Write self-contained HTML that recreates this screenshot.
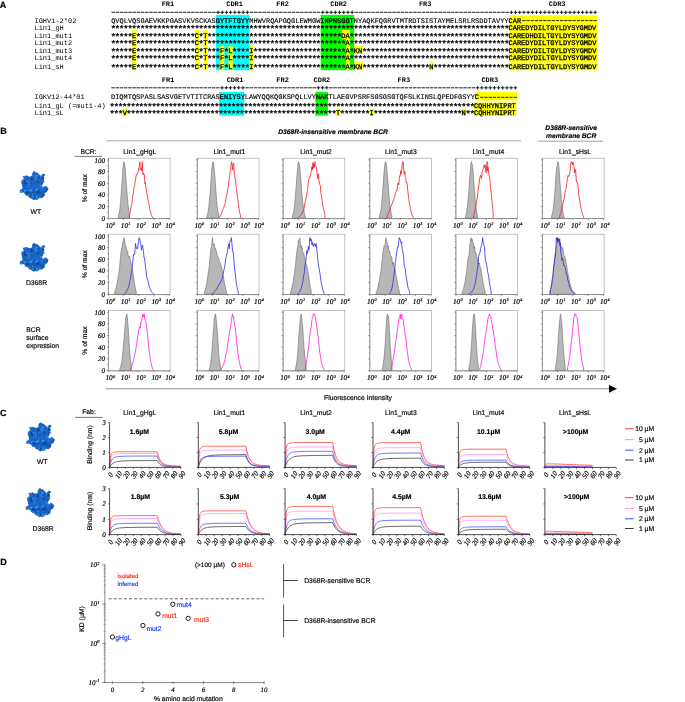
<!DOCTYPE html>
<html><head><meta charset="utf-8"><title>Figure</title>
<style>html,body{margin:0;padding:0;background:#fff;}svg{display:block;will-change:transform;}text{text-rendering:geometricPrecision;}.s{font-family:'Liberation Sans', sans-serif;}.r{font-family:'Liberation Serif', serif;}.m{font-family:'Liberation Mono', monospace;}.r{stroke:#000;stroke-width:0.18px;}.ml{stroke:#000;stroke-width:0.12px;}.s{stroke:#000;stroke-width:0.16px;}.st{stroke:#000;stroke-width:0.25px;}.sb{stroke:#000;stroke-width:0.3px;}</style>
</head><body>
<svg width="685" height="702" viewBox="0 0 685 702">
<rect width="685" height="702" fill="#fff"/>
<defs><clipPath id="bc"><path d="M2.96 5.29 L3.94 5.36 L4.89 5.12 L5.88 5 L7.14 4.85 L8.16 5.72 L9.38 5.88 L10.18 5.77 L10.92 5.48 L11.72 5.29 L12.41 4.43 L12.19 3.38 L12.3 2.38 L13.03 1.65 L13.66 0.81 L14.64 0.33 L15.32 1.37 L16.41 1.61 L17.56 1.79 L17.63 2.94 L18.96 3.15 L19.31 4.13 L20.12 4.17 L20.68 5.19 L21.65 4.71 L22.1 3.71 L22.88 3.15 L23.98 2.96 L24.44 3.27 L24.79 3.69 L25.15 4.13 L24.26 4.89 L23.7 5.78 L23.98 7.05 L24.11 8.21 L23.7 9.47 L24.56 10.55 L23.4 11.2 L22.68 12.21 L22.23 13.47 L21.72 14.57 L22.47 15.43 L22.81 16.39 L24.03 16.17 L25.02 15.29 L26.32 15.22 L26.93 16.04 L27.73 16.71 L28.36 17.56 L27.79 18.48 L27.5 19.53 L26.9 20.48 L26.02 21.14 L25.08 21.74 L24.56 22.81 L24.69 23.98 L24.3 24.94 L23.4 25.73 L22.35 26.44 L21.14 26.67 L19.89 26.9 L18.92 27.21 L18.08 27.7 L17.56 28.65 L16.37 28.38 L15.19 28.19 L14.05 28.94 L12.77 28.48 L11.86 27.4 L10.55 26.9 L9.37 26.4 L8.78 25.17 L7.63 24.56 L6.36 24.18 L5.48 23.3 L4.71 22.23 L3.47 21.29 L2.08 21.37 L0.62 21.65 L0.02 21.2 L0.37 20.45 L0.04 19.89 L0.44 18.75 L1.75 18.52 L2.38 17.56 L3.21 16.72 L2.69 15.62 L2.96 14.64 L2.16 13.81 L2.15 12.51 L1.21 11.72 L2 11.34 L1.89 10.66 L1.79 9.97 L2.09 9.16 L2.82 9 L3.54 8.8 L3.94 7.54 L3.58 6.42Z"/></clipPath>
<g id="blob"><path d="M2.96 5.29 L3.94 5.36 L4.89 5.12 L5.88 5 L7.14 4.85 L8.16 5.72 L9.38 5.88 L10.18 5.77 L10.92 5.48 L11.72 5.29 L12.41 4.43 L12.19 3.38 L12.3 2.38 L13.03 1.65 L13.66 0.81 L14.64 0.33 L15.32 1.37 L16.41 1.61 L17.56 1.79 L17.63 2.94 L18.96 3.15 L19.31 4.13 L20.12 4.17 L20.68 5.19 L21.65 4.71 L22.1 3.71 L22.88 3.15 L23.98 2.96 L24.44 3.27 L24.79 3.69 L25.15 4.13 L24.26 4.89 L23.7 5.78 L23.98 7.05 L24.11 8.21 L23.7 9.47 L24.56 10.55 L23.4 11.2 L22.68 12.21 L22.23 13.47 L21.72 14.57 L22.47 15.43 L22.81 16.39 L24.03 16.17 L25.02 15.29 L26.32 15.22 L26.93 16.04 L27.73 16.71 L28.36 17.56 L27.79 18.48 L27.5 19.53 L26.9 20.48 L26.02 21.14 L25.08 21.74 L24.56 22.81 L24.69 23.98 L24.3 24.94 L23.4 25.73 L22.35 26.44 L21.14 26.67 L19.89 26.9 L18.92 27.21 L18.08 27.7 L17.56 28.65 L16.37 28.38 L15.19 28.19 L14.05 28.94 L12.77 28.48 L11.86 27.4 L10.55 26.9 L9.37 26.4 L8.78 25.17 L7.63 24.56 L6.36 24.18 L5.48 23.3 L4.71 22.23 L3.47 21.29 L2.08 21.37 L0.62 21.65 L0.02 21.2 L0.37 20.45 L0.04 19.89 L0.44 18.75 L1.75 18.52 L2.38 17.56 L3.21 16.72 L2.69 15.62 L2.96 14.64 L2.16 13.81 L2.15 12.51 L1.21 11.72 L2 11.34 L1.89 10.66 L1.79 9.97 L2.09 9.16 L2.82 9 L3.54 8.8 L3.94 7.54 L3.58 6.42Z" fill="#1a64c4" stroke="#1a64c4" stroke-width="0.4" stroke-linejoin="round"/>
<g clip-path="url(#bc)">
<circle cx="2.88" cy="1.74" r="1.14" fill="#104690"/>
<circle cx="19.44" cy="5.46" r="0.91" fill="#104690"/>
<circle cx="11.95" cy="11.13" r="0.82" fill="#0f4088"/>
<circle cx="0.01" cy="25.07" r="1.28" fill="#1d6ccc"/>
<circle cx="8.67" cy="25.66" r="0.67" fill="#2278da"/>
<circle cx="28.38" cy="17.46" r="0.96" fill="#1452a8"/>
<circle cx="28.2" cy="6.18" r="0.71" fill="#1d6ccc"/>
<circle cx="9.38" cy="8.59" r="0.56" fill="#1557b0"/>
<circle cx="5.95" cy="18.46" r="0.51" fill="#3f9aee"/>
<circle cx="10.59" cy="13.14" r="1.27" fill="#165cba"/>
<circle cx="23.72" cy="3.94" r="0.81" fill="#104690"/>
<circle cx="8.86" cy="6.62" r="0.99" fill="#0f4088"/>
<circle cx="4.52" cy="18.24" r="0.94" fill="#2278da"/>
<circle cx="25.14" cy="17.5" r="0.84" fill="#1557b0"/>
<circle cx="3.11" cy="14.86" r="0.7" fill="#2278da"/>
<circle cx="7.32" cy="23.89" r="0.98" fill="#2f86e0"/>
<circle cx="14.82" cy="26.95" r="1.28" fill="#104690"/>
<circle cx="6.51" cy="16.22" r="1.18" fill="#1d6ccc"/>
<circle cx="2.11" cy="6.16" r="1.23" fill="#1452a8"/>
<circle cx="1.97" cy="11.93" r="0.7" fill="#1452a8"/>
<circle cx="5.02" cy="10.69" r="0.96" fill="#104690"/>
<circle cx="2.63" cy="4.01" r="0.86" fill="#3f9aee"/>
<circle cx="18.72" cy="20.05" r="0.97" fill="#104690"/>
<circle cx="16.81" cy="26.78" r="0.88" fill="#3f9aee"/>
<circle cx="19.98" cy="27.92" r="0.52" fill="#1557b0"/>
<circle cx="13.74" cy="21.18" r="0.76" fill="#1557b0"/>
<circle cx="2.14" cy="15.84" r="1.09" fill="#104690"/>
<circle cx="22.61" cy="26.54" r="0.78" fill="#165cba"/>
<circle cx="25.67" cy="25.26" r="0.83" fill="#1452a8"/>
<circle cx="24.61" cy="16.61" r="1" fill="#2278da"/>
<circle cx="10.81" cy="0.36" r="0.56" fill="#1557b0"/>
<circle cx="18.22" cy="28.81" r="1.2" fill="#3f9aee"/>
<circle cx="11.07" cy="21.32" r="0.96" fill="#165cba"/>
<circle cx="13.18" cy="15.7" r="0.91" fill="#1a66c6"/>
<circle cx="0.85" cy="17.44" r="0.88" fill="#0f4088"/>
<circle cx="27.29" cy="3.27" r="1.12" fill="#165cba"/>
<circle cx="7.29" cy="0.33" r="0.74" fill="#1d6ccc"/>
<circle cx="5.77" cy="4.92" r="1.22" fill="#165cba"/>
<circle cx="14.2" cy="7" r="0.82" fill="#2f86e0"/>
<circle cx="5.66" cy="12.5" r="1.14" fill="#0f4088"/>
<circle cx="25.09" cy="11.15" r="0.97" fill="#3f9aee"/>
<circle cx="5.98" cy="3.9" r="0.78" fill="#1452a8"/>
<circle cx="20.27" cy="27.55" r="0.72" fill="#104690"/>
<circle cx="3.22" cy="13.67" r="1.24" fill="#2278da"/>
<circle cx="10.9" cy="15.08" r="1.04" fill="#1d6ccc"/>
<circle cx="12.9" cy="2.17" r="0.53" fill="#1d6ccc"/>
<circle cx="1.18" cy="20.55" r="0.96" fill="#2f86e0"/>
<circle cx="18.5" cy="16.36" r="1.01" fill="#2278da"/>
<circle cx="12.96" cy="0.72" r="1.16" fill="#0f4088"/>
<circle cx="22.21" cy="23.11" r="1.29" fill="#1557b0"/>
<circle cx="12.72" cy="18.27" r="1.02" fill="#3f9aee"/>
<circle cx="27.32" cy="19.85" r="0.66" fill="#165cba"/>
<circle cx="7.3" cy="20.71" r="1.1" fill="#1a66c6"/>
<circle cx="20.35" cy="5.19" r="0.72" fill="#3f9aee"/>
<circle cx="15.38" cy="27.46" r="0.9" fill="#104690"/>
<circle cx="11.22" cy="22.97" r="1.22" fill="#1557b0"/>
<circle cx="11.7" cy="25.89" r="0.81" fill="#165cba"/>
<circle cx="12.93" cy="18.14" r="1.23" fill="#2278da"/>
<circle cx="15.68" cy="18.93" r="0.9" fill="#3f9aee"/>
<circle cx="13.22" cy="18.89" r="0.66" fill="#1557b0"/>
<circle cx="6.08" cy="26.1" r="1.28" fill="#2f86e0"/>
<circle cx="15.3" cy="22.93" r="0.76" fill="#1452a8"/>
<circle cx="9.93" cy="2.4" r="0.85" fill="#1a66c6"/>
<circle cx="12.01" cy="7.98" r="1.24" fill="#0f4088"/>
<circle cx="23.06" cy="1.86" r="1.14" fill="#104690"/>
<circle cx="15.19" cy="19.91" r="1.23" fill="#165cba"/>
<circle cx="4.24" cy="14.98" r="1.08" fill="#165cba"/>
<circle cx="26.95" cy="14.28" r="1.26" fill="#1557b0"/>
<circle cx="21.6" cy="12.74" r="0.95" fill="#1a66c6"/>
<circle cx="18.21" cy="15.16" r="1.17" fill="#1a66c6"/>
<circle cx="7.31" cy="19.47" r="1.26" fill="#1d6ccc"/>
<circle cx="5.93" cy="24.67" r="1.27" fill="#1a66c6"/>
<circle cx="7.78" cy="14.43" r="0.83" fill="#1557b0"/>
<circle cx="14.34" cy="17.55" r="0.52" fill="#1452a8"/>
<circle cx="14.71" cy="11.62" r="1.14" fill="#1d6ccc"/>
<circle cx="3.48" cy="2.7" r="0.63" fill="#1a66c6"/>
<circle cx="13.08" cy="26.7" r="1.14" fill="#2278da"/>
<circle cx="7.67" cy="13.72" r="0.6" fill="#2278da"/>
<circle cx="25.68" cy="27.13" r="1.24" fill="#1a66c6"/>
<circle cx="9.04" cy="5.55" r="0.99" fill="#2f86e0"/>
<circle cx="3.69" cy="22.6" r="0.52" fill="#0f4088"/>
<circle cx="4.43" cy="0.34" r="0.73" fill="#3f9aee"/>
<circle cx="6.97" cy="14.47" r="0.9" fill="#1d6ccc"/>
<circle cx="3.5" cy="14.8" r="0.7" fill="#0f4088"/>
<circle cx="19.99" cy="25.48" r="0.52" fill="#2278da"/>
<circle cx="23.52" cy="17.86" r="0.93" fill="#1a66c6"/>
<circle cx="18.2" cy="15.36" r="1.18" fill="#1d6ccc"/>
<circle cx="16.72" cy="3.96" r="1.23" fill="#3f9aee"/>
<circle cx="25.73" cy="9.16" r="0.75" fill="#0f4088"/>
<circle cx="6.22" cy="28.95" r="1.21" fill="#104690"/>
<circle cx="25.34" cy="3.84" r="0.57" fill="#2278da"/>
<circle cx="2.76" cy="24.13" r="0.84" fill="#104690"/>
<circle cx="5.72" cy="18.21" r="1.14" fill="#1557b0"/>
<circle cx="5.73" cy="19.79" r="1.23" fill="#3f9aee"/>
<circle cx="3.29" cy="14.66" r="1.11" fill="#1a66c6"/>
<circle cx="28.46" cy="24.16" r="1.14" fill="#165cba"/>
<circle cx="3.03" cy="1.09" r="0.94" fill="#1a66c6"/>
<circle cx="25.8" cy="13.96" r="0.65" fill="#1557b0"/>
<circle cx="5.81" cy="24.37" r="1.29" fill="#1557b0"/>
<circle cx="16.52" cy="3.9" r="1.04" fill="#1557b0"/>
<circle cx="21.79" cy="9.48" r="0.87" fill="#1a66c6"/>
<circle cx="10.11" cy="6.09" r="0.8" fill="#1452a8"/>
<circle cx="24.06" cy="5.26" r="0.86" fill="#3f9aee"/>
<circle cx="11.55" cy="5.66" r="0.63" fill="#1a66c6"/>
<circle cx="22.58" cy="9.39" r="0.57" fill="#2278da"/>
<circle cx="16.24" cy="5.54" r="0.97" fill="#3f9aee"/>
<circle cx="22.94" cy="7.49" r="1.23" fill="#104690"/>
<circle cx="23.22" cy="11.76" r="1.22" fill="#1a66c6"/>
<circle cx="19.8" cy="22.25" r="1.11" fill="#2278da"/>
<circle cx="5.89" cy="5.36" r="1.14" fill="#2f86e0"/>
<circle cx="13.36" cy="0.31" r="0.78" fill="#1d6ccc"/>
<circle cx="1.41" cy="7.92" r="1.27" fill="#2f86e0"/>
<circle cx="9.63" cy="19.13" r="0.96" fill="#1a66c6"/>
<circle cx="2.19" cy="14.93" r="0.9" fill="#0f4088"/>
<circle cx="19.99" cy="22.09" r="1.28" fill="#1452a8"/>
<circle cx="3.27" cy="3.13" r="0.69" fill="#165cba"/>
<circle cx="11.44" cy="1.46" r="0.66" fill="#2278da"/>
<circle cx="0.31" cy="7.5" r="0.72" fill="#3f9aee"/>
<circle cx="15.68" cy="14.73" r="1.27" fill="#1d6ccc"/>
<circle cx="24.12" cy="2.89" r="0.86" fill="#1557b0"/>
<circle cx="15.66" cy="19.38" r="1.26" fill="#2278da"/>
<circle cx="26.51" cy="4.64" r="0.88" fill="#104690"/>
<circle cx="24.39" cy="15.72" r="0.98" fill="#2278da"/>
<circle cx="26.94" cy="12.2" r="0.92" fill="#1d6ccc"/>
<circle cx="8.9" cy="15.38" r="0.89" fill="#2f86e0"/>
<circle cx="15.98" cy="8.22" r="1.07" fill="#2f86e0"/>
<circle cx="0.77" cy="22.4" r="0.97" fill="#104690"/>
<circle cx="11.65" cy="19.85" r="0.54" fill="#3f9aee"/>
<circle cx="21.33" cy="1.45" r="1.29" fill="#3f9aee"/>
<circle cx="2.09" cy="26.26" r="0.84" fill="#165cba"/>
<circle cx="7.15" cy="21.91" r="0.54" fill="#1557b0"/>
<circle cx="26.71" cy="20.96" r="0.87" fill="#0f4088"/>
<circle cx="17.2" cy="3.34" r="1" fill="#165cba"/>
<circle cx="3.36" cy="24.97" r="0.79" fill="#104690"/>
<circle cx="3.54" cy="12.84" r="1.03" fill="#165cba"/>
<circle cx="17.13" cy="18.55" r="1.05" fill="#3f9aee"/>
<circle cx="22.17" cy="15.39" r="1.3" fill="#2f86e0"/>
<circle cx="20.93" cy="6.91" r="0.59" fill="#2f86e0"/>
<circle cx="22.35" cy="18.12" r="0.79" fill="#2f86e0"/>
<circle cx="17.38" cy="21.03" r="1.06" fill="#0f4088"/>
<circle cx="18.04" cy="21.85" r="0.65" fill="#0f4088"/>
<circle cx="14.31" cy="18.94" r="0.66" fill="#1452a8"/>
<circle cx="17.91" cy="0.27" r="0.71" fill="#1452a8"/>
<circle cx="17.77" cy="2.97" r="0.93" fill="#1557b0"/>
<circle cx="21.54" cy="26.47" r="0.63" fill="#0f4088"/>
<circle cx="17.99" cy="10.82" r="0.88" fill="#0f4088"/>
<circle cx="9.64" cy="14.34" r="0.61" fill="#1557b0"/>
<circle cx="22.86" cy="12.97" r="1.16" fill="#0f4088"/>
<circle cx="12.66" cy="21.67" r="0.81" fill="#104690"/>
<circle cx="10.52" cy="18.96" r="1.29" fill="#3f9aee"/>
<circle cx="8.29" cy="22.01" r="1.16" fill="#104690"/>
<circle cx="12.19" cy="10.71" r="0.58" fill="#3f9aee"/>
<circle cx="2.24" cy="2.41" r="0.95" fill="#165cba"/>
<circle cx="23.24" cy="13.44" r="1.16" fill="#1452a8"/>
<circle cx="2.17" cy="6.18" r="1.03" fill="#1557b0"/>
<circle cx="19.81" cy="14.35" r="1.11" fill="#3f9aee"/>
<circle cx="8.06" cy="4.14" r="0.79" fill="#3f9aee"/>
<circle cx="10.44" cy="3.4" r="1.07" fill="#1d6ccc"/>
<circle cx="16.95" cy="26.17" r="1.05" fill="#2f86e0"/>
<circle cx="12.48" cy="23.29" r="0.74" fill="#3f9aee"/>
<circle cx="6.3" cy="28.07" r="1.08" fill="#1a66c6"/>
<circle cx="7.08" cy="10.49" r="0.79" fill="#3f9aee"/>
<circle cx="19.29" cy="16.96" r="1.14" fill="#1d6ccc"/>
<circle cx="10.5" cy="11.32" r="0.62" fill="#1d6ccc"/>
<circle cx="16.04" cy="5.12" r="1.11" fill="#2f86e0"/>
<circle cx="23.14" cy="6.42" r="0.55" fill="#104690"/>
<circle cx="16.17" cy="28.03" r="1.02" fill="#2278da"/>
<circle cx="1.83" cy="15.86" r="1.13" fill="#1557b0"/>
<circle cx="9.53" cy="7.94" r="0.58" fill="#3f9aee"/>
<circle cx="2.41" cy="18.39" r="0.62" fill="#2278da"/>
<circle cx="7" cy="6.39" r="1.11" fill="#1a66c6"/>
<circle cx="9.64" cy="13.31" r="0.78" fill="#3f9aee"/>
<circle cx="19.16" cy="14.32" r="0.93" fill="#1557b0"/>
<circle cx="20.18" cy="26.53" r="0.83" fill="#3f9aee"/>
<circle cx="24.32" cy="23.37" r="1.17" fill="#165cba"/>
<circle cx="27.3" cy="18.57" r="0.92" fill="#1452a8"/>
<circle cx="22.86" cy="12.23" r="0.84" fill="#104690"/>
<circle cx="7" cy="4.71" r="1.01" fill="#104690"/>
<circle cx="9.15" cy="11.29" r="0.92" fill="#2f86e0"/>
<circle cx="27.64" cy="1.72" r="0.75" fill="#1557b0"/>
<circle cx="8.65" cy="4.51" r="1.24" fill="#1452a8"/>
<circle cx="21.46" cy="0.5" r="0.88" fill="#1452a8"/>
<circle cx="8.91" cy="5.73" r="0.79" fill="#1d6ccc"/>
<circle cx="6.71" cy="20.8" r="0.98" fill="#0f4088"/>
<circle cx="12.6" cy="25.94" r="0.82" fill="#2f86e0"/>
<circle cx="17.86" cy="27.32" r="0.94" fill="#2f86e0"/>
<circle cx="13.82" cy="11.68" r="1.26" fill="#1a66c6"/>
<circle cx="21.99" cy="2.68" r="1.19" fill="#2278da"/>
<circle cx="1.42" cy="27.48" r="1.14" fill="#2278da"/>
<circle cx="27.82" cy="23.05" r="1.12" fill="#1452a8"/>
<circle cx="18.74" cy="6.89" r="0.51" fill="#165cba"/>
<circle cx="25.8" cy="13.05" r="0.7" fill="#2278da"/>
<circle cx="17.27" cy="4.56" r="0.63" fill="#3f9aee"/>
<circle cx="4.13" cy="26.34" r="1.15" fill="#104690"/>
<circle cx="18.15" cy="28.8" r="0.71" fill="#1a66c6"/>
<circle cx="1.51" cy="16.58" r="0.64" fill="#0f4088"/>
<circle cx="23.41" cy="24.54" r="1.16" fill="#1557b0"/>
<circle cx="10.02" cy="17.83" r="0.92" fill="#165cba"/>
<circle cx="19.77" cy="2.4" r="1.1" fill="#1a66c6"/>
<circle cx="24.43" cy="8.8" r="1.13" fill="#2278da"/>
</g></g></defs>
<rect x="215.95" y="14.9" width="33.52" height="55.3" fill="#00ffff"/>
<rect x="320.7" y="14.9" width="33.52" height="55.3" fill="#00ff00"/>
<rect x="508.95" y="15.3" width="88.59" height="54.9" fill="#ffff00"/>
<rect x="508.95" y="30.95" width="88.59" height="0.5" fill="#ffffa0"/>
<rect x="508.95" y="47.05" width="88.59" height="0.5" fill="#ffffa0"/>
<rect x="508.95" y="62.55" width="88.59" height="0.5" fill="#ffffa0"/>
<rect x="132.15" y="30" width="4.19" height="9" fill="#ffff00"/>
<rect x="195" y="30" width="4.19" height="9" fill="#ffff00"/>
<rect x="203.38" y="30" width="4.19" height="9" fill="#ffff00"/>
<rect x="341.65" y="30" width="4.19" height="9" fill="#ffff00"/>
<rect x="345.84" y="30" width="4.19" height="9" fill="#ffff00"/>
<rect x="132.15" y="39" width="4.19" height="7" fill="#ffff00"/>
<rect x="195" y="39" width="4.19" height="7" fill="#ffff00"/>
<rect x="203.38" y="39" width="4.19" height="7" fill="#ffff00"/>
<rect x="345.84" y="39" width="4.19" height="7" fill="#ffff00"/>
<rect x="132.15" y="46" width="4.19" height="8" fill="#ffff00"/>
<rect x="195" y="46" width="4.19" height="8" fill="#ffff00"/>
<rect x="203.38" y="46" width="4.19" height="8" fill="#ffff00"/>
<rect x="220.14" y="46" width="4.19" height="8" fill="#ffff00"/>
<rect x="228.52" y="46" width="4.19" height="8" fill="#ffff00"/>
<rect x="249.47" y="46" width="4.19" height="8" fill="#ffff00"/>
<rect x="345.84" y="46" width="4.19" height="8" fill="#ffff00"/>
<rect x="354.22" y="46" width="4.19" height="8" fill="#ffff00"/>
<rect x="358.41" y="46" width="4.19" height="8" fill="#ffff00"/>
<rect x="132.15" y="54" width="4.19" height="7.5" fill="#ffff00"/>
<rect x="195" y="54" width="4.19" height="7.5" fill="#ffff00"/>
<rect x="203.38" y="54" width="4.19" height="7.5" fill="#ffff00"/>
<rect x="220.14" y="54" width="4.19" height="7.5" fill="#ffff00"/>
<rect x="228.52" y="54" width="4.19" height="7.5" fill="#ffff00"/>
<rect x="249.47" y="54" width="4.19" height="7.5" fill="#ffff00"/>
<rect x="345.84" y="54" width="4.19" height="7.5" fill="#ffff00"/>
<rect x="132.15" y="61.5" width="4.19" height="8.7" fill="#ffff00"/>
<rect x="195" y="61.5" width="4.19" height="8.7" fill="#ffff00"/>
<rect x="203.38" y="61.5" width="4.19" height="8.7" fill="#ffff00"/>
<rect x="220.14" y="61.5" width="4.19" height="8.7" fill="#ffff00"/>
<rect x="228.52" y="61.5" width="4.19" height="8.7" fill="#ffff00"/>
<rect x="249.47" y="61.5" width="4.19" height="8.7" fill="#ffff00"/>
<rect x="345.84" y="61.5" width="4.19" height="8.7" fill="#ffff00"/>
<rect x="354.22" y="61.5" width="4.19" height="8.7" fill="#ffff00"/>
<rect x="358.41" y="61.5" width="4.19" height="8.7" fill="#ffff00"/>
<rect x="429.64" y="61.5" width="4.19" height="8.7" fill="#ffff00"/>
<text class="m" x="167.9" y="6.1" font-size="6.98" text-anchor="middle" font-weight="bold">FR1</text>
<text class="m" x="234.6" y="6.1" font-size="6.98" text-anchor="middle" font-weight="bold">CDR1</text>
<text class="m" x="282.6" y="6.1" font-size="6.98" text-anchor="middle" font-weight="bold">FR2</text>
<text class="m" x="338.7" y="6.1" font-size="6.98" text-anchor="middle" font-weight="bold">CDR2</text>
<text class="m" x="425.2" y="6.1" font-size="6.98" text-anchor="middle" font-weight="bold">FR3</text>
<text class="m" x="557.2" y="6.1" font-size="6.98" text-anchor="middle" font-weight="bold">CDR3</text>
<path d="M111.55 12.3h3.5M115.74 12.3h3.5M119.93 12.3h3.5M124.12 12.3h3.5M128.31 12.3h3.5M132.5 12.3h3.5M136.69 12.3h3.5M140.88 12.3h3.5M145.07 12.3h3.5M149.26 12.3h3.5M153.45 12.3h3.5M157.64 12.3h3.5M161.83 12.3h3.5M166.02 12.3h3.5M170.21 12.3h3.5M174.4 12.3h3.5M178.59 12.3h3.5M182.78 12.3h3.5M186.97 12.3h3.5M191.16 12.3h3.5M195.35 12.3h3.5M199.54 12.3h3.5M203.73 12.3h3.5M207.92 12.3h3.5M212.11 12.3h3.5M216.3 12.3h3.5M218.05 10.6v3.4M220.49 12.3h3.5M222.24 10.6v3.4M224.68 12.3h3.5M226.43 10.6v3.4M228.87 12.3h3.5M230.62 10.6v3.4M233.06 12.3h3.5M234.81 10.6v3.4M237.25 12.3h3.5M239 10.6v3.4M241.44 12.3h3.5M243.19 10.6v3.4M245.63 12.3h3.5M247.38 10.6v3.4M249.82 12.3h3.5M254.01 12.3h3.5M258.2 12.3h3.5M262.39 12.3h3.5M266.58 12.3h3.5M270.77 12.3h3.5M274.96 12.3h3.5M279.15 12.3h3.5M283.34 12.3h3.5M287.53 12.3h3.5M291.72 12.3h3.5M295.91 12.3h3.5M300.1 12.3h3.5M304.29 12.3h3.5M308.48 12.3h3.5M312.67 12.3h3.5M316.86 12.3h3.5M321.05 12.3h3.5M322.8 10.6v3.4M325.24 12.3h3.5M326.99 10.6v3.4M329.43 12.3h3.5M331.18 10.6v3.4M333.62 12.3h3.5M335.37 10.6v3.4M337.81 12.3h3.5M339.56 10.6v3.4M342 12.3h3.5M343.75 10.6v3.4M346.19 12.3h3.5M347.94 10.6v3.4M350.38 12.3h3.5M352.13 10.6v3.4M354.57 12.3h3.5M358.76 12.3h3.5M362.95 12.3h3.5M367.14 12.3h3.5M371.33 12.3h3.5M375.52 12.3h3.5M379.71 12.3h3.5M383.9 12.3h3.5M388.09 12.3h3.5M392.28 12.3h3.5M396.47 12.3h3.5M400.66 12.3h3.5M404.85 12.3h3.5M409.04 12.3h3.5M413.23 12.3h3.5M417.42 12.3h3.5M421.61 12.3h3.5M425.8 12.3h3.5M429.99 12.3h3.5M434.18 12.3h3.5M438.37 12.3h3.5M442.56 12.3h3.5M446.75 12.3h3.5M450.94 12.3h3.5M455.13 12.3h3.5M459.32 12.3h3.5M463.51 12.3h3.5M467.7 12.3h3.5M471.89 12.3h3.5M476.08 12.3h3.5M480.27 12.3h3.5M484.46 12.3h3.5M488.65 12.3h3.5M492.84 12.3h3.5M497.03 12.3h3.5M501.22 12.3h3.5M505.41 12.3h3.5M509.6 12.3h3.5M511.35 10.6v3.4M513.79 12.3h3.5M515.54 10.6v3.4M517.98 12.3h3.5M519.73 10.6v3.4M522.17 12.3h3.5M523.92 10.6v3.4M526.36 12.3h3.5M528.11 10.6v3.4M530.55 12.3h3.5M532.3 10.6v3.4M534.74 12.3h3.5M536.49 10.6v3.4M538.93 12.3h3.5M540.68 10.6v3.4M543.12 12.3h3.5M544.87 10.6v3.4M547.31 12.3h3.5M549.06 10.6v3.4M551.5 12.3h3.5M553.25 10.6v3.4M555.69 12.3h3.5M557.44 10.6v3.4M559.88 12.3h3.5M561.63 10.6v3.4M564.07 12.3h3.5M565.82 10.6v3.4M568.26 12.3h3.5M570.01 10.6v3.4M572.45 12.3h3.5M574.2 10.6v3.4M576.64 12.3h3.5M578.39 10.6v3.4M580.83 12.3h3.5M582.58 10.6v3.4M585.02 12.3h3.5M586.77 10.6v3.4M589.21 12.3h3.5M590.96 10.6v3.4M593.4 12.3h3.5M595.15 10.6v3.4" stroke="#111" stroke-width="0.95" fill="none"/>
<text class="m" x="34.5" y="22.6" font-size="6.98">IGHV1-2*02</text>
<text class="m ml" x="111.2" y="22.6" font-size="6.98" letter-spacing="0">QVQLVQSGAEVKKPGASVKVSCKAS<tspan class="sb">GYTFTGYY</tspan>MHWVRQAPGQGLEWMGW<tspan class="sb">INPNSGGT</tspan>NYAQKFQGRVTMTRDTSISTAYMELSRLRSDDTAVYY<tspan class="sb">CAR</tspan></text>
<path d="M522.27 20.6h3.3M526.46 20.6h3.3M530.65 20.6h3.3M534.84 20.6h3.3M539.03 20.6h3.3M543.22 20.6h3.3M547.41 20.6h3.3M551.6 20.6h3.3M555.79 20.6h3.3M559.98 20.6h3.3M564.17 20.6h3.3M568.36 20.6h3.3M572.55 20.6h3.3M576.74 20.6h3.3M580.93 20.6h3.3M585.12 20.6h3.3M589.31 20.6h3.3M593.5 20.6h3.3" stroke="#111" stroke-width="0.9" fill="none"/>
<text class="m" x="34.5" y="29.5" font-size="6.98">Lin1_gH</text>
<text class="m ml" x="111.2" y="29.5" font-size="6.98" letter-spacing="0">                                                                                               <tspan class="sb">CAREDYDILTGYLDYSYGMDV</tspan></text>
<text class="m st" x="110.42" y="31.85" font-size="9.6" letter-spacing="-1.57">***********************************************************************************************</text>
<text class="m" x="34.5" y="37.7" font-size="6.98">Lin1_mut1</text>
<text class="m ml" x="111.2" y="37.7" font-size="6.98" letter-spacing="0">     <tspan class="sb">E</tspan>              <tspan class="sb">C</tspan> <tspan class="sb">T</tspan>                                <tspan class="sb">DA</tspan>                                      <tspan class="sb">CAREDHDILTGYLDYSYGMDV</tspan></text>
<text class="m st" x="110.42" y="40.05" font-size="9.6" letter-spacing="-1.57">***** ************** * ********************************  **************************************</text>
<text class="m" x="34.5" y="44.7" font-size="6.98">Lin1_mut2</text>
<text class="m ml" x="111.2" y="44.7" font-size="6.98" letter-spacing="0">     <tspan class="sb">E</tspan>              <tspan class="sb">C</tspan> <tspan class="sb">T</tspan>                                 <tspan class="sb">A</tspan>                                      <tspan class="sb">CAREDYDILTGYLDYSYGMDV</tspan></text>
<text class="m st" x="110.42" y="47.05" font-size="9.6" letter-spacing="-1.57">***** ************** * ********************************* **************************************</text>
<text class="m" x="34.5" y="52.9" font-size="6.98">Lin1_mut3</text>
<text class="m ml" x="111.2" y="52.9" font-size="6.98" letter-spacing="0">     <tspan class="sb">E</tspan>              <tspan class="sb">C</tspan> <tspan class="sb">T</tspan>   <tspan class="sb">F</tspan> <tspan class="sb">L</tspan>    <tspan class="sb">I</tspan>                      <tspan class="sb">A</tspan> <tspan class="sb">KN</tspan>                                   <tspan class="sb">CAREDYDILTGYLDYSYGMDV</tspan></text>
<text class="m st" x="110.42" y="55.25" font-size="9.6" letter-spacing="-1.57">***** ************** * *** * **** ********************** *  ***********************************</text>
<text class="m" x="34.5" y="60.1" font-size="6.98">Lin1_mut4</text>
<text class="m ml" x="111.2" y="60.1" font-size="6.98" letter-spacing="0">     <tspan class="sb">E</tspan>              <tspan class="sb">C</tspan> <tspan class="sb">T</tspan>   <tspan class="sb">F</tspan> <tspan class="sb">L</tspan>    <tspan class="sb">I</tspan>                      <tspan class="sb">A</tspan>                                      <tspan class="sb">CAREDYDILTGYLDYSYGMDV</tspan></text>
<text class="m st" x="110.42" y="62.45" font-size="9.6" letter-spacing="-1.57">***** ************** * *** * **** ********************** **************************************</text>
<text class="m" x="34.5" y="68.6" font-size="6.98">Lin1_sH</text>
<text class="m ml" x="111.2" y="68.6" font-size="6.98" letter-spacing="0">     <tspan class="sb">E</tspan>              <tspan class="sb">C</tspan> <tspan class="sb">T</tspan>   <tspan class="sb">F</tspan> <tspan class="sb">L</tspan>    <tspan class="sb">I</tspan>                      <tspan class="sb">A</tspan> <tspan class="sb">KN</tspan>                <tspan class="sb">N</tspan>                  <tspan class="sb">CAREDYDILTGYLDYSYGMDV</tspan></text>
<text class="m st" x="110.42" y="70.95" font-size="9.6" letter-spacing="-1.57">***** ************** * *** * **** ********************** *  **************** ******************</text>
<rect x="219.04" y="91.8" width="25.14" height="23.9" fill="#00ffff"/>
<rect x="315.41" y="91.8" width="12.57" height="23.9" fill="#00ff00"/>
<rect x="475.33" y="91.8" width="41.9" height="8.7" fill="#ffff00"/>
<rect x="474.03" y="102.6" width="42.2" height="13.3" fill="#ffff00"/>
<rect x="122.57" y="108.5" width="4.19" height="7.3" fill="#ffff00"/>
<rect x="336.26" y="108.5" width="4.19" height="7.3" fill="#ffff00"/>
<rect x="369.78" y="108.5" width="4.19" height="7.3" fill="#ffff00"/>
<rect x="461.96" y="108.5" width="4.19" height="7.3" fill="#ffff00"/>
<text class="m" x="168.1" y="82.4" font-size="6.98" text-anchor="middle" font-weight="bold">FR1</text>
<text class="m" x="235" y="82.4" font-size="6.98" text-anchor="middle" font-weight="bold">CDR1</text>
<text class="m" x="282.6" y="82.4" font-size="6.98" text-anchor="middle" font-weight="bold">FR2</text>
<text class="m" x="321.9" y="82.4" font-size="6.98" text-anchor="middle" font-weight="bold">CDR2</text>
<text class="m" x="403.8" y="82.4" font-size="6.98" text-anchor="middle" font-weight="bold">FR3</text>
<text class="m" x="489.8" y="82.4" font-size="6.98" text-anchor="middle" font-weight="bold">CDR3</text>
<path d="M111.35 87.8h3.5M115.54 87.8h3.5M119.73 87.8h3.5M123.92 87.8h3.5M128.11 87.8h3.5M132.3 87.8h3.5M136.49 87.8h3.5M140.68 87.8h3.5M144.87 87.8h3.5M149.06 87.8h3.5M153.25 87.8h3.5M157.44 87.8h3.5M161.63 87.8h3.5M165.82 87.8h3.5M170.01 87.8h3.5M174.2 87.8h3.5M178.39 87.8h3.5M182.58 87.8h3.5M186.77 87.8h3.5M190.96 87.8h3.5M195.15 87.8h3.5M199.34 87.8h3.5M203.53 87.8h3.5M207.72 87.8h3.5M211.91 87.8h3.5M216.1 87.8h3.5M220.29 87.8h3.5M222.03 86.1v3.4M224.48 87.8h3.5M226.22 86.1v3.4M228.67 87.8h3.5M230.41 86.1v3.4M232.86 87.8h3.5M234.6 86.1v3.4M237.05 87.8h3.5M238.8 86.1v3.4M241.24 87.8h3.5M242.99 86.1v3.4M245.43 87.8h3.5M249.62 87.8h3.5M253.81 87.8h3.5M258 87.8h3.5M262.19 87.8h3.5M266.38 87.8h3.5M270.57 87.8h3.5M274.76 87.8h3.5M278.95 87.8h3.5M283.14 87.8h3.5M287.33 87.8h3.5M291.52 87.8h3.5M295.71 87.8h3.5M299.9 87.8h3.5M304.09 87.8h3.5M308.28 87.8h3.5M312.47 87.8h3.5M316.66 87.8h3.5M318.41 86.1v3.4M320.85 87.8h3.5M322.6 86.1v3.4M325.04 87.8h3.5M326.79 86.1v3.4M329.23 87.8h3.5M333.42 87.8h3.5M337.61 87.8h3.5M341.8 87.8h3.5M345.99 87.8h3.5M350.18 87.8h3.5M354.37 87.8h3.5M358.56 87.8h3.5M362.75 87.8h3.5M366.94 87.8h3.5M371.13 87.8h3.5M375.32 87.8h3.5M379.51 87.8h3.5M383.7 87.8h3.5M387.89 87.8h3.5M392.08 87.8h3.5M396.27 87.8h3.5M400.46 87.8h3.5M404.65 87.8h3.5M408.84 87.8h3.5M413.03 87.8h3.5M417.22 87.8h3.5M421.41 87.8h3.5M425.6 87.8h3.5M429.79 87.8h3.5M433.98 87.8h3.5M438.17 87.8h3.5M442.36 87.8h3.5M446.55 87.8h3.5M450.74 87.8h3.5M454.93 87.8h3.5M459.12 87.8h3.5M463.31 87.8h3.5M467.5 87.8h3.5M471.69 87.8h3.5M475.88 87.8h3.5M477.63 86.1v3.4M480.07 87.8h3.5M481.82 86.1v3.4M484.26 87.8h3.5M486.01 86.1v3.4M488.45 87.8h3.5M490.2 86.1v3.4M492.64 87.8h3.5M494.39 86.1v3.4M496.83 87.8h3.5M498.58 86.1v3.4M501.02 87.8h3.5M502.77 86.1v3.4M505.21 87.8h3.5M506.96 86.1v3.4M509.4 87.8h3.5M511.15 86.1v3.4M513.59 87.8h3.5M515.34 86.1v3.4" stroke="#111" stroke-width="0.95" fill="none"/>
<text class="m" x="34.5" y="99.3" font-size="6.98">IGKV12-44*01</text>
<text class="m ml" x="111" y="99.3" font-size="6.98" letter-spacing="0">DIQMTQSPASLSASVGETVTITCRAS<tspan class="sb">ENIYSY</tspan>LAWYQQKQGKSPQLLVY<tspan class="sb">NAK</tspan>TLAEGVPSRFSGSGSGTQFSLKINSLQPEDFGSYY<tspan class="sb">C</tspan></text>
<path d="M480.17 97.3h3.3M484.36 97.3h3.3M488.55 97.3h3.3M492.74 97.3h3.3M496.93 97.3h3.3M501.12 97.3h3.3M505.31 97.3h3.3M509.5 97.3h3.3M513.69 97.3h3.3" stroke="#111" stroke-width="0.9" fill="none"/>
<text class="m" x="34.5" y="108" font-size="6.98">Lin1_gL (=mut1-4)</text>
<text class="m ml" x="110.1" y="108" font-size="6.98" letter-spacing="0">                                                                                       <tspan class="sb">CQHHYNIPRT</tspan></text>
<text class="m st" x="109.32" y="110.35" font-size="9.6" letter-spacing="-1.57">***************************************************************************************</text>
<text class="m" x="34.5" y="114.9" font-size="6.98">Lin1_sL</text>
<text class="m ml" x="110.1" y="114.9" font-size="6.98" letter-spacing="0">   <tspan class="sb">V</tspan>                                                  <tspan class="sb">T</tspan>       <tspan class="sb">I</tspan>                     <tspan class="sb">N</tspan>  <tspan class="sb">CQHHYNIPRT</tspan></text>
<text class="m st" x="109.32" y="117.25" font-size="9.6" letter-spacing="-1.57">*** ************************************************** ******* ********************* **</text>
<text class="s" x="-0.3" y="7.9" font-size="9" font-weight="bold">A</text>
<text class="s" x="0.2" y="133.7" font-size="9" font-weight="bold">B</text>
<text class="s" x="0" y="415.8" font-size="9" font-weight="bold">C</text>
<text class="s" x="0.2" y="564.5" font-size="9" font-weight="bold">D</text>
<text class="s" x="333" y="133.6" font-size="6.7" text-anchor="middle" font-weight="bold" font-style="italic">D368R-insensitive membrane BCR</text>
<text class="s" x="571.2" y="129.5" font-size="6.7" text-anchor="middle" font-weight="bold" font-style="italic">D368R-sensitive</text>
<text class="s" x="571.2" y="137.7" font-size="6.7" text-anchor="middle" font-weight="bold" font-style="italic">membrane BCR</text>
<line x1="106.4" y1="140.8" x2="521" y2="140.8" stroke="#8c8c8c" stroke-width="0.8"/>
<line x1="537.8" y1="141.2" x2="603" y2="141.2" stroke="#8c8c8c" stroke-width="0.8"/>
<text class="s" x="88.5" y="153.6" font-size="6.8" text-anchor="middle">BCR:</text>
<line x1="74.7" y1="156.4" x2="102" y2="156.4" stroke="#222" stroke-width="0.6"/>
<text class="s" x="139.8" y="153.8" font-size="6.8" text-anchor="middle">Lin1_gHgL</text>
<text class="s" x="229.4" y="153.8" font-size="6.8" text-anchor="middle">Lin1_mut1</text>
<text class="s" x="316" y="153.8" font-size="6.8" text-anchor="middle">Lin1_mut2</text>
<text class="s" x="400.8" y="153.8" font-size="6.8" text-anchor="middle">Lin1_mut3</text>
<text class="s" x="488.3" y="153.8" font-size="6.8" text-anchor="middle">Lin1_mut4</text>
<text class="s" x="575.1" y="153.8" font-size="6.8" text-anchor="middle">Lin1_sHsL</text>
<use href="#blob" x="19.9" y="171"/>
<use href="#blob" x="19.9" y="242.6"/>
<text class="s" x="35.9" y="213.6" font-size="6.8" text-anchor="middle">WT</text>
<text class="s" x="36.5" y="285.1" font-size="6.8" text-anchor="middle">D368R</text>
<text class="s" x="26.2" y="331.8" font-size="6.8">BCR</text>
<text class="s" x="26.2" y="340" font-size="6.8">surface</text>
<text class="s" x="26.2" y="348.2" font-size="6.8">expression</text>
<text class="s" font-size="6.8" text-anchor="middle" transform="translate(86.6 188.2) rotate(-90)">% of max</text>
<rect x="108.4" y="158.2" width="61.7" height="60.3" fill="#fff" stroke="#a8a8a8" stroke-width="0.7"/>
<path d="M118.4 218.2 L118.4 216.12 L118.85 214.78 L119.3 212.79 L119.75 209.78 L120.2 206.1 L120.65 201.21 L121.1 194.82 L121.55 188.87 L122 182.19 L122.45 174.85 L122.9 168.46 L123.35 164.71 L123.8 161.65 L124.25 162.73 L124.7 164.06 L125.15 167.88 L125.6 173.89 L126.05 180.07 L126.5 186.27 L126.95 191.8 L127.4 197.55 L127.85 202.73 L128.3 206.98 L128.75 210.53 L129.2 213.04 L129.65 214.77 L129.65 218.2Z" fill="#b7b7b7" stroke="#5a5a5a" stroke-width="0.5" stroke-linejoin="round"/>
<path d="M129.3 218.2 L129.3 215.08 L129.8 213.52 L130.3 211.16 L130.8 208.92 L131.3 205.59 L131.8 203.56 L132.3 199.85 L132.8 194.82 L133.3 194.71 L133.8 188.63 L134.3 186.08 L134.8 184.48 L135.3 180.73 L135.8 177.73 L136.3 174.59 L136.8 175.28 L137.3 174.56 L137.8 172.91 L138.3 171.73 L138.8 167.68 L139.3 167.19 L139.8 161.81 L140.3 169.79 L140.8 168.38 L141.3 168.28 L141.8 170.72 L142.3 161.65 L142.8 174.33 L143.3 172.83 L143.8 174.79 L144.3 174.38 L144.8 183.75 L145.3 182.54 L145.8 187.46 L146.3 189.9 L146.8 192.95 L147.3 194.69 L147.8 199.01 L148.3 201.22 L148.8 203.56 L149.3 205.82 L149.8 209.72 L150.3 210.93 L150.8 212.88 L151.3 214.7 L151.8 215.86 L152.3 216.77 L152.8 217.27 L152.8 218.2" fill="none" stroke="#f01c24" stroke-width="0.8" stroke-linejoin="round"/>
<line x1="108.4" y1="158.2" x2="108.4" y2="218.5" stroke="#777" stroke-width="0.6"/>
<line x1="108.4" y1="218.5" x2="170.1" y2="218.5" stroke="#777" stroke-width="0.6"/>
<line x1="106.8" y1="218.2" x2="108.4" y2="218.2" stroke="#444" stroke-width="0.5"/>
<line x1="107.5" y1="212.37" x2="108.4" y2="212.37" stroke="#444" stroke-width="0.5"/>
<line x1="106.8" y1="206.54" x2="108.4" y2="206.54" stroke="#444" stroke-width="0.5"/>
<line x1="107.5" y1="200.71" x2="108.4" y2="200.71" stroke="#444" stroke-width="0.5"/>
<line x1="106.8" y1="194.88" x2="108.4" y2="194.88" stroke="#444" stroke-width="0.5"/>
<line x1="107.5" y1="189.05" x2="108.4" y2="189.05" stroke="#444" stroke-width="0.5"/>
<line x1="106.8" y1="183.22" x2="108.4" y2="183.22" stroke="#444" stroke-width="0.5"/>
<line x1="107.5" y1="177.39" x2="108.4" y2="177.39" stroke="#444" stroke-width="0.5"/>
<line x1="106.8" y1="171.56" x2="108.4" y2="171.56" stroke="#444" stroke-width="0.5"/>
<line x1="107.5" y1="165.73" x2="108.4" y2="165.73" stroke="#444" stroke-width="0.5"/>
<line x1="106.8" y1="159.9" x2="108.4" y2="159.9" stroke="#444" stroke-width="0.5"/>
<line x1="108.4" y1="218.5" x2="108.4" y2="220" stroke="#444" stroke-width="0.5"/>
<line x1="113.01" y1="218.5" x2="113.01" y2="219.3" stroke="#777" stroke-width="0.35"/>
<line x1="115.7" y1="218.5" x2="115.7" y2="219.3" stroke="#777" stroke-width="0.35"/>
<line x1="117.61" y1="218.5" x2="117.61" y2="219.3" stroke="#777" stroke-width="0.35"/>
<line x1="119.09" y1="218.5" x2="119.09" y2="219.3" stroke="#777" stroke-width="0.35"/>
<line x1="120.31" y1="218.5" x2="120.31" y2="219.3" stroke="#777" stroke-width="0.35"/>
<line x1="121.33" y1="218.5" x2="121.33" y2="219.3" stroke="#777" stroke-width="0.35"/>
<line x1="122.22" y1="218.5" x2="122.22" y2="219.3" stroke="#777" stroke-width="0.35"/>
<line x1="123" y1="218.5" x2="123" y2="219.3" stroke="#777" stroke-width="0.35"/>
<text class="r" x="110.3" y="228.1" font-size="7.3" font-style="italic" text-anchor="middle">10<tspan dy="-2.7" dx="0.25" font-size="4.2">0</tspan></text>
<line x1="123.7" y1="218.5" x2="123.7" y2="220" stroke="#444" stroke-width="0.5"/>
<line x1="128.31" y1="218.5" x2="128.31" y2="219.3" stroke="#777" stroke-width="0.35"/>
<line x1="131" y1="218.5" x2="131" y2="219.3" stroke="#777" stroke-width="0.35"/>
<line x1="132.91" y1="218.5" x2="132.91" y2="219.3" stroke="#777" stroke-width="0.35"/>
<line x1="134.39" y1="218.5" x2="134.39" y2="219.3" stroke="#777" stroke-width="0.35"/>
<line x1="135.61" y1="218.5" x2="135.61" y2="219.3" stroke="#777" stroke-width="0.35"/>
<line x1="136.63" y1="218.5" x2="136.63" y2="219.3" stroke="#777" stroke-width="0.35"/>
<line x1="137.52" y1="218.5" x2="137.52" y2="219.3" stroke="#777" stroke-width="0.35"/>
<line x1="138.3" y1="218.5" x2="138.3" y2="219.3" stroke="#777" stroke-width="0.35"/>
<text class="r" x="125.6" y="228.1" font-size="7.3" font-style="italic" text-anchor="middle">10<tspan dy="-2.7" dx="0.25" font-size="4.2">1</tspan></text>
<line x1="139" y1="218.5" x2="139" y2="220" stroke="#444" stroke-width="0.5"/>
<line x1="143.61" y1="218.5" x2="143.61" y2="219.3" stroke="#777" stroke-width="0.35"/>
<line x1="146.3" y1="218.5" x2="146.3" y2="219.3" stroke="#777" stroke-width="0.35"/>
<line x1="148.21" y1="218.5" x2="148.21" y2="219.3" stroke="#777" stroke-width="0.35"/>
<line x1="149.69" y1="218.5" x2="149.69" y2="219.3" stroke="#777" stroke-width="0.35"/>
<line x1="150.91" y1="218.5" x2="150.91" y2="219.3" stroke="#777" stroke-width="0.35"/>
<line x1="151.93" y1="218.5" x2="151.93" y2="219.3" stroke="#777" stroke-width="0.35"/>
<line x1="152.82" y1="218.5" x2="152.82" y2="219.3" stroke="#777" stroke-width="0.35"/>
<line x1="153.6" y1="218.5" x2="153.6" y2="219.3" stroke="#777" stroke-width="0.35"/>
<text class="r" x="140.9" y="228.1" font-size="7.3" font-style="italic" text-anchor="middle">10<tspan dy="-2.7" dx="0.25" font-size="4.2">2</tspan></text>
<line x1="154.3" y1="218.5" x2="154.3" y2="220" stroke="#444" stroke-width="0.5"/>
<line x1="158.91" y1="218.5" x2="158.91" y2="219.3" stroke="#777" stroke-width="0.35"/>
<line x1="161.6" y1="218.5" x2="161.6" y2="219.3" stroke="#777" stroke-width="0.35"/>
<line x1="163.51" y1="218.5" x2="163.51" y2="219.3" stroke="#777" stroke-width="0.35"/>
<line x1="164.99" y1="218.5" x2="164.99" y2="219.3" stroke="#777" stroke-width="0.35"/>
<line x1="166.21" y1="218.5" x2="166.21" y2="219.3" stroke="#777" stroke-width="0.35"/>
<line x1="167.23" y1="218.5" x2="167.23" y2="219.3" stroke="#777" stroke-width="0.35"/>
<line x1="168.12" y1="218.5" x2="168.12" y2="219.3" stroke="#777" stroke-width="0.35"/>
<line x1="168.9" y1="218.5" x2="168.9" y2="219.3" stroke="#777" stroke-width="0.35"/>
<text class="r" x="156.2" y="228.1" font-size="7.3" font-style="italic" text-anchor="middle">10<tspan dy="-2.7" dx="0.25" font-size="4.2">3</tspan></text>
<line x1="169.6" y1="218.5" x2="169.6" y2="220" stroke="#444" stroke-width="0.5"/>
<text class="r" x="170" y="228.1" font-size="7.3" font-style="italic" text-anchor="middle">10<tspan dy="-2.7" dx="0.25" font-size="4.2">4</tspan></text>
<text class="r" x="105" y="220.8" font-size="7" text-anchor="end" font-style="italic">0</text>
<text class="r" x="105" y="209.14" font-size="7" text-anchor="end" font-style="italic">20</text>
<text class="r" x="105" y="197.48" font-size="7" text-anchor="end" font-style="italic">40</text>
<text class="r" x="105" y="185.82" font-size="7" text-anchor="end" font-style="italic">60</text>
<text class="r" x="105" y="174.16" font-size="7" text-anchor="end" font-style="italic">80</text>
<text class="r" x="105" y="162.5" font-size="7" text-anchor="end" font-style="italic">100</text>
<rect x="197.3" y="158.2" width="61.7" height="60.3" fill="#fff" stroke="#a8a8a8" stroke-width="0.7"/>
<path d="M206.8 218.2 L206.8 216.42 L207.25 215.35 L207.7 213.67 L208.15 211.34 L208.6 208.26 L209.05 204.32 L209.5 198.94 L209.95 194.75 L210.4 189.7 L210.85 181.77 L211.3 175.33 L211.75 169.47 L212.2 165.65 L212.65 162.95 L213.1 161.65 L213.55 162.6 L214 167.44 L214.45 172.1 L214.9 176.16 L215.35 183.26 L215.8 190.14 L216.25 194.84 L216.7 200.51 L217.15 205.38 L217.6 209.08 L218.05 211.78 L218.5 214 L218.95 215.46 L218.95 218.2Z" fill="#b7b7b7" stroke="#5a5a5a" stroke-width="0.5" stroke-linejoin="round"/>
<path d="M219.2 218.2 L219.2 217.29 L219.7 216.7 L220.2 215.81 L220.7 215.05 L221.2 214.17 L221.7 212.76 L222.2 211.6 L222.7 210.1 L223.2 208.61 L223.7 207.65 L224.2 206.17 L224.7 204.57 L225.2 203.27 L225.7 200.02 L226.2 197.03 L226.7 195.42 L227.2 193.02 L227.7 189.83 L228.2 186.94 L228.7 183.14 L229.2 178.55 L229.7 175.46 L230.2 171.52 L230.7 170.66 L231.2 162.68 L231.7 161.65 L232.2 166.09 L232.7 170.12 L233.2 164.27 L233.7 163.31 L234.2 171.44 L234.7 175.32 L235.2 178.98 L235.7 181.28 L236.2 187.51 L236.7 189.82 L237.2 195.07 L237.7 198.44 L238.2 202.9 L238.7 206.79 L239.2 210.32 L239.7 212.72 L240.2 214.66 L240.7 215.97 L240.7 218.2" fill="none" stroke="#f01c24" stroke-width="0.8" stroke-linejoin="round"/>
<line x1="197.3" y1="158.2" x2="197.3" y2="218.5" stroke="#777" stroke-width="0.6"/>
<line x1="197.3" y1="218.5" x2="259" y2="218.5" stroke="#777" stroke-width="0.6"/>
<line x1="195.7" y1="218.2" x2="197.3" y2="218.2" stroke="#444" stroke-width="0.5"/>
<line x1="196.4" y1="212.37" x2="197.3" y2="212.37" stroke="#444" stroke-width="0.5"/>
<line x1="195.7" y1="206.54" x2="197.3" y2="206.54" stroke="#444" stroke-width="0.5"/>
<line x1="196.4" y1="200.71" x2="197.3" y2="200.71" stroke="#444" stroke-width="0.5"/>
<line x1="195.7" y1="194.88" x2="197.3" y2="194.88" stroke="#444" stroke-width="0.5"/>
<line x1="196.4" y1="189.05" x2="197.3" y2="189.05" stroke="#444" stroke-width="0.5"/>
<line x1="195.7" y1="183.22" x2="197.3" y2="183.22" stroke="#444" stroke-width="0.5"/>
<line x1="196.4" y1="177.39" x2="197.3" y2="177.39" stroke="#444" stroke-width="0.5"/>
<line x1="195.7" y1="171.56" x2="197.3" y2="171.56" stroke="#444" stroke-width="0.5"/>
<line x1="196.4" y1="165.73" x2="197.3" y2="165.73" stroke="#444" stroke-width="0.5"/>
<line x1="195.7" y1="159.9" x2="197.3" y2="159.9" stroke="#444" stroke-width="0.5"/>
<line x1="197.3" y1="218.5" x2="197.3" y2="220" stroke="#444" stroke-width="0.5"/>
<line x1="201.91" y1="218.5" x2="201.91" y2="219.3" stroke="#777" stroke-width="0.35"/>
<line x1="204.6" y1="218.5" x2="204.6" y2="219.3" stroke="#777" stroke-width="0.35"/>
<line x1="206.51" y1="218.5" x2="206.51" y2="219.3" stroke="#777" stroke-width="0.35"/>
<line x1="207.99" y1="218.5" x2="207.99" y2="219.3" stroke="#777" stroke-width="0.35"/>
<line x1="209.21" y1="218.5" x2="209.21" y2="219.3" stroke="#777" stroke-width="0.35"/>
<line x1="210.23" y1="218.5" x2="210.23" y2="219.3" stroke="#777" stroke-width="0.35"/>
<line x1="211.12" y1="218.5" x2="211.12" y2="219.3" stroke="#777" stroke-width="0.35"/>
<line x1="211.9" y1="218.5" x2="211.9" y2="219.3" stroke="#777" stroke-width="0.35"/>
<text class="r" x="199.2" y="228.1" font-size="7.3" font-style="italic" text-anchor="middle">10<tspan dy="-2.7" dx="0.25" font-size="4.2">0</tspan></text>
<line x1="212.6" y1="218.5" x2="212.6" y2="220" stroke="#444" stroke-width="0.5"/>
<line x1="217.21" y1="218.5" x2="217.21" y2="219.3" stroke="#777" stroke-width="0.35"/>
<line x1="219.9" y1="218.5" x2="219.9" y2="219.3" stroke="#777" stroke-width="0.35"/>
<line x1="221.81" y1="218.5" x2="221.81" y2="219.3" stroke="#777" stroke-width="0.35"/>
<line x1="223.29" y1="218.5" x2="223.29" y2="219.3" stroke="#777" stroke-width="0.35"/>
<line x1="224.51" y1="218.5" x2="224.51" y2="219.3" stroke="#777" stroke-width="0.35"/>
<line x1="225.53" y1="218.5" x2="225.53" y2="219.3" stroke="#777" stroke-width="0.35"/>
<line x1="226.42" y1="218.5" x2="226.42" y2="219.3" stroke="#777" stroke-width="0.35"/>
<line x1="227.2" y1="218.5" x2="227.2" y2="219.3" stroke="#777" stroke-width="0.35"/>
<text class="r" x="214.5" y="228.1" font-size="7.3" font-style="italic" text-anchor="middle">10<tspan dy="-2.7" dx="0.25" font-size="4.2">1</tspan></text>
<line x1="227.9" y1="218.5" x2="227.9" y2="220" stroke="#444" stroke-width="0.5"/>
<line x1="232.51" y1="218.5" x2="232.51" y2="219.3" stroke="#777" stroke-width="0.35"/>
<line x1="235.2" y1="218.5" x2="235.2" y2="219.3" stroke="#777" stroke-width="0.35"/>
<line x1="237.11" y1="218.5" x2="237.11" y2="219.3" stroke="#777" stroke-width="0.35"/>
<line x1="238.59" y1="218.5" x2="238.59" y2="219.3" stroke="#777" stroke-width="0.35"/>
<line x1="239.81" y1="218.5" x2="239.81" y2="219.3" stroke="#777" stroke-width="0.35"/>
<line x1="240.83" y1="218.5" x2="240.83" y2="219.3" stroke="#777" stroke-width="0.35"/>
<line x1="241.72" y1="218.5" x2="241.72" y2="219.3" stroke="#777" stroke-width="0.35"/>
<line x1="242.5" y1="218.5" x2="242.5" y2="219.3" stroke="#777" stroke-width="0.35"/>
<text class="r" x="229.8" y="228.1" font-size="7.3" font-style="italic" text-anchor="middle">10<tspan dy="-2.7" dx="0.25" font-size="4.2">2</tspan></text>
<line x1="243.2" y1="218.5" x2="243.2" y2="220" stroke="#444" stroke-width="0.5"/>
<line x1="247.81" y1="218.5" x2="247.81" y2="219.3" stroke="#777" stroke-width="0.35"/>
<line x1="250.5" y1="218.5" x2="250.5" y2="219.3" stroke="#777" stroke-width="0.35"/>
<line x1="252.41" y1="218.5" x2="252.41" y2="219.3" stroke="#777" stroke-width="0.35"/>
<line x1="253.89" y1="218.5" x2="253.89" y2="219.3" stroke="#777" stroke-width="0.35"/>
<line x1="255.11" y1="218.5" x2="255.11" y2="219.3" stroke="#777" stroke-width="0.35"/>
<line x1="256.13" y1="218.5" x2="256.13" y2="219.3" stroke="#777" stroke-width="0.35"/>
<line x1="257.02" y1="218.5" x2="257.02" y2="219.3" stroke="#777" stroke-width="0.35"/>
<line x1="257.8" y1="218.5" x2="257.8" y2="219.3" stroke="#777" stroke-width="0.35"/>
<text class="r" x="245.1" y="228.1" font-size="7.3" font-style="italic" text-anchor="middle">10<tspan dy="-2.7" dx="0.25" font-size="4.2">3</tspan></text>
<line x1="258.5" y1="218.5" x2="258.5" y2="220" stroke="#444" stroke-width="0.5"/>
<text class="r" x="258.9" y="228.1" font-size="7.3" font-style="italic" text-anchor="middle">10<tspan dy="-2.7" dx="0.25" font-size="4.2">4</tspan></text>
<rect x="283.1" y="158.2" width="61.7" height="60.3" fill="#fff" stroke="#a8a8a8" stroke-width="0.7"/>
<path d="M292.2 218.2 L292.2 216.56 L292.65 215.61 L293.1 214.06 L293.55 211.95 L294 209.3 L294.45 205.84 L294.9 201.44 L295.35 195.96 L295.8 190.39 L296.25 185.1 L296.7 178.54 L297.15 173.56 L297.6 168.83 L298.05 163.19 L298.5 161.65 L298.95 163.4 L299.4 164.59 L299.85 167.7 L300.3 173.33 L300.75 178.33 L301.2 183.66 L301.65 190.39 L302.1 195.03 L302.55 199.76 L303 204.22 L303.45 208.11 L303.9 210.85 L304.35 213.15 L304.8 214.81 L305.25 215.97 L305.25 218.2Z" fill="#b7b7b7" stroke="#5a5a5a" stroke-width="0.5" stroke-linejoin="round"/>
<path d="M297.9 218.2 L297.9 217.78 L298.4 217.55 L298.9 217.2 L299.4 216.74 L299.9 216.35 L300.4 215.73 L300.9 215.12 L301.4 214.48 L301.9 213.36 L302.4 212.73 L302.9 211.4 L303.4 211.16 L303.9 209.65 L304.4 206.23 L304.9 203.63 L305.4 201.32 L305.9 198.43 L306.4 197.05 L306.9 192.99 L307.4 190.2 L307.9 185.8 L308.4 180.96 L308.9 179.56 L309.4 177.22 L309.9 177.61 L310.4 175.49 L310.9 172.6 L311.4 171.33 L311.9 166.65 L312.4 169.7 L312.9 162.48 L313.4 168.35 L313.9 163.72 L314.4 167.38 L314.9 161.65 L315.4 165.78 L315.9 166.4 L316.4 166.87 L316.9 172.1 L317.4 175.64 L317.9 178.81 L318.4 173.96 L318.9 179.86 L319.4 183.1 L319.9 184.73 L320.4 185.75 L320.9 193.63 L321.4 195.6 L321.9 199.18 L322.4 202.12 L322.9 206.35 L323.4 208.59 L323.9 210.65 L324.4 212.8 L324.9 214.56 L324.9 218.2" fill="none" stroke="#f01c24" stroke-width="0.8" stroke-linejoin="round"/>
<line x1="283.1" y1="158.2" x2="283.1" y2="218.5" stroke="#777" stroke-width="0.6"/>
<line x1="283.1" y1="218.5" x2="344.8" y2="218.5" stroke="#777" stroke-width="0.6"/>
<line x1="281.5" y1="218.2" x2="283.1" y2="218.2" stroke="#444" stroke-width="0.5"/>
<line x1="282.2" y1="212.37" x2="283.1" y2="212.37" stroke="#444" stroke-width="0.5"/>
<line x1="281.5" y1="206.54" x2="283.1" y2="206.54" stroke="#444" stroke-width="0.5"/>
<line x1="282.2" y1="200.71" x2="283.1" y2="200.71" stroke="#444" stroke-width="0.5"/>
<line x1="281.5" y1="194.88" x2="283.1" y2="194.88" stroke="#444" stroke-width="0.5"/>
<line x1="282.2" y1="189.05" x2="283.1" y2="189.05" stroke="#444" stroke-width="0.5"/>
<line x1="281.5" y1="183.22" x2="283.1" y2="183.22" stroke="#444" stroke-width="0.5"/>
<line x1="282.2" y1="177.39" x2="283.1" y2="177.39" stroke="#444" stroke-width="0.5"/>
<line x1="281.5" y1="171.56" x2="283.1" y2="171.56" stroke="#444" stroke-width="0.5"/>
<line x1="282.2" y1="165.73" x2="283.1" y2="165.73" stroke="#444" stroke-width="0.5"/>
<line x1="281.5" y1="159.9" x2="283.1" y2="159.9" stroke="#444" stroke-width="0.5"/>
<line x1="283.1" y1="218.5" x2="283.1" y2="220" stroke="#444" stroke-width="0.5"/>
<line x1="287.71" y1="218.5" x2="287.71" y2="219.3" stroke="#777" stroke-width="0.35"/>
<line x1="290.4" y1="218.5" x2="290.4" y2="219.3" stroke="#777" stroke-width="0.35"/>
<line x1="292.31" y1="218.5" x2="292.31" y2="219.3" stroke="#777" stroke-width="0.35"/>
<line x1="293.79" y1="218.5" x2="293.79" y2="219.3" stroke="#777" stroke-width="0.35"/>
<line x1="295.01" y1="218.5" x2="295.01" y2="219.3" stroke="#777" stroke-width="0.35"/>
<line x1="296.03" y1="218.5" x2="296.03" y2="219.3" stroke="#777" stroke-width="0.35"/>
<line x1="296.92" y1="218.5" x2="296.92" y2="219.3" stroke="#777" stroke-width="0.35"/>
<line x1="297.7" y1="218.5" x2="297.7" y2="219.3" stroke="#777" stroke-width="0.35"/>
<text class="r" x="285" y="228.1" font-size="7.3" font-style="italic" text-anchor="middle">10<tspan dy="-2.7" dx="0.25" font-size="4.2">0</tspan></text>
<line x1="298.4" y1="218.5" x2="298.4" y2="220" stroke="#444" stroke-width="0.5"/>
<line x1="303.01" y1="218.5" x2="303.01" y2="219.3" stroke="#777" stroke-width="0.35"/>
<line x1="305.7" y1="218.5" x2="305.7" y2="219.3" stroke="#777" stroke-width="0.35"/>
<line x1="307.61" y1="218.5" x2="307.61" y2="219.3" stroke="#777" stroke-width="0.35"/>
<line x1="309.09" y1="218.5" x2="309.09" y2="219.3" stroke="#777" stroke-width="0.35"/>
<line x1="310.31" y1="218.5" x2="310.31" y2="219.3" stroke="#777" stroke-width="0.35"/>
<line x1="311.33" y1="218.5" x2="311.33" y2="219.3" stroke="#777" stroke-width="0.35"/>
<line x1="312.22" y1="218.5" x2="312.22" y2="219.3" stroke="#777" stroke-width="0.35"/>
<line x1="313" y1="218.5" x2="313" y2="219.3" stroke="#777" stroke-width="0.35"/>
<text class="r" x="300.3" y="228.1" font-size="7.3" font-style="italic" text-anchor="middle">10<tspan dy="-2.7" dx="0.25" font-size="4.2">1</tspan></text>
<line x1="313.7" y1="218.5" x2="313.7" y2="220" stroke="#444" stroke-width="0.5"/>
<line x1="318.31" y1="218.5" x2="318.31" y2="219.3" stroke="#777" stroke-width="0.35"/>
<line x1="321" y1="218.5" x2="321" y2="219.3" stroke="#777" stroke-width="0.35"/>
<line x1="322.91" y1="218.5" x2="322.91" y2="219.3" stroke="#777" stroke-width="0.35"/>
<line x1="324.39" y1="218.5" x2="324.39" y2="219.3" stroke="#777" stroke-width="0.35"/>
<line x1="325.61" y1="218.5" x2="325.61" y2="219.3" stroke="#777" stroke-width="0.35"/>
<line x1="326.63" y1="218.5" x2="326.63" y2="219.3" stroke="#777" stroke-width="0.35"/>
<line x1="327.52" y1="218.5" x2="327.52" y2="219.3" stroke="#777" stroke-width="0.35"/>
<line x1="328.3" y1="218.5" x2="328.3" y2="219.3" stroke="#777" stroke-width="0.35"/>
<text class="r" x="315.6" y="228.1" font-size="7.3" font-style="italic" text-anchor="middle">10<tspan dy="-2.7" dx="0.25" font-size="4.2">2</tspan></text>
<line x1="329" y1="218.5" x2="329" y2="220" stroke="#444" stroke-width="0.5"/>
<line x1="333.61" y1="218.5" x2="333.61" y2="219.3" stroke="#777" stroke-width="0.35"/>
<line x1="336.3" y1="218.5" x2="336.3" y2="219.3" stroke="#777" stroke-width="0.35"/>
<line x1="338.21" y1="218.5" x2="338.21" y2="219.3" stroke="#777" stroke-width="0.35"/>
<line x1="339.69" y1="218.5" x2="339.69" y2="219.3" stroke="#777" stroke-width="0.35"/>
<line x1="340.91" y1="218.5" x2="340.91" y2="219.3" stroke="#777" stroke-width="0.35"/>
<line x1="341.93" y1="218.5" x2="341.93" y2="219.3" stroke="#777" stroke-width="0.35"/>
<line x1="342.82" y1="218.5" x2="342.82" y2="219.3" stroke="#777" stroke-width="0.35"/>
<line x1="343.6" y1="218.5" x2="343.6" y2="219.3" stroke="#777" stroke-width="0.35"/>
<text class="r" x="330.9" y="228.1" font-size="7.3" font-style="italic" text-anchor="middle">10<tspan dy="-2.7" dx="0.25" font-size="4.2">3</tspan></text>
<line x1="344.3" y1="218.5" x2="344.3" y2="220" stroke="#444" stroke-width="0.5"/>
<text class="r" x="344.7" y="228.1" font-size="7.3" font-style="italic" text-anchor="middle">10<tspan dy="-2.7" dx="0.25" font-size="4.2">4</tspan></text>
<rect x="369.8" y="158.2" width="61.7" height="60.3" fill="#fff" stroke="#a8a8a8" stroke-width="0.7"/>
<path d="M379.3 218.2 L379.3 216.45 L379.75 215.36 L380.2 213.7 L380.65 211.52 L381.1 208.46 L381.55 204.18 L382 199.42 L382.45 193.89 L382.9 187.34 L383.35 182.09 L383.8 175.17 L384.25 169.93 L384.7 165.59 L385.15 162.23 L385.6 161.65 L386.05 162.81 L386.5 165.57 L386.95 168.73 L387.4 175.69 L387.85 180.85 L388.3 186.92 L388.75 192.99 L389.2 197.93 L389.65 202.85 L390.1 206.48 L390.55 209.87 L391 212.36 L391.45 214.23 L391.9 215.52 L391.9 218.2Z" fill="#b7b7b7" stroke="#5a5a5a" stroke-width="0.5" stroke-linejoin="round"/>
<path d="M386.8 218.2 L386.8 216.86 L387.3 216.1 L387.8 215.17 L388.3 214.06 L388.8 212.51 L389.3 211.21 L389.8 210.12 L390.3 208.15 L390.8 207.02 L391.3 206.13 L391.8 204.21 L392.3 203.73 L392.8 202.04 L393.3 199.78 L393.8 199.61 L394.3 197.12 L394.8 196.47 L395.3 193.09 L395.8 192.76 L396.3 190.65 L396.8 191.04 L397.3 187.71 L397.8 183.65 L398.3 182.99 L398.8 184.86 L399.3 178.08 L399.8 175.64 L400.3 175.79 L400.8 170.6 L401.3 173.91 L401.8 169.72 L402.3 163.91 L402.8 161.65 L403.3 162.61 L403.8 171.06 L404.3 174.6 L404.8 171.38 L405.3 177.3 L405.8 178.13 L406.3 182.62 L406.8 182.12 L407.3 185.95 L407.8 190.59 L408.3 195.27 L408.8 199.14 L409.3 202.77 L409.8 205.5 L410.3 208.18 L410.8 210.46 L411.3 212.56 L411.8 213.91 L412.3 215.46 L412.8 216.5 L413.3 217.21 L413.3 218.2" fill="none" stroke="#f01c24" stroke-width="0.8" stroke-linejoin="round"/>
<line x1="369.8" y1="158.2" x2="369.8" y2="218.5" stroke="#777" stroke-width="0.6"/>
<line x1="369.8" y1="218.5" x2="431.5" y2="218.5" stroke="#777" stroke-width="0.6"/>
<line x1="368.2" y1="218.2" x2="369.8" y2="218.2" stroke="#444" stroke-width="0.5"/>
<line x1="368.9" y1="212.37" x2="369.8" y2="212.37" stroke="#444" stroke-width="0.5"/>
<line x1="368.2" y1="206.54" x2="369.8" y2="206.54" stroke="#444" stroke-width="0.5"/>
<line x1="368.9" y1="200.71" x2="369.8" y2="200.71" stroke="#444" stroke-width="0.5"/>
<line x1="368.2" y1="194.88" x2="369.8" y2="194.88" stroke="#444" stroke-width="0.5"/>
<line x1="368.9" y1="189.05" x2="369.8" y2="189.05" stroke="#444" stroke-width="0.5"/>
<line x1="368.2" y1="183.22" x2="369.8" y2="183.22" stroke="#444" stroke-width="0.5"/>
<line x1="368.9" y1="177.39" x2="369.8" y2="177.39" stroke="#444" stroke-width="0.5"/>
<line x1="368.2" y1="171.56" x2="369.8" y2="171.56" stroke="#444" stroke-width="0.5"/>
<line x1="368.9" y1="165.73" x2="369.8" y2="165.73" stroke="#444" stroke-width="0.5"/>
<line x1="368.2" y1="159.9" x2="369.8" y2="159.9" stroke="#444" stroke-width="0.5"/>
<line x1="369.8" y1="218.5" x2="369.8" y2="220" stroke="#444" stroke-width="0.5"/>
<line x1="374.41" y1="218.5" x2="374.41" y2="219.3" stroke="#777" stroke-width="0.35"/>
<line x1="377.1" y1="218.5" x2="377.1" y2="219.3" stroke="#777" stroke-width="0.35"/>
<line x1="379.01" y1="218.5" x2="379.01" y2="219.3" stroke="#777" stroke-width="0.35"/>
<line x1="380.49" y1="218.5" x2="380.49" y2="219.3" stroke="#777" stroke-width="0.35"/>
<line x1="381.71" y1="218.5" x2="381.71" y2="219.3" stroke="#777" stroke-width="0.35"/>
<line x1="382.73" y1="218.5" x2="382.73" y2="219.3" stroke="#777" stroke-width="0.35"/>
<line x1="383.62" y1="218.5" x2="383.62" y2="219.3" stroke="#777" stroke-width="0.35"/>
<line x1="384.4" y1="218.5" x2="384.4" y2="219.3" stroke="#777" stroke-width="0.35"/>
<text class="r" x="371.7" y="228.1" font-size="7.3" font-style="italic" text-anchor="middle">10<tspan dy="-2.7" dx="0.25" font-size="4.2">0</tspan></text>
<line x1="385.1" y1="218.5" x2="385.1" y2="220" stroke="#444" stroke-width="0.5"/>
<line x1="389.71" y1="218.5" x2="389.71" y2="219.3" stroke="#777" stroke-width="0.35"/>
<line x1="392.4" y1="218.5" x2="392.4" y2="219.3" stroke="#777" stroke-width="0.35"/>
<line x1="394.31" y1="218.5" x2="394.31" y2="219.3" stroke="#777" stroke-width="0.35"/>
<line x1="395.79" y1="218.5" x2="395.79" y2="219.3" stroke="#777" stroke-width="0.35"/>
<line x1="397.01" y1="218.5" x2="397.01" y2="219.3" stroke="#777" stroke-width="0.35"/>
<line x1="398.03" y1="218.5" x2="398.03" y2="219.3" stroke="#777" stroke-width="0.35"/>
<line x1="398.92" y1="218.5" x2="398.92" y2="219.3" stroke="#777" stroke-width="0.35"/>
<line x1="399.7" y1="218.5" x2="399.7" y2="219.3" stroke="#777" stroke-width="0.35"/>
<text class="r" x="387" y="228.1" font-size="7.3" font-style="italic" text-anchor="middle">10<tspan dy="-2.7" dx="0.25" font-size="4.2">1</tspan></text>
<line x1="400.4" y1="218.5" x2="400.4" y2="220" stroke="#444" stroke-width="0.5"/>
<line x1="405.01" y1="218.5" x2="405.01" y2="219.3" stroke="#777" stroke-width="0.35"/>
<line x1="407.7" y1="218.5" x2="407.7" y2="219.3" stroke="#777" stroke-width="0.35"/>
<line x1="409.61" y1="218.5" x2="409.61" y2="219.3" stroke="#777" stroke-width="0.35"/>
<line x1="411.09" y1="218.5" x2="411.09" y2="219.3" stroke="#777" stroke-width="0.35"/>
<line x1="412.31" y1="218.5" x2="412.31" y2="219.3" stroke="#777" stroke-width="0.35"/>
<line x1="413.33" y1="218.5" x2="413.33" y2="219.3" stroke="#777" stroke-width="0.35"/>
<line x1="414.22" y1="218.5" x2="414.22" y2="219.3" stroke="#777" stroke-width="0.35"/>
<line x1="415" y1="218.5" x2="415" y2="219.3" stroke="#777" stroke-width="0.35"/>
<text class="r" x="402.3" y="228.1" font-size="7.3" font-style="italic" text-anchor="middle">10<tspan dy="-2.7" dx="0.25" font-size="4.2">2</tspan></text>
<line x1="415.7" y1="218.5" x2="415.7" y2="220" stroke="#444" stroke-width="0.5"/>
<line x1="420.31" y1="218.5" x2="420.31" y2="219.3" stroke="#777" stroke-width="0.35"/>
<line x1="423" y1="218.5" x2="423" y2="219.3" stroke="#777" stroke-width="0.35"/>
<line x1="424.91" y1="218.5" x2="424.91" y2="219.3" stroke="#777" stroke-width="0.35"/>
<line x1="426.39" y1="218.5" x2="426.39" y2="219.3" stroke="#777" stroke-width="0.35"/>
<line x1="427.61" y1="218.5" x2="427.61" y2="219.3" stroke="#777" stroke-width="0.35"/>
<line x1="428.63" y1="218.5" x2="428.63" y2="219.3" stroke="#777" stroke-width="0.35"/>
<line x1="429.52" y1="218.5" x2="429.52" y2="219.3" stroke="#777" stroke-width="0.35"/>
<line x1="430.3" y1="218.5" x2="430.3" y2="219.3" stroke="#777" stroke-width="0.35"/>
<text class="r" x="417.6" y="228.1" font-size="7.3" font-style="italic" text-anchor="middle">10<tspan dy="-2.7" dx="0.25" font-size="4.2">3</tspan></text>
<line x1="431" y1="218.5" x2="431" y2="220" stroke="#444" stroke-width="0.5"/>
<text class="r" x="431.4" y="228.1" font-size="7.3" font-style="italic" text-anchor="middle">10<tspan dy="-2.7" dx="0.25" font-size="4.2">4</tspan></text>
<rect x="455.9" y="158.2" width="61.7" height="60.3" fill="#fff" stroke="#a8a8a8" stroke-width="0.7"/>
<path d="M465.4 218.2 L465.4 216.42 L465.85 215.34 L466.3 213.51 L466.75 211.22 L467.2 208.04 L467.65 204.04 L468.1 199.11 L468.55 193.86 L469 187.34 L469.45 181.07 L469.9 174.95 L470.35 171.11 L470.8 163.94 L471.25 161.65 L471.7 163.4 L472.15 163.95 L472.6 166.23 L473.05 170.54 L473.5 176.71 L473.95 182.29 L474.4 189.28 L474.85 195.64 L475.3 200.75 L475.75 204.96 L476.2 208.8 L476.65 211.6 L477.1 213.81 L477.55 215.33 L477.55 218.2Z" fill="#b7b7b7" stroke="#5a5a5a" stroke-width="0.5" stroke-linejoin="round"/>
<path d="M473.6 218.2 L473.6 215.53 L474.1 214.13 L474.6 212.05 L475.1 209.78 L475.6 207.23 L476.1 204.82 L476.6 201.27 L477.1 198.48 L477.6 195.41 L478.1 190.09 L478.6 186.23 L479.1 184.07 L479.6 178.62 L480.1 176.68 L480.6 175.3 L481.1 177.88 L481.6 178.6 L482.1 172.78 L482.6 171.27 L483.1 169.18 L483.6 168.19 L484.1 165.22 L484.6 167.56 L485.1 164.78 L485.6 169.02 L486.1 172.97 L486.6 166.59 L487.1 161.65 L487.6 170.87 L488.1 167.02 L488.6 172.92 L489.1 175.59 L489.6 177.74 L490.1 181.61 L490.6 188.01 L491.1 191.89 L491.6 197.02 L492.1 202.55 L492.6 208.18 L493.1 211.22 L493.1 218.2" fill="none" stroke="#f01c24" stroke-width="0.8" stroke-linejoin="round"/>
<line x1="455.9" y1="158.2" x2="455.9" y2="218.5" stroke="#777" stroke-width="0.6"/>
<line x1="455.9" y1="218.5" x2="517.6" y2="218.5" stroke="#777" stroke-width="0.6"/>
<line x1="454.3" y1="218.2" x2="455.9" y2="218.2" stroke="#444" stroke-width="0.5"/>
<line x1="455" y1="212.37" x2="455.9" y2="212.37" stroke="#444" stroke-width="0.5"/>
<line x1="454.3" y1="206.54" x2="455.9" y2="206.54" stroke="#444" stroke-width="0.5"/>
<line x1="455" y1="200.71" x2="455.9" y2="200.71" stroke="#444" stroke-width="0.5"/>
<line x1="454.3" y1="194.88" x2="455.9" y2="194.88" stroke="#444" stroke-width="0.5"/>
<line x1="455" y1="189.05" x2="455.9" y2="189.05" stroke="#444" stroke-width="0.5"/>
<line x1="454.3" y1="183.22" x2="455.9" y2="183.22" stroke="#444" stroke-width="0.5"/>
<line x1="455" y1="177.39" x2="455.9" y2="177.39" stroke="#444" stroke-width="0.5"/>
<line x1="454.3" y1="171.56" x2="455.9" y2="171.56" stroke="#444" stroke-width="0.5"/>
<line x1="455" y1="165.73" x2="455.9" y2="165.73" stroke="#444" stroke-width="0.5"/>
<line x1="454.3" y1="159.9" x2="455.9" y2="159.9" stroke="#444" stroke-width="0.5"/>
<line x1="455.9" y1="218.5" x2="455.9" y2="220" stroke="#444" stroke-width="0.5"/>
<line x1="460.51" y1="218.5" x2="460.51" y2="219.3" stroke="#777" stroke-width="0.35"/>
<line x1="463.2" y1="218.5" x2="463.2" y2="219.3" stroke="#777" stroke-width="0.35"/>
<line x1="465.11" y1="218.5" x2="465.11" y2="219.3" stroke="#777" stroke-width="0.35"/>
<line x1="466.59" y1="218.5" x2="466.59" y2="219.3" stroke="#777" stroke-width="0.35"/>
<line x1="467.81" y1="218.5" x2="467.81" y2="219.3" stroke="#777" stroke-width="0.35"/>
<line x1="468.83" y1="218.5" x2="468.83" y2="219.3" stroke="#777" stroke-width="0.35"/>
<line x1="469.72" y1="218.5" x2="469.72" y2="219.3" stroke="#777" stroke-width="0.35"/>
<line x1="470.5" y1="218.5" x2="470.5" y2="219.3" stroke="#777" stroke-width="0.35"/>
<text class="r" x="457.8" y="228.1" font-size="7.3" font-style="italic" text-anchor="middle">10<tspan dy="-2.7" dx="0.25" font-size="4.2">0</tspan></text>
<line x1="471.2" y1="218.5" x2="471.2" y2="220" stroke="#444" stroke-width="0.5"/>
<line x1="475.81" y1="218.5" x2="475.81" y2="219.3" stroke="#777" stroke-width="0.35"/>
<line x1="478.5" y1="218.5" x2="478.5" y2="219.3" stroke="#777" stroke-width="0.35"/>
<line x1="480.41" y1="218.5" x2="480.41" y2="219.3" stroke="#777" stroke-width="0.35"/>
<line x1="481.89" y1="218.5" x2="481.89" y2="219.3" stroke="#777" stroke-width="0.35"/>
<line x1="483.11" y1="218.5" x2="483.11" y2="219.3" stroke="#777" stroke-width="0.35"/>
<line x1="484.13" y1="218.5" x2="484.13" y2="219.3" stroke="#777" stroke-width="0.35"/>
<line x1="485.02" y1="218.5" x2="485.02" y2="219.3" stroke="#777" stroke-width="0.35"/>
<line x1="485.8" y1="218.5" x2="485.8" y2="219.3" stroke="#777" stroke-width="0.35"/>
<text class="r" x="473.1" y="228.1" font-size="7.3" font-style="italic" text-anchor="middle">10<tspan dy="-2.7" dx="0.25" font-size="4.2">1</tspan></text>
<line x1="486.5" y1="218.5" x2="486.5" y2="220" stroke="#444" stroke-width="0.5"/>
<line x1="491.11" y1="218.5" x2="491.11" y2="219.3" stroke="#777" stroke-width="0.35"/>
<line x1="493.8" y1="218.5" x2="493.8" y2="219.3" stroke="#777" stroke-width="0.35"/>
<line x1="495.71" y1="218.5" x2="495.71" y2="219.3" stroke="#777" stroke-width="0.35"/>
<line x1="497.19" y1="218.5" x2="497.19" y2="219.3" stroke="#777" stroke-width="0.35"/>
<line x1="498.41" y1="218.5" x2="498.41" y2="219.3" stroke="#777" stroke-width="0.35"/>
<line x1="499.43" y1="218.5" x2="499.43" y2="219.3" stroke="#777" stroke-width="0.35"/>
<line x1="500.32" y1="218.5" x2="500.32" y2="219.3" stroke="#777" stroke-width="0.35"/>
<line x1="501.1" y1="218.5" x2="501.1" y2="219.3" stroke="#777" stroke-width="0.35"/>
<text class="r" x="488.4" y="228.1" font-size="7.3" font-style="italic" text-anchor="middle">10<tspan dy="-2.7" dx="0.25" font-size="4.2">2</tspan></text>
<line x1="501.8" y1="218.5" x2="501.8" y2="220" stroke="#444" stroke-width="0.5"/>
<line x1="506.41" y1="218.5" x2="506.41" y2="219.3" stroke="#777" stroke-width="0.35"/>
<line x1="509.1" y1="218.5" x2="509.1" y2="219.3" stroke="#777" stroke-width="0.35"/>
<line x1="511.01" y1="218.5" x2="511.01" y2="219.3" stroke="#777" stroke-width="0.35"/>
<line x1="512.49" y1="218.5" x2="512.49" y2="219.3" stroke="#777" stroke-width="0.35"/>
<line x1="513.71" y1="218.5" x2="513.71" y2="219.3" stroke="#777" stroke-width="0.35"/>
<line x1="514.73" y1="218.5" x2="514.73" y2="219.3" stroke="#777" stroke-width="0.35"/>
<line x1="515.62" y1="218.5" x2="515.62" y2="219.3" stroke="#777" stroke-width="0.35"/>
<line x1="516.4" y1="218.5" x2="516.4" y2="219.3" stroke="#777" stroke-width="0.35"/>
<text class="r" x="503.7" y="228.1" font-size="7.3" font-style="italic" text-anchor="middle">10<tspan dy="-2.7" dx="0.25" font-size="4.2">3</tspan></text>
<line x1="517.1" y1="218.5" x2="517.1" y2="220" stroke="#444" stroke-width="0.5"/>
<text class="r" x="517.5" y="228.1" font-size="7.3" font-style="italic" text-anchor="middle">10<tspan dy="-2.7" dx="0.25" font-size="4.2">4</tspan></text>
<rect x="542.4" y="158.2" width="61.7" height="60.3" fill="#fff" stroke="#a8a8a8" stroke-width="0.7"/>
<path d="M551.4 218.2 L551.4 216.42 L551.85 215.36 L552.3 213.9 L552.75 211.67 L553.2 208.92 L553.65 204.85 L554.1 200.16 L554.55 195.35 L555 189.66 L555.45 182.48 L555.9 175.95 L556.35 171.31 L556.8 166.65 L557.25 165.6 L557.7 162.32 L558.15 161.65 L558.6 163.99 L559.05 167.36 L559.5 175.26 L559.95 182.06 L560.4 186.69 L560.85 192.91 L561.3 198.22 L561.75 202.99 L562.2 207.1 L562.65 210.32 L563.1 212.91 L563.55 214.94 L564 216.13 L564 218.2Z" fill="#b7b7b7" stroke="#5a5a5a" stroke-width="0.5" stroke-linejoin="round"/>
<path d="M559.6 218.2 L559.6 216.12 L560.1 215.13 L560.6 213.4 L561.1 211.74 L561.6 209.77 L562.1 206.87 L562.6 204.75 L563.1 203 L563.6 200.05 L564.1 199.11 L564.6 195.92 L565.1 191.34 L565.6 189.63 L566.1 188.5 L566.6 183.84 L567.1 180.94 L567.6 176.82 L568.1 175.43 L568.6 176.48 L569.1 175.6 L569.6 173.27 L570.1 171.12 L570.6 164.77 L571.1 162.09 L571.6 161.65 L572.1 163.89 L572.6 165 L573.1 161.97 L573.6 165.61 L574.1 166.38 L574.6 172.92 L575.1 171.38 L575.6 169.35 L576.1 177.86 L576.6 182.36 L577.1 182.52 L577.6 182.62 L578.1 186.82 L578.6 193.02 L579.1 196.9 L579.6 199.98 L580.1 203.53 L580.6 205.93 L581.1 208.61 L581.6 211.15 L582.1 212.79 L582.6 214.28 L583.1 215.64 L583.6 216.57 L583.6 218.2" fill="none" stroke="#f01c24" stroke-width="0.8" stroke-linejoin="round"/>
<line x1="542.4" y1="158.2" x2="542.4" y2="218.5" stroke="#777" stroke-width="0.6"/>
<line x1="542.4" y1="218.5" x2="604.1" y2="218.5" stroke="#777" stroke-width="0.6"/>
<line x1="540.8" y1="218.2" x2="542.4" y2="218.2" stroke="#444" stroke-width="0.5"/>
<line x1="541.5" y1="212.37" x2="542.4" y2="212.37" stroke="#444" stroke-width="0.5"/>
<line x1="540.8" y1="206.54" x2="542.4" y2="206.54" stroke="#444" stroke-width="0.5"/>
<line x1="541.5" y1="200.71" x2="542.4" y2="200.71" stroke="#444" stroke-width="0.5"/>
<line x1="540.8" y1="194.88" x2="542.4" y2="194.88" stroke="#444" stroke-width="0.5"/>
<line x1="541.5" y1="189.05" x2="542.4" y2="189.05" stroke="#444" stroke-width="0.5"/>
<line x1="540.8" y1="183.22" x2="542.4" y2="183.22" stroke="#444" stroke-width="0.5"/>
<line x1="541.5" y1="177.39" x2="542.4" y2="177.39" stroke="#444" stroke-width="0.5"/>
<line x1="540.8" y1="171.56" x2="542.4" y2="171.56" stroke="#444" stroke-width="0.5"/>
<line x1="541.5" y1="165.73" x2="542.4" y2="165.73" stroke="#444" stroke-width="0.5"/>
<line x1="540.8" y1="159.9" x2="542.4" y2="159.9" stroke="#444" stroke-width="0.5"/>
<line x1="542.4" y1="218.5" x2="542.4" y2="220" stroke="#444" stroke-width="0.5"/>
<line x1="547.01" y1="218.5" x2="547.01" y2="219.3" stroke="#777" stroke-width="0.35"/>
<line x1="549.7" y1="218.5" x2="549.7" y2="219.3" stroke="#777" stroke-width="0.35"/>
<line x1="551.61" y1="218.5" x2="551.61" y2="219.3" stroke="#777" stroke-width="0.35"/>
<line x1="553.09" y1="218.5" x2="553.09" y2="219.3" stroke="#777" stroke-width="0.35"/>
<line x1="554.31" y1="218.5" x2="554.31" y2="219.3" stroke="#777" stroke-width="0.35"/>
<line x1="555.33" y1="218.5" x2="555.33" y2="219.3" stroke="#777" stroke-width="0.35"/>
<line x1="556.22" y1="218.5" x2="556.22" y2="219.3" stroke="#777" stroke-width="0.35"/>
<line x1="557" y1="218.5" x2="557" y2="219.3" stroke="#777" stroke-width="0.35"/>
<text class="r" x="545.1" y="228.1" font-size="7.3" font-style="italic" text-anchor="middle">10<tspan dy="-2.7" dx="0.25" font-size="4.2">0</tspan></text>
<line x1="557.7" y1="218.5" x2="557.7" y2="220" stroke="#444" stroke-width="0.5"/>
<line x1="562.31" y1="218.5" x2="562.31" y2="219.3" stroke="#777" stroke-width="0.35"/>
<line x1="565" y1="218.5" x2="565" y2="219.3" stroke="#777" stroke-width="0.35"/>
<line x1="566.91" y1="218.5" x2="566.91" y2="219.3" stroke="#777" stroke-width="0.35"/>
<line x1="568.39" y1="218.5" x2="568.39" y2="219.3" stroke="#777" stroke-width="0.35"/>
<line x1="569.61" y1="218.5" x2="569.61" y2="219.3" stroke="#777" stroke-width="0.35"/>
<line x1="570.63" y1="218.5" x2="570.63" y2="219.3" stroke="#777" stroke-width="0.35"/>
<line x1="571.52" y1="218.5" x2="571.52" y2="219.3" stroke="#777" stroke-width="0.35"/>
<line x1="572.3" y1="218.5" x2="572.3" y2="219.3" stroke="#777" stroke-width="0.35"/>
<text class="r" x="560.4" y="228.1" font-size="7.3" font-style="italic" text-anchor="middle">10<tspan dy="-2.7" dx="0.25" font-size="4.2">1</tspan></text>
<line x1="573" y1="218.5" x2="573" y2="220" stroke="#444" stroke-width="0.5"/>
<line x1="577.61" y1="218.5" x2="577.61" y2="219.3" stroke="#777" stroke-width="0.35"/>
<line x1="580.3" y1="218.5" x2="580.3" y2="219.3" stroke="#777" stroke-width="0.35"/>
<line x1="582.21" y1="218.5" x2="582.21" y2="219.3" stroke="#777" stroke-width="0.35"/>
<line x1="583.69" y1="218.5" x2="583.69" y2="219.3" stroke="#777" stroke-width="0.35"/>
<line x1="584.91" y1="218.5" x2="584.91" y2="219.3" stroke="#777" stroke-width="0.35"/>
<line x1="585.93" y1="218.5" x2="585.93" y2="219.3" stroke="#777" stroke-width="0.35"/>
<line x1="586.82" y1="218.5" x2="586.82" y2="219.3" stroke="#777" stroke-width="0.35"/>
<line x1="587.6" y1="218.5" x2="587.6" y2="219.3" stroke="#777" stroke-width="0.35"/>
<text class="r" x="575.7" y="228.1" font-size="7.3" font-style="italic" text-anchor="middle">10<tspan dy="-2.7" dx="0.25" font-size="4.2">2</tspan></text>
<line x1="588.3" y1="218.5" x2="588.3" y2="220" stroke="#444" stroke-width="0.5"/>
<line x1="592.91" y1="218.5" x2="592.91" y2="219.3" stroke="#777" stroke-width="0.35"/>
<line x1="595.6" y1="218.5" x2="595.6" y2="219.3" stroke="#777" stroke-width="0.35"/>
<line x1="597.51" y1="218.5" x2="597.51" y2="219.3" stroke="#777" stroke-width="0.35"/>
<line x1="598.99" y1="218.5" x2="598.99" y2="219.3" stroke="#777" stroke-width="0.35"/>
<line x1="600.21" y1="218.5" x2="600.21" y2="219.3" stroke="#777" stroke-width="0.35"/>
<line x1="601.23" y1="218.5" x2="601.23" y2="219.3" stroke="#777" stroke-width="0.35"/>
<line x1="602.12" y1="218.5" x2="602.12" y2="219.3" stroke="#777" stroke-width="0.35"/>
<line x1="602.9" y1="218.5" x2="602.9" y2="219.3" stroke="#777" stroke-width="0.35"/>
<text class="r" x="591" y="228.1" font-size="7.3" font-style="italic" text-anchor="middle">10<tspan dy="-2.7" dx="0.25" font-size="4.2">3</tspan></text>
<line x1="603.6" y1="218.5" x2="603.6" y2="220" stroke="#444" stroke-width="0.5"/>
<text class="r" x="604.8" y="228.1" font-size="7.3" font-style="italic" text-anchor="middle">10<tspan dy="-2.7" dx="0.25" font-size="4.2">4</tspan></text>
<text class="s" font-size="6.8" text-anchor="middle" transform="translate(86.6 264.2) rotate(-90)">% of max</text>
<rect x="108.4" y="234.2" width="61.7" height="60.3" fill="#fff" stroke="#a8a8a8" stroke-width="0.7"/>
<path d="M114.6 294.2 L114.6 292.21 L115.05 291.14 L115.5 289.88 L115.95 288.27 L116.4 286.3 L116.85 284.41 L117.3 282.24 L117.75 279.15 L118.2 277.17 L118.65 274.11 L119.1 270.74 L119.55 267.27 L120 262.88 L120.45 257.84 L120.9 252.7 L121.35 249.66 L121.8 247.42 L122.25 246.29 L122.7 242.28 L123.15 241.82 L123.6 239.47 L124.05 237.65 L124.5 240.1 L124.95 242.83 L125.4 245.39 L125.85 245.89 L126.3 247.31 L126.75 250.28 L127.2 250.98 L127.65 250.88 L128.1 255.26 L128.55 255.78 L129 257.4 L129.45 256.08 L129.9 258.28 L130.35 260.22 L130.8 262.06 L131.25 263.97 L131.7 266.17 L132.15 269.55 L132.6 270.88 L133.05 273.39 L133.5 277.12 L133.95 279.32 L134.4 282.29 L134.85 285.5 L135.3 287.75 L135.75 289.72 L136.2 291.19 L136.2 294.2Z" fill="#b7b7b7" stroke="#5a5a5a" stroke-width="0.5" stroke-linejoin="round"/>
<path d="M125 294.2 L125 293.41 L125.5 293 L126 292.32 L126.5 291.48 L127 290.52 L127.5 289.57 L128 288.37 L128.5 286.77 L129 285.66 L129.5 282.58 L130 280.6 L130.5 278.41 L131 274.89 L131.5 272.84 L132 269.46 L132.5 263.41 L133 259.7 L133.5 254.04 L134 254.68 L134.5 254.25 L135 251.1 L135.5 243.52 L136 246.44 L136.5 248.45 L137 249.27 L137.5 248.74 L138 245.09 L138.5 241.76 L139 238.4 L139.5 237.65 L140 240.26 L140.5 243.51 L141 245.51 L141.5 250.28 L142 247.54 L142.5 245.05 L143 249.02 L143.5 251.52 L144 257.97 L144.5 258.17 L145 262.58 L145.5 266.85 L146 270.44 L146.5 275.9 L147 277.66 L147.5 279.96 L148 280.97 L148.5 283.77 L149 285.73 L149.5 286.98 L150 288.69 L150.5 289.54 L151 290.79 L151.5 291.6 L152 292.33 L152.5 292.83 L153 293.38 L153.5 293.64 L153.5 294.2" fill="none" stroke="#2a2ae6" stroke-width="0.8" stroke-linejoin="round"/>
<line x1="108.4" y1="234.2" x2="108.4" y2="294.5" stroke="#777" stroke-width="0.6"/>
<line x1="108.4" y1="294.5" x2="170.1" y2="294.5" stroke="#777" stroke-width="0.6"/>
<line x1="106.8" y1="294.2" x2="108.4" y2="294.2" stroke="#444" stroke-width="0.5"/>
<line x1="107.5" y1="288.37" x2="108.4" y2="288.37" stroke="#444" stroke-width="0.5"/>
<line x1="106.8" y1="282.54" x2="108.4" y2="282.54" stroke="#444" stroke-width="0.5"/>
<line x1="107.5" y1="276.71" x2="108.4" y2="276.71" stroke="#444" stroke-width="0.5"/>
<line x1="106.8" y1="270.88" x2="108.4" y2="270.88" stroke="#444" stroke-width="0.5"/>
<line x1="107.5" y1="265.05" x2="108.4" y2="265.05" stroke="#444" stroke-width="0.5"/>
<line x1="106.8" y1="259.22" x2="108.4" y2="259.22" stroke="#444" stroke-width="0.5"/>
<line x1="107.5" y1="253.39" x2="108.4" y2="253.39" stroke="#444" stroke-width="0.5"/>
<line x1="106.8" y1="247.56" x2="108.4" y2="247.56" stroke="#444" stroke-width="0.5"/>
<line x1="107.5" y1="241.73" x2="108.4" y2="241.73" stroke="#444" stroke-width="0.5"/>
<line x1="106.8" y1="235.9" x2="108.4" y2="235.9" stroke="#444" stroke-width="0.5"/>
<line x1="108.4" y1="294.5" x2="108.4" y2="296" stroke="#444" stroke-width="0.5"/>
<line x1="113.01" y1="294.5" x2="113.01" y2="295.3" stroke="#777" stroke-width="0.35"/>
<line x1="115.7" y1="294.5" x2="115.7" y2="295.3" stroke="#777" stroke-width="0.35"/>
<line x1="117.61" y1="294.5" x2="117.61" y2="295.3" stroke="#777" stroke-width="0.35"/>
<line x1="119.09" y1="294.5" x2="119.09" y2="295.3" stroke="#777" stroke-width="0.35"/>
<line x1="120.31" y1="294.5" x2="120.31" y2="295.3" stroke="#777" stroke-width="0.35"/>
<line x1="121.33" y1="294.5" x2="121.33" y2="295.3" stroke="#777" stroke-width="0.35"/>
<line x1="122.22" y1="294.5" x2="122.22" y2="295.3" stroke="#777" stroke-width="0.35"/>
<line x1="123" y1="294.5" x2="123" y2="295.3" stroke="#777" stroke-width="0.35"/>
<text class="r" x="110.3" y="304.1" font-size="7.3" font-style="italic" text-anchor="middle">10<tspan dy="-2.7" dx="0.25" font-size="4.2">0</tspan></text>
<line x1="123.7" y1="294.5" x2="123.7" y2="296" stroke="#444" stroke-width="0.5"/>
<line x1="128.31" y1="294.5" x2="128.31" y2="295.3" stroke="#777" stroke-width="0.35"/>
<line x1="131" y1="294.5" x2="131" y2="295.3" stroke="#777" stroke-width="0.35"/>
<line x1="132.91" y1="294.5" x2="132.91" y2="295.3" stroke="#777" stroke-width="0.35"/>
<line x1="134.39" y1="294.5" x2="134.39" y2="295.3" stroke="#777" stroke-width="0.35"/>
<line x1="135.61" y1="294.5" x2="135.61" y2="295.3" stroke="#777" stroke-width="0.35"/>
<line x1="136.63" y1="294.5" x2="136.63" y2="295.3" stroke="#777" stroke-width="0.35"/>
<line x1="137.52" y1="294.5" x2="137.52" y2="295.3" stroke="#777" stroke-width="0.35"/>
<line x1="138.3" y1="294.5" x2="138.3" y2="295.3" stroke="#777" stroke-width="0.35"/>
<text class="r" x="125.6" y="304.1" font-size="7.3" font-style="italic" text-anchor="middle">10<tspan dy="-2.7" dx="0.25" font-size="4.2">1</tspan></text>
<line x1="139" y1="294.5" x2="139" y2="296" stroke="#444" stroke-width="0.5"/>
<line x1="143.61" y1="294.5" x2="143.61" y2="295.3" stroke="#777" stroke-width="0.35"/>
<line x1="146.3" y1="294.5" x2="146.3" y2="295.3" stroke="#777" stroke-width="0.35"/>
<line x1="148.21" y1="294.5" x2="148.21" y2="295.3" stroke="#777" stroke-width="0.35"/>
<line x1="149.69" y1="294.5" x2="149.69" y2="295.3" stroke="#777" stroke-width="0.35"/>
<line x1="150.91" y1="294.5" x2="150.91" y2="295.3" stroke="#777" stroke-width="0.35"/>
<line x1="151.93" y1="294.5" x2="151.93" y2="295.3" stroke="#777" stroke-width="0.35"/>
<line x1="152.82" y1="294.5" x2="152.82" y2="295.3" stroke="#777" stroke-width="0.35"/>
<line x1="153.6" y1="294.5" x2="153.6" y2="295.3" stroke="#777" stroke-width="0.35"/>
<text class="r" x="140.9" y="304.1" font-size="7.3" font-style="italic" text-anchor="middle">10<tspan dy="-2.7" dx="0.25" font-size="4.2">2</tspan></text>
<line x1="154.3" y1="294.5" x2="154.3" y2="296" stroke="#444" stroke-width="0.5"/>
<line x1="158.91" y1="294.5" x2="158.91" y2="295.3" stroke="#777" stroke-width="0.35"/>
<line x1="161.6" y1="294.5" x2="161.6" y2="295.3" stroke="#777" stroke-width="0.35"/>
<line x1="163.51" y1="294.5" x2="163.51" y2="295.3" stroke="#777" stroke-width="0.35"/>
<line x1="164.99" y1="294.5" x2="164.99" y2="295.3" stroke="#777" stroke-width="0.35"/>
<line x1="166.21" y1="294.5" x2="166.21" y2="295.3" stroke="#777" stroke-width="0.35"/>
<line x1="167.23" y1="294.5" x2="167.23" y2="295.3" stroke="#777" stroke-width="0.35"/>
<line x1="168.12" y1="294.5" x2="168.12" y2="295.3" stroke="#777" stroke-width="0.35"/>
<line x1="168.9" y1="294.5" x2="168.9" y2="295.3" stroke="#777" stroke-width="0.35"/>
<text class="r" x="156.2" y="304.1" font-size="7.3" font-style="italic" text-anchor="middle">10<tspan dy="-2.7" dx="0.25" font-size="4.2">3</tspan></text>
<line x1="169.6" y1="294.5" x2="169.6" y2="296" stroke="#444" stroke-width="0.5"/>
<text class="r" x="170" y="304.1" font-size="7.3" font-style="italic" text-anchor="middle">10<tspan dy="-2.7" dx="0.25" font-size="4.2">4</tspan></text>
<text class="r" x="105" y="296.8" font-size="7" text-anchor="end" font-style="italic">0</text>
<text class="r" x="105" y="285.14" font-size="7" text-anchor="end" font-style="italic">20</text>
<text class="r" x="105" y="273.48" font-size="7" text-anchor="end" font-style="italic">40</text>
<text class="r" x="105" y="261.82" font-size="7" text-anchor="end" font-style="italic">60</text>
<text class="r" x="105" y="250.16" font-size="7" text-anchor="end" font-style="italic">80</text>
<text class="r" x="105" y="238.5" font-size="7" text-anchor="end" font-style="italic">100</text>
<rect x="197.3" y="234.2" width="61.7" height="60.3" fill="#fff" stroke="#a8a8a8" stroke-width="0.7"/>
<path d="M204.4 294.2 L204.4 292.2 L204.85 291.12 L205.3 289.72 L205.75 287.82 L206.2 285.76 L206.65 283.37 L207.1 280.82 L207.55 277.73 L208 274.33 L208.45 271.59 L208.9 268.6 L209.35 264.67 L209.8 258.87 L210.25 255.39 L210.7 249.88 L211.15 247.75 L211.6 246.34 L212.05 240.71 L212.5 237.65 L212.95 241.57 L213.4 244.35 L213.85 245.1 L214.3 243.86 L214.75 247.41 L215.2 248.68 L215.65 248.46 L216.1 250.52 L216.55 251.98 L217 254.22 L217.45 255.67 L217.9 256.1 L218.35 257.34 L218.8 258.52 L219.25 260.92 L219.7 261.62 L220.15 262.79 L220.6 264.43 L221.05 265.43 L221.5 266.67 L221.95 269 L222.4 271.27 L222.85 274.04 L223.3 275.97 L223.75 278.71 L224.2 281.48 L224.65 284.1 L225.1 286.13 L225.55 287.99 L226 290.04 L226.45 291.42 L226.45 294.2Z" fill="#b7b7b7" stroke="#5a5a5a" stroke-width="0.5" stroke-linejoin="round"/>
<path d="M212.3 294.2 L212.3 293.63 L212.8 293.33 L213.3 292.87 L213.8 292.39 L214.3 291.82 L214.8 291.15 L215.3 290.53 L215.8 289.98 L216.3 289.43 L216.8 288.62 L217.3 288.09 L217.8 286.91 L218.3 286.27 L218.8 285.26 L219.3 284 L219.8 283.19 L220.3 282.99 L220.8 281.51 L221.3 280.04 L221.8 279.72 L222.3 279.05 L222.8 275.63 L223.3 273.17 L223.8 270.45 L224.3 268.33 L224.8 265.79 L225.3 262.69 L225.8 258.23 L226.3 256.58 L226.8 254.14 L227.3 252.79 L227.8 247.2 L228.3 246.92 L228.8 243.76 L229.3 248.74 L229.8 241.39 L230.3 240.68 L230.8 241.32 L231.3 237.65 L231.8 242.31 L232.3 247.84 L232.8 252.22 L233.3 252.2 L233.8 258.78 L234.3 264.65 L234.8 270.84 L235.3 273.67 L235.8 278.26 L236.3 282.52 L236.8 285.73 L237.3 288.64 L237.8 290.38 L238.3 291.92 L238.3 294.2" fill="none" stroke="#2a2ae6" stroke-width="0.8" stroke-linejoin="round"/>
<line x1="197.3" y1="234.2" x2="197.3" y2="294.5" stroke="#777" stroke-width="0.6"/>
<line x1="197.3" y1="294.5" x2="259" y2="294.5" stroke="#777" stroke-width="0.6"/>
<line x1="195.7" y1="294.2" x2="197.3" y2="294.2" stroke="#444" stroke-width="0.5"/>
<line x1="196.4" y1="288.37" x2="197.3" y2="288.37" stroke="#444" stroke-width="0.5"/>
<line x1="195.7" y1="282.54" x2="197.3" y2="282.54" stroke="#444" stroke-width="0.5"/>
<line x1="196.4" y1="276.71" x2="197.3" y2="276.71" stroke="#444" stroke-width="0.5"/>
<line x1="195.7" y1="270.88" x2="197.3" y2="270.88" stroke="#444" stroke-width="0.5"/>
<line x1="196.4" y1="265.05" x2="197.3" y2="265.05" stroke="#444" stroke-width="0.5"/>
<line x1="195.7" y1="259.22" x2="197.3" y2="259.22" stroke="#444" stroke-width="0.5"/>
<line x1="196.4" y1="253.39" x2="197.3" y2="253.39" stroke="#444" stroke-width="0.5"/>
<line x1="195.7" y1="247.56" x2="197.3" y2="247.56" stroke="#444" stroke-width="0.5"/>
<line x1="196.4" y1="241.73" x2="197.3" y2="241.73" stroke="#444" stroke-width="0.5"/>
<line x1="195.7" y1="235.9" x2="197.3" y2="235.9" stroke="#444" stroke-width="0.5"/>
<line x1="197.3" y1="294.5" x2="197.3" y2="296" stroke="#444" stroke-width="0.5"/>
<line x1="201.91" y1="294.5" x2="201.91" y2="295.3" stroke="#777" stroke-width="0.35"/>
<line x1="204.6" y1="294.5" x2="204.6" y2="295.3" stroke="#777" stroke-width="0.35"/>
<line x1="206.51" y1="294.5" x2="206.51" y2="295.3" stroke="#777" stroke-width="0.35"/>
<line x1="207.99" y1="294.5" x2="207.99" y2="295.3" stroke="#777" stroke-width="0.35"/>
<line x1="209.21" y1="294.5" x2="209.21" y2="295.3" stroke="#777" stroke-width="0.35"/>
<line x1="210.23" y1="294.5" x2="210.23" y2="295.3" stroke="#777" stroke-width="0.35"/>
<line x1="211.12" y1="294.5" x2="211.12" y2="295.3" stroke="#777" stroke-width="0.35"/>
<line x1="211.9" y1="294.5" x2="211.9" y2="295.3" stroke="#777" stroke-width="0.35"/>
<text class="r" x="199.2" y="304.1" font-size="7.3" font-style="italic" text-anchor="middle">10<tspan dy="-2.7" dx="0.25" font-size="4.2">0</tspan></text>
<line x1="212.6" y1="294.5" x2="212.6" y2="296" stroke="#444" stroke-width="0.5"/>
<line x1="217.21" y1="294.5" x2="217.21" y2="295.3" stroke="#777" stroke-width="0.35"/>
<line x1="219.9" y1="294.5" x2="219.9" y2="295.3" stroke="#777" stroke-width="0.35"/>
<line x1="221.81" y1="294.5" x2="221.81" y2="295.3" stroke="#777" stroke-width="0.35"/>
<line x1="223.29" y1="294.5" x2="223.29" y2="295.3" stroke="#777" stroke-width="0.35"/>
<line x1="224.51" y1="294.5" x2="224.51" y2="295.3" stroke="#777" stroke-width="0.35"/>
<line x1="225.53" y1="294.5" x2="225.53" y2="295.3" stroke="#777" stroke-width="0.35"/>
<line x1="226.42" y1="294.5" x2="226.42" y2="295.3" stroke="#777" stroke-width="0.35"/>
<line x1="227.2" y1="294.5" x2="227.2" y2="295.3" stroke="#777" stroke-width="0.35"/>
<text class="r" x="214.5" y="304.1" font-size="7.3" font-style="italic" text-anchor="middle">10<tspan dy="-2.7" dx="0.25" font-size="4.2">1</tspan></text>
<line x1="227.9" y1="294.5" x2="227.9" y2="296" stroke="#444" stroke-width="0.5"/>
<line x1="232.51" y1="294.5" x2="232.51" y2="295.3" stroke="#777" stroke-width="0.35"/>
<line x1="235.2" y1="294.5" x2="235.2" y2="295.3" stroke="#777" stroke-width="0.35"/>
<line x1="237.11" y1="294.5" x2="237.11" y2="295.3" stroke="#777" stroke-width="0.35"/>
<line x1="238.59" y1="294.5" x2="238.59" y2="295.3" stroke="#777" stroke-width="0.35"/>
<line x1="239.81" y1="294.5" x2="239.81" y2="295.3" stroke="#777" stroke-width="0.35"/>
<line x1="240.83" y1="294.5" x2="240.83" y2="295.3" stroke="#777" stroke-width="0.35"/>
<line x1="241.72" y1="294.5" x2="241.72" y2="295.3" stroke="#777" stroke-width="0.35"/>
<line x1="242.5" y1="294.5" x2="242.5" y2="295.3" stroke="#777" stroke-width="0.35"/>
<text class="r" x="229.8" y="304.1" font-size="7.3" font-style="italic" text-anchor="middle">10<tspan dy="-2.7" dx="0.25" font-size="4.2">2</tspan></text>
<line x1="243.2" y1="294.5" x2="243.2" y2="296" stroke="#444" stroke-width="0.5"/>
<line x1="247.81" y1="294.5" x2="247.81" y2="295.3" stroke="#777" stroke-width="0.35"/>
<line x1="250.5" y1="294.5" x2="250.5" y2="295.3" stroke="#777" stroke-width="0.35"/>
<line x1="252.41" y1="294.5" x2="252.41" y2="295.3" stroke="#777" stroke-width="0.35"/>
<line x1="253.89" y1="294.5" x2="253.89" y2="295.3" stroke="#777" stroke-width="0.35"/>
<line x1="255.11" y1="294.5" x2="255.11" y2="295.3" stroke="#777" stroke-width="0.35"/>
<line x1="256.13" y1="294.5" x2="256.13" y2="295.3" stroke="#777" stroke-width="0.35"/>
<line x1="257.02" y1="294.5" x2="257.02" y2="295.3" stroke="#777" stroke-width="0.35"/>
<line x1="257.8" y1="294.5" x2="257.8" y2="295.3" stroke="#777" stroke-width="0.35"/>
<text class="r" x="245.1" y="304.1" font-size="7.3" font-style="italic" text-anchor="middle">10<tspan dy="-2.7" dx="0.25" font-size="4.2">3</tspan></text>
<line x1="258.5" y1="294.5" x2="258.5" y2="296" stroke="#444" stroke-width="0.5"/>
<text class="r" x="258.9" y="304.1" font-size="7.3" font-style="italic" text-anchor="middle">10<tspan dy="-2.7" dx="0.25" font-size="4.2">4</tspan></text>
<rect x="283.1" y="234.2" width="61.7" height="60.3" fill="#fff" stroke="#a8a8a8" stroke-width="0.7"/>
<path d="M290.5 294.2 L290.5 292.12 L290.95 291.12 L291.4 289.65 L291.85 287.78 L292.3 285.82 L292.75 283.87 L293.2 281.11 L293.65 278.03 L294.1 275.31 L294.55 272.48 L295 268.28 L295.45 264.84 L295.9 260.49 L296.35 255.65 L296.8 251.64 L297.25 248.49 L297.7 247.18 L298.15 241.55 L298.6 240.46 L299.05 240.3 L299.5 239.12 L299.95 237.65 L300.4 244.85 L300.85 247.34 L301.3 245.43 L301.75 248.44 L302.2 247.73 L302.65 252.07 L303.1 253.18 L303.55 252.96 L304 254.43 L304.45 256.73 L304.9 258.61 L305.35 260.92 L305.8 262.88 L306.25 264.15 L306.7 264.73 L307.15 267.11 L307.6 269.96 L308.05 272.41 L308.5 275 L308.95 277.98 L309.4 281.47 L309.85 284.36 L310.3 286.82 L310.75 288.81 L311.2 290.67 L311.2 294.2Z" fill="#b7b7b7" stroke="#5a5a5a" stroke-width="0.5" stroke-linejoin="round"/>
<path d="M297.9 294.2 L297.9 293.56 L298.4 293.25 L298.9 292.68 L299.4 292.2 L299.9 291.48 L300.4 290.55 L300.9 289.34 L301.4 287.8 L301.9 285.9 L302.4 283.79 L302.9 281.33 L303.4 276.89 L303.9 274.91 L304.4 271.24 L304.9 266.06 L305.4 263.18 L305.9 260.03 L306.4 256.2 L306.9 250.41 L307.4 253.38 L307.9 251.07 L308.4 246.68 L308.9 250.03 L309.4 244.7 L309.9 237.65 L310.4 241.03 L310.9 239.64 L311.4 239.12 L311.9 244.82 L312.4 242.3 L312.9 244.97 L313.4 246.56 L313.9 244.19 L314.4 243.46 L314.9 245.07 L315.4 246.35 L315.9 243.56 L316.4 245.08 L316.9 249.77 L317.4 255.1 L317.9 260.59 L318.4 264.07 L318.9 267.81 L319.4 269.93 L319.9 272.91 L320.4 276.68 L320.9 280.65 L321.4 283.73 L321.9 286.01 L322.4 288.1 L322.9 289.83 L323.4 291.27 L323.9 292.48 L323.9 294.2" fill="none" stroke="#2a2ae6" stroke-width="0.8" stroke-linejoin="round"/>
<line x1="283.1" y1="234.2" x2="283.1" y2="294.5" stroke="#777" stroke-width="0.6"/>
<line x1="283.1" y1="294.5" x2="344.8" y2="294.5" stroke="#777" stroke-width="0.6"/>
<line x1="281.5" y1="294.2" x2="283.1" y2="294.2" stroke="#444" stroke-width="0.5"/>
<line x1="282.2" y1="288.37" x2="283.1" y2="288.37" stroke="#444" stroke-width="0.5"/>
<line x1="281.5" y1="282.54" x2="283.1" y2="282.54" stroke="#444" stroke-width="0.5"/>
<line x1="282.2" y1="276.71" x2="283.1" y2="276.71" stroke="#444" stroke-width="0.5"/>
<line x1="281.5" y1="270.88" x2="283.1" y2="270.88" stroke="#444" stroke-width="0.5"/>
<line x1="282.2" y1="265.05" x2="283.1" y2="265.05" stroke="#444" stroke-width="0.5"/>
<line x1="281.5" y1="259.22" x2="283.1" y2="259.22" stroke="#444" stroke-width="0.5"/>
<line x1="282.2" y1="253.39" x2="283.1" y2="253.39" stroke="#444" stroke-width="0.5"/>
<line x1="281.5" y1="247.56" x2="283.1" y2="247.56" stroke="#444" stroke-width="0.5"/>
<line x1="282.2" y1="241.73" x2="283.1" y2="241.73" stroke="#444" stroke-width="0.5"/>
<line x1="281.5" y1="235.9" x2="283.1" y2="235.9" stroke="#444" stroke-width="0.5"/>
<line x1="283.1" y1="294.5" x2="283.1" y2="296" stroke="#444" stroke-width="0.5"/>
<line x1="287.71" y1="294.5" x2="287.71" y2="295.3" stroke="#777" stroke-width="0.35"/>
<line x1="290.4" y1="294.5" x2="290.4" y2="295.3" stroke="#777" stroke-width="0.35"/>
<line x1="292.31" y1="294.5" x2="292.31" y2="295.3" stroke="#777" stroke-width="0.35"/>
<line x1="293.79" y1="294.5" x2="293.79" y2="295.3" stroke="#777" stroke-width="0.35"/>
<line x1="295.01" y1="294.5" x2="295.01" y2="295.3" stroke="#777" stroke-width="0.35"/>
<line x1="296.03" y1="294.5" x2="296.03" y2="295.3" stroke="#777" stroke-width="0.35"/>
<line x1="296.92" y1="294.5" x2="296.92" y2="295.3" stroke="#777" stroke-width="0.35"/>
<line x1="297.7" y1="294.5" x2="297.7" y2="295.3" stroke="#777" stroke-width="0.35"/>
<text class="r" x="285" y="304.1" font-size="7.3" font-style="italic" text-anchor="middle">10<tspan dy="-2.7" dx="0.25" font-size="4.2">0</tspan></text>
<line x1="298.4" y1="294.5" x2="298.4" y2="296" stroke="#444" stroke-width="0.5"/>
<line x1="303.01" y1="294.5" x2="303.01" y2="295.3" stroke="#777" stroke-width="0.35"/>
<line x1="305.7" y1="294.5" x2="305.7" y2="295.3" stroke="#777" stroke-width="0.35"/>
<line x1="307.61" y1="294.5" x2="307.61" y2="295.3" stroke="#777" stroke-width="0.35"/>
<line x1="309.09" y1="294.5" x2="309.09" y2="295.3" stroke="#777" stroke-width="0.35"/>
<line x1="310.31" y1="294.5" x2="310.31" y2="295.3" stroke="#777" stroke-width="0.35"/>
<line x1="311.33" y1="294.5" x2="311.33" y2="295.3" stroke="#777" stroke-width="0.35"/>
<line x1="312.22" y1="294.5" x2="312.22" y2="295.3" stroke="#777" stroke-width="0.35"/>
<line x1="313" y1="294.5" x2="313" y2="295.3" stroke="#777" stroke-width="0.35"/>
<text class="r" x="300.3" y="304.1" font-size="7.3" font-style="italic" text-anchor="middle">10<tspan dy="-2.7" dx="0.25" font-size="4.2">1</tspan></text>
<line x1="313.7" y1="294.5" x2="313.7" y2="296" stroke="#444" stroke-width="0.5"/>
<line x1="318.31" y1="294.5" x2="318.31" y2="295.3" stroke="#777" stroke-width="0.35"/>
<line x1="321" y1="294.5" x2="321" y2="295.3" stroke="#777" stroke-width="0.35"/>
<line x1="322.91" y1="294.5" x2="322.91" y2="295.3" stroke="#777" stroke-width="0.35"/>
<line x1="324.39" y1="294.5" x2="324.39" y2="295.3" stroke="#777" stroke-width="0.35"/>
<line x1="325.61" y1="294.5" x2="325.61" y2="295.3" stroke="#777" stroke-width="0.35"/>
<line x1="326.63" y1="294.5" x2="326.63" y2="295.3" stroke="#777" stroke-width="0.35"/>
<line x1="327.52" y1="294.5" x2="327.52" y2="295.3" stroke="#777" stroke-width="0.35"/>
<line x1="328.3" y1="294.5" x2="328.3" y2="295.3" stroke="#777" stroke-width="0.35"/>
<text class="r" x="315.6" y="304.1" font-size="7.3" font-style="italic" text-anchor="middle">10<tspan dy="-2.7" dx="0.25" font-size="4.2">2</tspan></text>
<line x1="329" y1="294.5" x2="329" y2="296" stroke="#444" stroke-width="0.5"/>
<line x1="333.61" y1="294.5" x2="333.61" y2="295.3" stroke="#777" stroke-width="0.35"/>
<line x1="336.3" y1="294.5" x2="336.3" y2="295.3" stroke="#777" stroke-width="0.35"/>
<line x1="338.21" y1="294.5" x2="338.21" y2="295.3" stroke="#777" stroke-width="0.35"/>
<line x1="339.69" y1="294.5" x2="339.69" y2="295.3" stroke="#777" stroke-width="0.35"/>
<line x1="340.91" y1="294.5" x2="340.91" y2="295.3" stroke="#777" stroke-width="0.35"/>
<line x1="341.93" y1="294.5" x2="341.93" y2="295.3" stroke="#777" stroke-width="0.35"/>
<line x1="342.82" y1="294.5" x2="342.82" y2="295.3" stroke="#777" stroke-width="0.35"/>
<line x1="343.6" y1="294.5" x2="343.6" y2="295.3" stroke="#777" stroke-width="0.35"/>
<text class="r" x="330.9" y="304.1" font-size="7.3" font-style="italic" text-anchor="middle">10<tspan dy="-2.7" dx="0.25" font-size="4.2">3</tspan></text>
<line x1="344.3" y1="294.5" x2="344.3" y2="296" stroke="#444" stroke-width="0.5"/>
<text class="r" x="344.7" y="304.1" font-size="7.3" font-style="italic" text-anchor="middle">10<tspan dy="-2.7" dx="0.25" font-size="4.2">4</tspan></text>
<rect x="369.8" y="234.2" width="61.7" height="60.3" fill="#fff" stroke="#a8a8a8" stroke-width="0.7"/>
<path d="M376.1 294.2 L376.1 292.37 L376.55 291.65 L377 290.44 L377.45 288.98 L377.9 287.29 L378.35 285.26 L378.8 282.79 L379.25 281.16 L379.7 278.25 L380.15 275.95 L380.6 272.87 L381.05 269.95 L381.5 264.38 L381.95 262.43 L382.4 259.2 L382.85 252.56 L383.3 250.98 L383.75 247.75 L384.2 245.77 L384.65 244.97 L385.1 244.4 L385.55 240.94 L386 237.65 L386.45 240.56 L386.9 243.09 L387.35 243.19 L387.8 247.24 L388.25 245.85 L388.7 249.06 L389.15 251.6 L389.6 251.01 L390.05 252.51 L390.5 255.04 L390.95 255.9 L391.4 256.4 L391.85 257.77 L392.3 261.83 L392.75 264.6 L393.2 262.13 L393.65 264.86 L394.1 266.55 L394.55 267.49 L395 269.56 L395.45 270.9 L395.9 274.28 L396.35 276.48 L396.8 279.29 L397.25 281.14 L397.7 284.04 L398.15 286.23 L398.6 288.33 L399.05 290.35 L399.5 291.58 L399.5 294.2Z" fill="#b7b7b7" stroke="#5a5a5a" stroke-width="0.5" stroke-linejoin="round"/>
<path d="M389.7 294.2 L389.7 293.3 L390.2 292.75 L390.7 291.88 L391.2 290.55 L391.7 288.89 L392.2 287.04 L392.7 284.2 L393.2 280.56 L393.7 277.03 L394.2 273.35 L394.7 270.02 L395.2 262.53 L395.7 260.48 L396.2 256.03 L396.7 252.76 L397.2 249.31 L397.7 246.73 L398.2 246.79 L398.7 241.51 L399.2 237.65 L399.7 239.3 L400.2 239.18 L400.7 241.05 L401.2 243.38 L401.7 241.79 L402.2 250 L402.7 251.16 L403.2 252.98 L403.7 258.22 L404.2 264.29 L404.7 267.58 L405.2 268.34 L405.7 274.02 L406.2 276.97 L406.7 279.79 L407.2 283.01 L407.7 286.19 L408.2 288.23 L408.7 289.58 L409.2 291.07 L409.7 292.09 L409.7 294.2" fill="none" stroke="#2a2ae6" stroke-width="0.8" stroke-linejoin="round"/>
<line x1="369.8" y1="234.2" x2="369.8" y2="294.5" stroke="#777" stroke-width="0.6"/>
<line x1="369.8" y1="294.5" x2="431.5" y2="294.5" stroke="#777" stroke-width="0.6"/>
<line x1="368.2" y1="294.2" x2="369.8" y2="294.2" stroke="#444" stroke-width="0.5"/>
<line x1="368.9" y1="288.37" x2="369.8" y2="288.37" stroke="#444" stroke-width="0.5"/>
<line x1="368.2" y1="282.54" x2="369.8" y2="282.54" stroke="#444" stroke-width="0.5"/>
<line x1="368.9" y1="276.71" x2="369.8" y2="276.71" stroke="#444" stroke-width="0.5"/>
<line x1="368.2" y1="270.88" x2="369.8" y2="270.88" stroke="#444" stroke-width="0.5"/>
<line x1="368.9" y1="265.05" x2="369.8" y2="265.05" stroke="#444" stroke-width="0.5"/>
<line x1="368.2" y1="259.22" x2="369.8" y2="259.22" stroke="#444" stroke-width="0.5"/>
<line x1="368.9" y1="253.39" x2="369.8" y2="253.39" stroke="#444" stroke-width="0.5"/>
<line x1="368.2" y1="247.56" x2="369.8" y2="247.56" stroke="#444" stroke-width="0.5"/>
<line x1="368.9" y1="241.73" x2="369.8" y2="241.73" stroke="#444" stroke-width="0.5"/>
<line x1="368.2" y1="235.9" x2="369.8" y2="235.9" stroke="#444" stroke-width="0.5"/>
<line x1="369.8" y1="294.5" x2="369.8" y2="296" stroke="#444" stroke-width="0.5"/>
<line x1="374.41" y1="294.5" x2="374.41" y2="295.3" stroke="#777" stroke-width="0.35"/>
<line x1="377.1" y1="294.5" x2="377.1" y2="295.3" stroke="#777" stroke-width="0.35"/>
<line x1="379.01" y1="294.5" x2="379.01" y2="295.3" stroke="#777" stroke-width="0.35"/>
<line x1="380.49" y1="294.5" x2="380.49" y2="295.3" stroke="#777" stroke-width="0.35"/>
<line x1="381.71" y1="294.5" x2="381.71" y2="295.3" stroke="#777" stroke-width="0.35"/>
<line x1="382.73" y1="294.5" x2="382.73" y2="295.3" stroke="#777" stroke-width="0.35"/>
<line x1="383.62" y1="294.5" x2="383.62" y2="295.3" stroke="#777" stroke-width="0.35"/>
<line x1="384.4" y1="294.5" x2="384.4" y2="295.3" stroke="#777" stroke-width="0.35"/>
<text class="r" x="371.7" y="304.1" font-size="7.3" font-style="italic" text-anchor="middle">10<tspan dy="-2.7" dx="0.25" font-size="4.2">0</tspan></text>
<line x1="385.1" y1="294.5" x2="385.1" y2="296" stroke="#444" stroke-width="0.5"/>
<line x1="389.71" y1="294.5" x2="389.71" y2="295.3" stroke="#777" stroke-width="0.35"/>
<line x1="392.4" y1="294.5" x2="392.4" y2="295.3" stroke="#777" stroke-width="0.35"/>
<line x1="394.31" y1="294.5" x2="394.31" y2="295.3" stroke="#777" stroke-width="0.35"/>
<line x1="395.79" y1="294.5" x2="395.79" y2="295.3" stroke="#777" stroke-width="0.35"/>
<line x1="397.01" y1="294.5" x2="397.01" y2="295.3" stroke="#777" stroke-width="0.35"/>
<line x1="398.03" y1="294.5" x2="398.03" y2="295.3" stroke="#777" stroke-width="0.35"/>
<line x1="398.92" y1="294.5" x2="398.92" y2="295.3" stroke="#777" stroke-width="0.35"/>
<line x1="399.7" y1="294.5" x2="399.7" y2="295.3" stroke="#777" stroke-width="0.35"/>
<text class="r" x="387" y="304.1" font-size="7.3" font-style="italic" text-anchor="middle">10<tspan dy="-2.7" dx="0.25" font-size="4.2">1</tspan></text>
<line x1="400.4" y1="294.5" x2="400.4" y2="296" stroke="#444" stroke-width="0.5"/>
<line x1="405.01" y1="294.5" x2="405.01" y2="295.3" stroke="#777" stroke-width="0.35"/>
<line x1="407.7" y1="294.5" x2="407.7" y2="295.3" stroke="#777" stroke-width="0.35"/>
<line x1="409.61" y1="294.5" x2="409.61" y2="295.3" stroke="#777" stroke-width="0.35"/>
<line x1="411.09" y1="294.5" x2="411.09" y2="295.3" stroke="#777" stroke-width="0.35"/>
<line x1="412.31" y1="294.5" x2="412.31" y2="295.3" stroke="#777" stroke-width="0.35"/>
<line x1="413.33" y1="294.5" x2="413.33" y2="295.3" stroke="#777" stroke-width="0.35"/>
<line x1="414.22" y1="294.5" x2="414.22" y2="295.3" stroke="#777" stroke-width="0.35"/>
<line x1="415" y1="294.5" x2="415" y2="295.3" stroke="#777" stroke-width="0.35"/>
<text class="r" x="402.3" y="304.1" font-size="7.3" font-style="italic" text-anchor="middle">10<tspan dy="-2.7" dx="0.25" font-size="4.2">2</tspan></text>
<line x1="415.7" y1="294.5" x2="415.7" y2="296" stroke="#444" stroke-width="0.5"/>
<line x1="420.31" y1="294.5" x2="420.31" y2="295.3" stroke="#777" stroke-width="0.35"/>
<line x1="423" y1="294.5" x2="423" y2="295.3" stroke="#777" stroke-width="0.35"/>
<line x1="424.91" y1="294.5" x2="424.91" y2="295.3" stroke="#777" stroke-width="0.35"/>
<line x1="426.39" y1="294.5" x2="426.39" y2="295.3" stroke="#777" stroke-width="0.35"/>
<line x1="427.61" y1="294.5" x2="427.61" y2="295.3" stroke="#777" stroke-width="0.35"/>
<line x1="428.63" y1="294.5" x2="428.63" y2="295.3" stroke="#777" stroke-width="0.35"/>
<line x1="429.52" y1="294.5" x2="429.52" y2="295.3" stroke="#777" stroke-width="0.35"/>
<line x1="430.3" y1="294.5" x2="430.3" y2="295.3" stroke="#777" stroke-width="0.35"/>
<text class="r" x="417.6" y="304.1" font-size="7.3" font-style="italic" text-anchor="middle">10<tspan dy="-2.7" dx="0.25" font-size="4.2">3</tspan></text>
<line x1="431" y1="294.5" x2="431" y2="296" stroke="#444" stroke-width="0.5"/>
<text class="r" x="431.4" y="304.1" font-size="7.3" font-style="italic" text-anchor="middle">10<tspan dy="-2.7" dx="0.25" font-size="4.2">4</tspan></text>
<rect x="455.9" y="234.2" width="61.7" height="60.3" fill="#fff" stroke="#a8a8a8" stroke-width="0.7"/>
<path d="M462.2 294.2 L462.2 292.26 L462.65 291.25 L463.1 290 L463.55 288.41 L464 286.22 L464.45 284.45 L464.9 282.48 L465.35 280.2 L465.8 276.58 L466.25 274.19 L466.7 270.69 L467.15 265.84 L467.6 261.97 L468.05 258.08 L468.5 256.71 L468.95 255.3 L469.4 249.29 L469.85 244.66 L470.3 242.14 L470.75 237.65 L471.2 237.96 L471.65 240.72 L472.1 239.15 L472.55 241.58 L473 243.59 L473.45 243.22 L473.9 248.32 L474.35 246.08 L474.8 247.49 L475.25 253.14 L475.7 252.59 L476.15 253.83 L476.6 256.5 L477.05 257.58 L477.5 259.12 L477.95 259.8 L478.4 261.97 L478.85 264.44 L479.3 262.99 L479.75 264.46 L480.2 267.28 L480.65 267.91 L481.1 269.48 L481.55 273.85 L482 276.15 L482.45 278.76 L482.9 281.19 L483.35 284.05 L483.8 286.62 L484.25 288.4 L484.7 290.3 L485.15 291.55 L485.15 294.2Z" fill="#b7b7b7" stroke="#5a5a5a" stroke-width="0.5" stroke-linejoin="round"/>
<path d="M469.1 294.2 L469.1 293.75 L469.6 293.56 L470.1 293.22 L470.6 292.78 L471.1 292.39 L471.6 291.9 L472.1 291.39 L472.6 290.51 L473.1 289.95 L473.6 288.99 L474.1 287.59 L474.6 285.78 L475.1 284.25 L475.6 281.09 L476.1 277.65 L476.6 275.8 L477.1 271.6 L477.6 268.17 L478.1 264.41 L478.6 256.13 L479.1 254.83 L479.6 253.03 L480.1 252.43 L480.6 248.19 L481.1 246.94 L481.6 245.34 L482.1 243.17 L482.6 237.65 L483.1 241.49 L483.6 243.36 L484.1 246.11 L484.6 246.93 L485.1 257.08 L485.6 261.7 L486.1 261.96 L486.6 264.53 L487.1 268.05 L487.6 271.76 L488.1 273.66 L488.6 276.19 L489.1 280.42 L489.6 283.8 L490.1 286.27 L490.6 289.07 L491.1 290.91 L491.1 294.2" fill="none" stroke="#2a2ae6" stroke-width="0.8" stroke-linejoin="round"/>
<line x1="455.9" y1="234.2" x2="455.9" y2="294.5" stroke="#777" stroke-width="0.6"/>
<line x1="455.9" y1="294.5" x2="517.6" y2="294.5" stroke="#777" stroke-width="0.6"/>
<line x1="454.3" y1="294.2" x2="455.9" y2="294.2" stroke="#444" stroke-width="0.5"/>
<line x1="455" y1="288.37" x2="455.9" y2="288.37" stroke="#444" stroke-width="0.5"/>
<line x1="454.3" y1="282.54" x2="455.9" y2="282.54" stroke="#444" stroke-width="0.5"/>
<line x1="455" y1="276.71" x2="455.9" y2="276.71" stroke="#444" stroke-width="0.5"/>
<line x1="454.3" y1="270.88" x2="455.9" y2="270.88" stroke="#444" stroke-width="0.5"/>
<line x1="455" y1="265.05" x2="455.9" y2="265.05" stroke="#444" stroke-width="0.5"/>
<line x1="454.3" y1="259.22" x2="455.9" y2="259.22" stroke="#444" stroke-width="0.5"/>
<line x1="455" y1="253.39" x2="455.9" y2="253.39" stroke="#444" stroke-width="0.5"/>
<line x1="454.3" y1="247.56" x2="455.9" y2="247.56" stroke="#444" stroke-width="0.5"/>
<line x1="455" y1="241.73" x2="455.9" y2="241.73" stroke="#444" stroke-width="0.5"/>
<line x1="454.3" y1="235.9" x2="455.9" y2="235.9" stroke="#444" stroke-width="0.5"/>
<line x1="455.9" y1="294.5" x2="455.9" y2="296" stroke="#444" stroke-width="0.5"/>
<line x1="460.51" y1="294.5" x2="460.51" y2="295.3" stroke="#777" stroke-width="0.35"/>
<line x1="463.2" y1="294.5" x2="463.2" y2="295.3" stroke="#777" stroke-width="0.35"/>
<line x1="465.11" y1="294.5" x2="465.11" y2="295.3" stroke="#777" stroke-width="0.35"/>
<line x1="466.59" y1="294.5" x2="466.59" y2="295.3" stroke="#777" stroke-width="0.35"/>
<line x1="467.81" y1="294.5" x2="467.81" y2="295.3" stroke="#777" stroke-width="0.35"/>
<line x1="468.83" y1="294.5" x2="468.83" y2="295.3" stroke="#777" stroke-width="0.35"/>
<line x1="469.72" y1="294.5" x2="469.72" y2="295.3" stroke="#777" stroke-width="0.35"/>
<line x1="470.5" y1="294.5" x2="470.5" y2="295.3" stroke="#777" stroke-width="0.35"/>
<text class="r" x="457.8" y="304.1" font-size="7.3" font-style="italic" text-anchor="middle">10<tspan dy="-2.7" dx="0.25" font-size="4.2">0</tspan></text>
<line x1="471.2" y1="294.5" x2="471.2" y2="296" stroke="#444" stroke-width="0.5"/>
<line x1="475.81" y1="294.5" x2="475.81" y2="295.3" stroke="#777" stroke-width="0.35"/>
<line x1="478.5" y1="294.5" x2="478.5" y2="295.3" stroke="#777" stroke-width="0.35"/>
<line x1="480.41" y1="294.5" x2="480.41" y2="295.3" stroke="#777" stroke-width="0.35"/>
<line x1="481.89" y1="294.5" x2="481.89" y2="295.3" stroke="#777" stroke-width="0.35"/>
<line x1="483.11" y1="294.5" x2="483.11" y2="295.3" stroke="#777" stroke-width="0.35"/>
<line x1="484.13" y1="294.5" x2="484.13" y2="295.3" stroke="#777" stroke-width="0.35"/>
<line x1="485.02" y1="294.5" x2="485.02" y2="295.3" stroke="#777" stroke-width="0.35"/>
<line x1="485.8" y1="294.5" x2="485.8" y2="295.3" stroke="#777" stroke-width="0.35"/>
<text class="r" x="473.1" y="304.1" font-size="7.3" font-style="italic" text-anchor="middle">10<tspan dy="-2.7" dx="0.25" font-size="4.2">1</tspan></text>
<line x1="486.5" y1="294.5" x2="486.5" y2="296" stroke="#444" stroke-width="0.5"/>
<line x1="491.11" y1="294.5" x2="491.11" y2="295.3" stroke="#777" stroke-width="0.35"/>
<line x1="493.8" y1="294.5" x2="493.8" y2="295.3" stroke="#777" stroke-width="0.35"/>
<line x1="495.71" y1="294.5" x2="495.71" y2="295.3" stroke="#777" stroke-width="0.35"/>
<line x1="497.19" y1="294.5" x2="497.19" y2="295.3" stroke="#777" stroke-width="0.35"/>
<line x1="498.41" y1="294.5" x2="498.41" y2="295.3" stroke="#777" stroke-width="0.35"/>
<line x1="499.43" y1="294.5" x2="499.43" y2="295.3" stroke="#777" stroke-width="0.35"/>
<line x1="500.32" y1="294.5" x2="500.32" y2="295.3" stroke="#777" stroke-width="0.35"/>
<line x1="501.1" y1="294.5" x2="501.1" y2="295.3" stroke="#777" stroke-width="0.35"/>
<text class="r" x="488.4" y="304.1" font-size="7.3" font-style="italic" text-anchor="middle">10<tspan dy="-2.7" dx="0.25" font-size="4.2">2</tspan></text>
<line x1="501.8" y1="294.5" x2="501.8" y2="296" stroke="#444" stroke-width="0.5"/>
<line x1="506.41" y1="294.5" x2="506.41" y2="295.3" stroke="#777" stroke-width="0.35"/>
<line x1="509.1" y1="294.5" x2="509.1" y2="295.3" stroke="#777" stroke-width="0.35"/>
<line x1="511.01" y1="294.5" x2="511.01" y2="295.3" stroke="#777" stroke-width="0.35"/>
<line x1="512.49" y1="294.5" x2="512.49" y2="295.3" stroke="#777" stroke-width="0.35"/>
<line x1="513.71" y1="294.5" x2="513.71" y2="295.3" stroke="#777" stroke-width="0.35"/>
<line x1="514.73" y1="294.5" x2="514.73" y2="295.3" stroke="#777" stroke-width="0.35"/>
<line x1="515.62" y1="294.5" x2="515.62" y2="295.3" stroke="#777" stroke-width="0.35"/>
<line x1="516.4" y1="294.5" x2="516.4" y2="295.3" stroke="#777" stroke-width="0.35"/>
<text class="r" x="503.7" y="304.1" font-size="7.3" font-style="italic" text-anchor="middle">10<tspan dy="-2.7" dx="0.25" font-size="4.2">3</tspan></text>
<line x1="517.1" y1="294.5" x2="517.1" y2="296" stroke="#444" stroke-width="0.5"/>
<text class="r" x="517.5" y="304.1" font-size="7.3" font-style="italic" text-anchor="middle">10<tspan dy="-2.7" dx="0.25" font-size="4.2">4</tspan></text>
<rect x="542.4" y="234.2" width="61.7" height="60.3" fill="#fff" stroke="#a8a8a8" stroke-width="0.7"/>
<path d="M549.9 294.2 L549.9 291.28 L550.35 289.9 L550.8 287.35 L551.25 285.06 L551.7 282.19 L552.15 279.22 L552.6 276.16 L553.05 273.45 L553.5 268.24 L553.95 265 L554.4 260.96 L554.85 254.65 L555.3 254.85 L555.75 249.28 L556.2 246.79 L556.65 245.18 L557.1 237.65 L557.55 241.06 L558 237.95 L558.45 237.83 L558.9 238.45 L559.35 241.04 L559.8 238.71 L560.25 241.89 L560.7 246.14 L561.15 247.19 L561.6 246.17 L562.05 248.77 L562.5 247.84 L562.95 249.08 L563.4 252.07 L563.85 255.44 L564.3 256.17 L564.75 256 L565.2 258.33 L565.65 258.62 L566.1 262.79 L566.55 264.92 L567 267.32 L567.45 270.38 L567.9 272.92 L568.35 275.22 L568.8 278.08 L569.25 280.25 L569.7 282.39 L570.15 283.78 L570.6 285.77 L571.05 287.26 L571.5 288.93 L571.95 289.71 L572.4 290.55 L572.85 291.2 L573.3 291.86 L573.75 292.45 L574.2 292.92 L574.65 293.28 L574.65 294.2Z" fill="#b7b7b7" stroke="#5a5a5a" stroke-width="0.5" stroke-linejoin="round"/>
<path d="M550.3 294.2 L550.3 291.03 L550.8 289.39 L551.3 286.61 L551.8 284.05 L552.3 280.37 L552.8 277.38 L553.3 271.69 L553.8 265.92 L554.3 263.84 L554.8 257.79 L555.3 257.41 L555.8 250.47 L556.3 237.93 L556.8 239.95 L557.3 237.65 L557.8 242.5 L558.3 238.91 L558.8 241.4 L559.3 239.24 L559.8 245.34 L560.3 242.92 L560.8 253.02 L561.3 254.57 L561.8 260.41 L562.3 259.55 L562.8 258.48 L563.3 262.32 L563.8 265.76 L564.3 265.15 L564.8 266.15 L565.3 268.53 L565.8 270.41 L566.3 274.23 L566.8 274 L567.3 276.91 L567.8 280.56 L568.3 280.72 L568.8 283.32 L569.3 284.92 L569.8 287.09 L570.3 288.17 L570.8 289.41 L571.3 289.97 L571.8 290.85 L572.3 291.57 L572.8 292.01 L573.3 292.36 L573.8 292.85 L574.3 293.17 L574.8 293.53 L575.3 293.77 L575.3 294.2" fill="none" stroke="#2a2ae6" stroke-width="0.8" stroke-linejoin="round"/>
<line x1="542.4" y1="234.2" x2="542.4" y2="294.5" stroke="#777" stroke-width="0.6"/>
<line x1="542.4" y1="294.5" x2="604.1" y2="294.5" stroke="#777" stroke-width="0.6"/>
<line x1="540.8" y1="294.2" x2="542.4" y2="294.2" stroke="#444" stroke-width="0.5"/>
<line x1="541.5" y1="288.37" x2="542.4" y2="288.37" stroke="#444" stroke-width="0.5"/>
<line x1="540.8" y1="282.54" x2="542.4" y2="282.54" stroke="#444" stroke-width="0.5"/>
<line x1="541.5" y1="276.71" x2="542.4" y2="276.71" stroke="#444" stroke-width="0.5"/>
<line x1="540.8" y1="270.88" x2="542.4" y2="270.88" stroke="#444" stroke-width="0.5"/>
<line x1="541.5" y1="265.05" x2="542.4" y2="265.05" stroke="#444" stroke-width="0.5"/>
<line x1="540.8" y1="259.22" x2="542.4" y2="259.22" stroke="#444" stroke-width="0.5"/>
<line x1="541.5" y1="253.39" x2="542.4" y2="253.39" stroke="#444" stroke-width="0.5"/>
<line x1="540.8" y1="247.56" x2="542.4" y2="247.56" stroke="#444" stroke-width="0.5"/>
<line x1="541.5" y1="241.73" x2="542.4" y2="241.73" stroke="#444" stroke-width="0.5"/>
<line x1="540.8" y1="235.9" x2="542.4" y2="235.9" stroke="#444" stroke-width="0.5"/>
<line x1="542.4" y1="294.5" x2="542.4" y2="296" stroke="#444" stroke-width="0.5"/>
<line x1="547.01" y1="294.5" x2="547.01" y2="295.3" stroke="#777" stroke-width="0.35"/>
<line x1="549.7" y1="294.5" x2="549.7" y2="295.3" stroke="#777" stroke-width="0.35"/>
<line x1="551.61" y1="294.5" x2="551.61" y2="295.3" stroke="#777" stroke-width="0.35"/>
<line x1="553.09" y1="294.5" x2="553.09" y2="295.3" stroke="#777" stroke-width="0.35"/>
<line x1="554.31" y1="294.5" x2="554.31" y2="295.3" stroke="#777" stroke-width="0.35"/>
<line x1="555.33" y1="294.5" x2="555.33" y2="295.3" stroke="#777" stroke-width="0.35"/>
<line x1="556.22" y1="294.5" x2="556.22" y2="295.3" stroke="#777" stroke-width="0.35"/>
<line x1="557" y1="294.5" x2="557" y2="295.3" stroke="#777" stroke-width="0.35"/>
<text class="r" x="545.1" y="304.1" font-size="7.3" font-style="italic" text-anchor="middle">10<tspan dy="-2.7" dx="0.25" font-size="4.2">0</tspan></text>
<line x1="557.7" y1="294.5" x2="557.7" y2="296" stroke="#444" stroke-width="0.5"/>
<line x1="562.31" y1="294.5" x2="562.31" y2="295.3" stroke="#777" stroke-width="0.35"/>
<line x1="565" y1="294.5" x2="565" y2="295.3" stroke="#777" stroke-width="0.35"/>
<line x1="566.91" y1="294.5" x2="566.91" y2="295.3" stroke="#777" stroke-width="0.35"/>
<line x1="568.39" y1="294.5" x2="568.39" y2="295.3" stroke="#777" stroke-width="0.35"/>
<line x1="569.61" y1="294.5" x2="569.61" y2="295.3" stroke="#777" stroke-width="0.35"/>
<line x1="570.63" y1="294.5" x2="570.63" y2="295.3" stroke="#777" stroke-width="0.35"/>
<line x1="571.52" y1="294.5" x2="571.52" y2="295.3" stroke="#777" stroke-width="0.35"/>
<line x1="572.3" y1="294.5" x2="572.3" y2="295.3" stroke="#777" stroke-width="0.35"/>
<text class="r" x="560.4" y="304.1" font-size="7.3" font-style="italic" text-anchor="middle">10<tspan dy="-2.7" dx="0.25" font-size="4.2">1</tspan></text>
<line x1="573" y1="294.5" x2="573" y2="296" stroke="#444" stroke-width="0.5"/>
<line x1="577.61" y1="294.5" x2="577.61" y2="295.3" stroke="#777" stroke-width="0.35"/>
<line x1="580.3" y1="294.5" x2="580.3" y2="295.3" stroke="#777" stroke-width="0.35"/>
<line x1="582.21" y1="294.5" x2="582.21" y2="295.3" stroke="#777" stroke-width="0.35"/>
<line x1="583.69" y1="294.5" x2="583.69" y2="295.3" stroke="#777" stroke-width="0.35"/>
<line x1="584.91" y1="294.5" x2="584.91" y2="295.3" stroke="#777" stroke-width="0.35"/>
<line x1="585.93" y1="294.5" x2="585.93" y2="295.3" stroke="#777" stroke-width="0.35"/>
<line x1="586.82" y1="294.5" x2="586.82" y2="295.3" stroke="#777" stroke-width="0.35"/>
<line x1="587.6" y1="294.5" x2="587.6" y2="295.3" stroke="#777" stroke-width="0.35"/>
<text class="r" x="575.7" y="304.1" font-size="7.3" font-style="italic" text-anchor="middle">10<tspan dy="-2.7" dx="0.25" font-size="4.2">2</tspan></text>
<line x1="588.3" y1="294.5" x2="588.3" y2="296" stroke="#444" stroke-width="0.5"/>
<line x1="592.91" y1="294.5" x2="592.91" y2="295.3" stroke="#777" stroke-width="0.35"/>
<line x1="595.6" y1="294.5" x2="595.6" y2="295.3" stroke="#777" stroke-width="0.35"/>
<line x1="597.51" y1="294.5" x2="597.51" y2="295.3" stroke="#777" stroke-width="0.35"/>
<line x1="598.99" y1="294.5" x2="598.99" y2="295.3" stroke="#777" stroke-width="0.35"/>
<line x1="600.21" y1="294.5" x2="600.21" y2="295.3" stroke="#777" stroke-width="0.35"/>
<line x1="601.23" y1="294.5" x2="601.23" y2="295.3" stroke="#777" stroke-width="0.35"/>
<line x1="602.12" y1="294.5" x2="602.12" y2="295.3" stroke="#777" stroke-width="0.35"/>
<line x1="602.9" y1="294.5" x2="602.9" y2="295.3" stroke="#777" stroke-width="0.35"/>
<text class="r" x="591" y="304.1" font-size="7.3" font-style="italic" text-anchor="middle">10<tspan dy="-2.7" dx="0.25" font-size="4.2">3</tspan></text>
<line x1="603.6" y1="294.5" x2="603.6" y2="296" stroke="#444" stroke-width="0.5"/>
<text class="r" x="604.8" y="304.1" font-size="7.3" font-style="italic" text-anchor="middle">10<tspan dy="-2.7" dx="0.25" font-size="4.2">4</tspan></text>
<text class="s" font-size="6.8" text-anchor="middle" transform="translate(86.6 340.5) rotate(-90)">% of max</text>
<rect x="108.4" y="310.5" width="61.7" height="60.3" fill="#fff" stroke="#a8a8a8" stroke-width="0.7"/>
<path d="M119.7 370.5 L119.7 369.02 L120.15 368.16 L120.6 366.85 L121.05 365.09 L121.5 362.93 L121.95 360 L122.4 356.13 L122.85 351.77 L123.3 346.9 L123.75 341.56 L124.2 337.16 L124.65 330.91 L125.1 326.18 L125.55 320.28 L126 315.6 L126.45 316.02 L126.9 313.95 L127.35 317.71 L127.8 322.29 L128.25 328.53 L128.7 334.96 L129.15 342.89 L129.6 350.06 L130.05 355.3 L130.5 360.07 L130.95 363.68 L131.4 366.13 L131.4 370.5Z" fill="#b7b7b7" stroke="#5a5a5a" stroke-width="0.5" stroke-linejoin="round"/>
<path d="M130.3 370.5 L130.3 369.2 L130.8 368.4 L131.3 367.3 L131.8 366.02 L132.3 364.53 L132.8 362.87 L133.3 361.14 L133.8 358.95 L134.3 356.4 L134.8 354.38 L135.3 351.53 L135.8 349.14 L136.3 346.39 L136.8 343.1 L137.3 339.53 L137.8 335.66 L138.3 333.86 L138.8 330.31 L139.3 328.03 L139.8 326.89 L140.3 328.15 L140.8 322.85 L141.3 320.75 L141.8 320.36 L142.3 317.01 L142.8 313.95 L143.3 316.65 L143.8 315.58 L144.3 314.31 L144.8 319.4 L145.3 320.84 L145.8 321.76 L146.3 324.4 L146.8 328.36 L147.3 333.16 L147.8 336.99 L148.3 342.98 L148.8 348.37 L149.3 351.99 L149.8 355.36 L150.3 358.78 L150.8 361.97 L151.3 364.09 L151.8 366.09 L152.3 367.6 L152.8 368.61 L152.8 370.5" fill="none" stroke="#ff14e6" stroke-width="0.8" stroke-linejoin="round"/>
<line x1="108.4" y1="310.5" x2="108.4" y2="370.8" stroke="#777" stroke-width="0.6"/>
<line x1="108.4" y1="370.8" x2="170.1" y2="370.8" stroke="#777" stroke-width="0.6"/>
<line x1="106.8" y1="370.5" x2="108.4" y2="370.5" stroke="#444" stroke-width="0.5"/>
<line x1="107.5" y1="364.67" x2="108.4" y2="364.67" stroke="#444" stroke-width="0.5"/>
<line x1="106.8" y1="358.84" x2="108.4" y2="358.84" stroke="#444" stroke-width="0.5"/>
<line x1="107.5" y1="353.01" x2="108.4" y2="353.01" stroke="#444" stroke-width="0.5"/>
<line x1="106.8" y1="347.18" x2="108.4" y2="347.18" stroke="#444" stroke-width="0.5"/>
<line x1="107.5" y1="341.35" x2="108.4" y2="341.35" stroke="#444" stroke-width="0.5"/>
<line x1="106.8" y1="335.52" x2="108.4" y2="335.52" stroke="#444" stroke-width="0.5"/>
<line x1="107.5" y1="329.69" x2="108.4" y2="329.69" stroke="#444" stroke-width="0.5"/>
<line x1="106.8" y1="323.86" x2="108.4" y2="323.86" stroke="#444" stroke-width="0.5"/>
<line x1="107.5" y1="318.03" x2="108.4" y2="318.03" stroke="#444" stroke-width="0.5"/>
<line x1="106.8" y1="312.2" x2="108.4" y2="312.2" stroke="#444" stroke-width="0.5"/>
<line x1="108.4" y1="370.8" x2="108.4" y2="372.3" stroke="#444" stroke-width="0.5"/>
<line x1="113.01" y1="370.8" x2="113.01" y2="371.6" stroke="#777" stroke-width="0.35"/>
<line x1="115.7" y1="370.8" x2="115.7" y2="371.6" stroke="#777" stroke-width="0.35"/>
<line x1="117.61" y1="370.8" x2="117.61" y2="371.6" stroke="#777" stroke-width="0.35"/>
<line x1="119.09" y1="370.8" x2="119.09" y2="371.6" stroke="#777" stroke-width="0.35"/>
<line x1="120.31" y1="370.8" x2="120.31" y2="371.6" stroke="#777" stroke-width="0.35"/>
<line x1="121.33" y1="370.8" x2="121.33" y2="371.6" stroke="#777" stroke-width="0.35"/>
<line x1="122.22" y1="370.8" x2="122.22" y2="371.6" stroke="#777" stroke-width="0.35"/>
<line x1="123" y1="370.8" x2="123" y2="371.6" stroke="#777" stroke-width="0.35"/>
<text class="r" x="110.3" y="380.4" font-size="7.3" font-style="italic" text-anchor="middle">10<tspan dy="-2.7" dx="0.25" font-size="4.2">0</tspan></text>
<line x1="123.7" y1="370.8" x2="123.7" y2="372.3" stroke="#444" stroke-width="0.5"/>
<line x1="128.31" y1="370.8" x2="128.31" y2="371.6" stroke="#777" stroke-width="0.35"/>
<line x1="131" y1="370.8" x2="131" y2="371.6" stroke="#777" stroke-width="0.35"/>
<line x1="132.91" y1="370.8" x2="132.91" y2="371.6" stroke="#777" stroke-width="0.35"/>
<line x1="134.39" y1="370.8" x2="134.39" y2="371.6" stroke="#777" stroke-width="0.35"/>
<line x1="135.61" y1="370.8" x2="135.61" y2="371.6" stroke="#777" stroke-width="0.35"/>
<line x1="136.63" y1="370.8" x2="136.63" y2="371.6" stroke="#777" stroke-width="0.35"/>
<line x1="137.52" y1="370.8" x2="137.52" y2="371.6" stroke="#777" stroke-width="0.35"/>
<line x1="138.3" y1="370.8" x2="138.3" y2="371.6" stroke="#777" stroke-width="0.35"/>
<text class="r" x="125.6" y="380.4" font-size="7.3" font-style="italic" text-anchor="middle">10<tspan dy="-2.7" dx="0.25" font-size="4.2">1</tspan></text>
<line x1="139" y1="370.8" x2="139" y2="372.3" stroke="#444" stroke-width="0.5"/>
<line x1="143.61" y1="370.8" x2="143.61" y2="371.6" stroke="#777" stroke-width="0.35"/>
<line x1="146.3" y1="370.8" x2="146.3" y2="371.6" stroke="#777" stroke-width="0.35"/>
<line x1="148.21" y1="370.8" x2="148.21" y2="371.6" stroke="#777" stroke-width="0.35"/>
<line x1="149.69" y1="370.8" x2="149.69" y2="371.6" stroke="#777" stroke-width="0.35"/>
<line x1="150.91" y1="370.8" x2="150.91" y2="371.6" stroke="#777" stroke-width="0.35"/>
<line x1="151.93" y1="370.8" x2="151.93" y2="371.6" stroke="#777" stroke-width="0.35"/>
<line x1="152.82" y1="370.8" x2="152.82" y2="371.6" stroke="#777" stroke-width="0.35"/>
<line x1="153.6" y1="370.8" x2="153.6" y2="371.6" stroke="#777" stroke-width="0.35"/>
<text class="r" x="140.9" y="380.4" font-size="7.3" font-style="italic" text-anchor="middle">10<tspan dy="-2.7" dx="0.25" font-size="4.2">2</tspan></text>
<line x1="154.3" y1="370.8" x2="154.3" y2="372.3" stroke="#444" stroke-width="0.5"/>
<line x1="158.91" y1="370.8" x2="158.91" y2="371.6" stroke="#777" stroke-width="0.35"/>
<line x1="161.6" y1="370.8" x2="161.6" y2="371.6" stroke="#777" stroke-width="0.35"/>
<line x1="163.51" y1="370.8" x2="163.51" y2="371.6" stroke="#777" stroke-width="0.35"/>
<line x1="164.99" y1="370.8" x2="164.99" y2="371.6" stroke="#777" stroke-width="0.35"/>
<line x1="166.21" y1="370.8" x2="166.21" y2="371.6" stroke="#777" stroke-width="0.35"/>
<line x1="167.23" y1="370.8" x2="167.23" y2="371.6" stroke="#777" stroke-width="0.35"/>
<line x1="168.12" y1="370.8" x2="168.12" y2="371.6" stroke="#777" stroke-width="0.35"/>
<line x1="168.9" y1="370.8" x2="168.9" y2="371.6" stroke="#777" stroke-width="0.35"/>
<text class="r" x="156.2" y="380.4" font-size="7.3" font-style="italic" text-anchor="middle">10<tspan dy="-2.7" dx="0.25" font-size="4.2">3</tspan></text>
<line x1="169.6" y1="370.8" x2="169.6" y2="372.3" stroke="#444" stroke-width="0.5"/>
<text class="r" x="170" y="380.4" font-size="7.3" font-style="italic" text-anchor="middle">10<tspan dy="-2.7" dx="0.25" font-size="4.2">4</tspan></text>
<text class="r" x="105" y="373.1" font-size="7" text-anchor="end" font-style="italic">0</text>
<text class="r" x="105" y="361.44" font-size="7" text-anchor="end" font-style="italic">20</text>
<text class="r" x="105" y="349.78" font-size="7" text-anchor="end" font-style="italic">40</text>
<text class="r" x="105" y="338.12" font-size="7" text-anchor="end" font-style="italic">60</text>
<text class="r" x="105" y="326.46" font-size="7" text-anchor="end" font-style="italic">80</text>
<text class="r" x="105" y="314.8" font-size="7" text-anchor="end" font-style="italic">100</text>
<rect x="197.3" y="310.5" width="61.7" height="60.3" fill="#fff" stroke="#a8a8a8" stroke-width="0.7"/>
<path d="M209.3 370.5 L209.3 368.59 L209.75 367.43 L210.2 365.56 L210.65 362.98 L211.1 359.2 L211.55 354.9 L212 349.64 L212.45 344.21 L212.9 337.8 L213.35 331.02 L213.8 326.4 L214.25 318.87 L214.7 316.91 L215.15 313.95 L215.6 314.18 L216.05 318 L216.5 321.57 L216.95 326.91 L217.4 332.87 L217.85 340.35 L218.3 346.43 L218.75 352.59 L219.2 357.61 L219.65 361.4 L220.1 364.51 L220.55 366.7 L221 368.12 L221 370.5Z" fill="#b7b7b7" stroke="#5a5a5a" stroke-width="0.5" stroke-linejoin="round"/>
<path d="M221 370.5 L221 369.39 L221.5 368.78 L222 367.95 L222.5 366.79 L223 365.68 L223.5 364.46 L224 363.06 L224.5 361.19 L225 359.25 L225.5 356.99 L226 354.65 L226.5 351.49 L227 349.15 L227.5 345.84 L228 342.51 L228.5 338.69 L229 336.42 L229.5 332.82 L230 329.34 L230.5 326.52 L231 323.65 L231.5 321.3 L232 316.25 L232.5 313.95 L233 317.03 L233.5 316.4 L234 320.88 L234.5 323.74 L235 326.69 L235.5 330.3 L236 334.78 L236.5 341.12 L237 345.35 L237.5 349 L238 353.11 L238.5 356.33 L239 360.08 L239.5 362.89 L240 364.97 L240.5 367.01 L241 368.32 L241.5 369.08 L241.5 370.5" fill="none" stroke="#ff14e6" stroke-width="0.8" stroke-linejoin="round"/>
<line x1="197.3" y1="310.5" x2="197.3" y2="370.8" stroke="#777" stroke-width="0.6"/>
<line x1="197.3" y1="370.8" x2="259" y2="370.8" stroke="#777" stroke-width="0.6"/>
<line x1="195.7" y1="370.5" x2="197.3" y2="370.5" stroke="#444" stroke-width="0.5"/>
<line x1="196.4" y1="364.67" x2="197.3" y2="364.67" stroke="#444" stroke-width="0.5"/>
<line x1="195.7" y1="358.84" x2="197.3" y2="358.84" stroke="#444" stroke-width="0.5"/>
<line x1="196.4" y1="353.01" x2="197.3" y2="353.01" stroke="#444" stroke-width="0.5"/>
<line x1="195.7" y1="347.18" x2="197.3" y2="347.18" stroke="#444" stroke-width="0.5"/>
<line x1="196.4" y1="341.35" x2="197.3" y2="341.35" stroke="#444" stroke-width="0.5"/>
<line x1="195.7" y1="335.52" x2="197.3" y2="335.52" stroke="#444" stroke-width="0.5"/>
<line x1="196.4" y1="329.69" x2="197.3" y2="329.69" stroke="#444" stroke-width="0.5"/>
<line x1="195.7" y1="323.86" x2="197.3" y2="323.86" stroke="#444" stroke-width="0.5"/>
<line x1="196.4" y1="318.03" x2="197.3" y2="318.03" stroke="#444" stroke-width="0.5"/>
<line x1="195.7" y1="312.2" x2="197.3" y2="312.2" stroke="#444" stroke-width="0.5"/>
<line x1="197.3" y1="370.8" x2="197.3" y2="372.3" stroke="#444" stroke-width="0.5"/>
<line x1="201.91" y1="370.8" x2="201.91" y2="371.6" stroke="#777" stroke-width="0.35"/>
<line x1="204.6" y1="370.8" x2="204.6" y2="371.6" stroke="#777" stroke-width="0.35"/>
<line x1="206.51" y1="370.8" x2="206.51" y2="371.6" stroke="#777" stroke-width="0.35"/>
<line x1="207.99" y1="370.8" x2="207.99" y2="371.6" stroke="#777" stroke-width="0.35"/>
<line x1="209.21" y1="370.8" x2="209.21" y2="371.6" stroke="#777" stroke-width="0.35"/>
<line x1="210.23" y1="370.8" x2="210.23" y2="371.6" stroke="#777" stroke-width="0.35"/>
<line x1="211.12" y1="370.8" x2="211.12" y2="371.6" stroke="#777" stroke-width="0.35"/>
<line x1="211.9" y1="370.8" x2="211.9" y2="371.6" stroke="#777" stroke-width="0.35"/>
<text class="r" x="199.2" y="380.4" font-size="7.3" font-style="italic" text-anchor="middle">10<tspan dy="-2.7" dx="0.25" font-size="4.2">0</tspan></text>
<line x1="212.6" y1="370.8" x2="212.6" y2="372.3" stroke="#444" stroke-width="0.5"/>
<line x1="217.21" y1="370.8" x2="217.21" y2="371.6" stroke="#777" stroke-width="0.35"/>
<line x1="219.9" y1="370.8" x2="219.9" y2="371.6" stroke="#777" stroke-width="0.35"/>
<line x1="221.81" y1="370.8" x2="221.81" y2="371.6" stroke="#777" stroke-width="0.35"/>
<line x1="223.29" y1="370.8" x2="223.29" y2="371.6" stroke="#777" stroke-width="0.35"/>
<line x1="224.51" y1="370.8" x2="224.51" y2="371.6" stroke="#777" stroke-width="0.35"/>
<line x1="225.53" y1="370.8" x2="225.53" y2="371.6" stroke="#777" stroke-width="0.35"/>
<line x1="226.42" y1="370.8" x2="226.42" y2="371.6" stroke="#777" stroke-width="0.35"/>
<line x1="227.2" y1="370.8" x2="227.2" y2="371.6" stroke="#777" stroke-width="0.35"/>
<text class="r" x="214.5" y="380.4" font-size="7.3" font-style="italic" text-anchor="middle">10<tspan dy="-2.7" dx="0.25" font-size="4.2">1</tspan></text>
<line x1="227.9" y1="370.8" x2="227.9" y2="372.3" stroke="#444" stroke-width="0.5"/>
<line x1="232.51" y1="370.8" x2="232.51" y2="371.6" stroke="#777" stroke-width="0.35"/>
<line x1="235.2" y1="370.8" x2="235.2" y2="371.6" stroke="#777" stroke-width="0.35"/>
<line x1="237.11" y1="370.8" x2="237.11" y2="371.6" stroke="#777" stroke-width="0.35"/>
<line x1="238.59" y1="370.8" x2="238.59" y2="371.6" stroke="#777" stroke-width="0.35"/>
<line x1="239.81" y1="370.8" x2="239.81" y2="371.6" stroke="#777" stroke-width="0.35"/>
<line x1="240.83" y1="370.8" x2="240.83" y2="371.6" stroke="#777" stroke-width="0.35"/>
<line x1="241.72" y1="370.8" x2="241.72" y2="371.6" stroke="#777" stroke-width="0.35"/>
<line x1="242.5" y1="370.8" x2="242.5" y2="371.6" stroke="#777" stroke-width="0.35"/>
<text class="r" x="229.8" y="380.4" font-size="7.3" font-style="italic" text-anchor="middle">10<tspan dy="-2.7" dx="0.25" font-size="4.2">2</tspan></text>
<line x1="243.2" y1="370.8" x2="243.2" y2="372.3" stroke="#444" stroke-width="0.5"/>
<line x1="247.81" y1="370.8" x2="247.81" y2="371.6" stroke="#777" stroke-width="0.35"/>
<line x1="250.5" y1="370.8" x2="250.5" y2="371.6" stroke="#777" stroke-width="0.35"/>
<line x1="252.41" y1="370.8" x2="252.41" y2="371.6" stroke="#777" stroke-width="0.35"/>
<line x1="253.89" y1="370.8" x2="253.89" y2="371.6" stroke="#777" stroke-width="0.35"/>
<line x1="255.11" y1="370.8" x2="255.11" y2="371.6" stroke="#777" stroke-width="0.35"/>
<line x1="256.13" y1="370.8" x2="256.13" y2="371.6" stroke="#777" stroke-width="0.35"/>
<line x1="257.02" y1="370.8" x2="257.02" y2="371.6" stroke="#777" stroke-width="0.35"/>
<line x1="257.8" y1="370.8" x2="257.8" y2="371.6" stroke="#777" stroke-width="0.35"/>
<text class="r" x="245.1" y="380.4" font-size="7.3" font-style="italic" text-anchor="middle">10<tspan dy="-2.7" dx="0.25" font-size="4.2">3</tspan></text>
<line x1="258.5" y1="370.8" x2="258.5" y2="372.3" stroke="#444" stroke-width="0.5"/>
<text class="r" x="258.9" y="380.4" font-size="7.3" font-style="italic" text-anchor="middle">10<tspan dy="-2.7" dx="0.25" font-size="4.2">4</tspan></text>
<rect x="283.1" y="310.5" width="61.7" height="60.3" fill="#fff" stroke="#a8a8a8" stroke-width="0.7"/>
<path d="M295.4 370.5 L295.4 368.43 L295.85 367.09 L296.3 365.03 L296.75 362.19 L297.2 358.32 L297.65 353.65 L298.1 347.2 L298.55 340.53 L299 333.81 L299.45 328.46 L299.9 323.58 L300.35 317.91 L300.8 315.52 L301.25 313.95 L301.7 317.93 L302.15 321.46 L302.6 326 L303.05 332.3 L303.5 339.46 L303.95 346.59 L304.4 352.24 L304.85 356.73 L305.3 361.02 L305.75 364.37 L306.2 366.36 L306.2 370.5Z" fill="#b7b7b7" stroke="#5a5a5a" stroke-width="0.5" stroke-linejoin="round"/>
<path d="M305.3 370.5 L305.3 367.38 L305.8 365.55 L306.3 363.01 L306.8 359.56 L307.3 356.29 L307.8 352.66 L308.3 349.08 L308.8 345.12 L309.3 340.09 L309.8 335.74 L310.3 330.79 L310.8 329.39 L311.3 325.73 L311.8 321 L312.3 318.63 L312.8 318.17 L313.3 313.95 L313.8 314.12 L314.3 314 L314.8 315.65 L315.3 317 L315.8 321.24 L316.3 324 L316.8 326.05 L317.3 330.52 L317.8 334.76 L318.3 338.58 L318.8 343.35 L319.3 347.61 L319.8 352.37 L320.3 355.32 L320.8 358.12 L321.3 361.19 L321.8 363.47 L322.3 365.3 L322.8 366.82 L323.3 367.96 L323.8 368.88 L324.3 369.51 L324.3 370.5" fill="none" stroke="#ff14e6" stroke-width="0.8" stroke-linejoin="round"/>
<line x1="283.1" y1="310.5" x2="283.1" y2="370.8" stroke="#777" stroke-width="0.6"/>
<line x1="283.1" y1="370.8" x2="344.8" y2="370.8" stroke="#777" stroke-width="0.6"/>
<line x1="281.5" y1="370.5" x2="283.1" y2="370.5" stroke="#444" stroke-width="0.5"/>
<line x1="282.2" y1="364.67" x2="283.1" y2="364.67" stroke="#444" stroke-width="0.5"/>
<line x1="281.5" y1="358.84" x2="283.1" y2="358.84" stroke="#444" stroke-width="0.5"/>
<line x1="282.2" y1="353.01" x2="283.1" y2="353.01" stroke="#444" stroke-width="0.5"/>
<line x1="281.5" y1="347.18" x2="283.1" y2="347.18" stroke="#444" stroke-width="0.5"/>
<line x1="282.2" y1="341.35" x2="283.1" y2="341.35" stroke="#444" stroke-width="0.5"/>
<line x1="281.5" y1="335.52" x2="283.1" y2="335.52" stroke="#444" stroke-width="0.5"/>
<line x1="282.2" y1="329.69" x2="283.1" y2="329.69" stroke="#444" stroke-width="0.5"/>
<line x1="281.5" y1="323.86" x2="283.1" y2="323.86" stroke="#444" stroke-width="0.5"/>
<line x1="282.2" y1="318.03" x2="283.1" y2="318.03" stroke="#444" stroke-width="0.5"/>
<line x1="281.5" y1="312.2" x2="283.1" y2="312.2" stroke="#444" stroke-width="0.5"/>
<line x1="283.1" y1="370.8" x2="283.1" y2="372.3" stroke="#444" stroke-width="0.5"/>
<line x1="287.71" y1="370.8" x2="287.71" y2="371.6" stroke="#777" stroke-width="0.35"/>
<line x1="290.4" y1="370.8" x2="290.4" y2="371.6" stroke="#777" stroke-width="0.35"/>
<line x1="292.31" y1="370.8" x2="292.31" y2="371.6" stroke="#777" stroke-width="0.35"/>
<line x1="293.79" y1="370.8" x2="293.79" y2="371.6" stroke="#777" stroke-width="0.35"/>
<line x1="295.01" y1="370.8" x2="295.01" y2="371.6" stroke="#777" stroke-width="0.35"/>
<line x1="296.03" y1="370.8" x2="296.03" y2="371.6" stroke="#777" stroke-width="0.35"/>
<line x1="296.92" y1="370.8" x2="296.92" y2="371.6" stroke="#777" stroke-width="0.35"/>
<line x1="297.7" y1="370.8" x2="297.7" y2="371.6" stroke="#777" stroke-width="0.35"/>
<text class="r" x="285" y="380.4" font-size="7.3" font-style="italic" text-anchor="middle">10<tspan dy="-2.7" dx="0.25" font-size="4.2">0</tspan></text>
<line x1="298.4" y1="370.8" x2="298.4" y2="372.3" stroke="#444" stroke-width="0.5"/>
<line x1="303.01" y1="370.8" x2="303.01" y2="371.6" stroke="#777" stroke-width="0.35"/>
<line x1="305.7" y1="370.8" x2="305.7" y2="371.6" stroke="#777" stroke-width="0.35"/>
<line x1="307.61" y1="370.8" x2="307.61" y2="371.6" stroke="#777" stroke-width="0.35"/>
<line x1="309.09" y1="370.8" x2="309.09" y2="371.6" stroke="#777" stroke-width="0.35"/>
<line x1="310.31" y1="370.8" x2="310.31" y2="371.6" stroke="#777" stroke-width="0.35"/>
<line x1="311.33" y1="370.8" x2="311.33" y2="371.6" stroke="#777" stroke-width="0.35"/>
<line x1="312.22" y1="370.8" x2="312.22" y2="371.6" stroke="#777" stroke-width="0.35"/>
<line x1="313" y1="370.8" x2="313" y2="371.6" stroke="#777" stroke-width="0.35"/>
<text class="r" x="300.3" y="380.4" font-size="7.3" font-style="italic" text-anchor="middle">10<tspan dy="-2.7" dx="0.25" font-size="4.2">1</tspan></text>
<line x1="313.7" y1="370.8" x2="313.7" y2="372.3" stroke="#444" stroke-width="0.5"/>
<line x1="318.31" y1="370.8" x2="318.31" y2="371.6" stroke="#777" stroke-width="0.35"/>
<line x1="321" y1="370.8" x2="321" y2="371.6" stroke="#777" stroke-width="0.35"/>
<line x1="322.91" y1="370.8" x2="322.91" y2="371.6" stroke="#777" stroke-width="0.35"/>
<line x1="324.39" y1="370.8" x2="324.39" y2="371.6" stroke="#777" stroke-width="0.35"/>
<line x1="325.61" y1="370.8" x2="325.61" y2="371.6" stroke="#777" stroke-width="0.35"/>
<line x1="326.63" y1="370.8" x2="326.63" y2="371.6" stroke="#777" stroke-width="0.35"/>
<line x1="327.52" y1="370.8" x2="327.52" y2="371.6" stroke="#777" stroke-width="0.35"/>
<line x1="328.3" y1="370.8" x2="328.3" y2="371.6" stroke="#777" stroke-width="0.35"/>
<text class="r" x="315.6" y="380.4" font-size="7.3" font-style="italic" text-anchor="middle">10<tspan dy="-2.7" dx="0.25" font-size="4.2">2</tspan></text>
<line x1="329" y1="370.8" x2="329" y2="372.3" stroke="#444" stroke-width="0.5"/>
<line x1="333.61" y1="370.8" x2="333.61" y2="371.6" stroke="#777" stroke-width="0.35"/>
<line x1="336.3" y1="370.8" x2="336.3" y2="371.6" stroke="#777" stroke-width="0.35"/>
<line x1="338.21" y1="370.8" x2="338.21" y2="371.6" stroke="#777" stroke-width="0.35"/>
<line x1="339.69" y1="370.8" x2="339.69" y2="371.6" stroke="#777" stroke-width="0.35"/>
<line x1="340.91" y1="370.8" x2="340.91" y2="371.6" stroke="#777" stroke-width="0.35"/>
<line x1="341.93" y1="370.8" x2="341.93" y2="371.6" stroke="#777" stroke-width="0.35"/>
<line x1="342.82" y1="370.8" x2="342.82" y2="371.6" stroke="#777" stroke-width="0.35"/>
<line x1="343.6" y1="370.8" x2="343.6" y2="371.6" stroke="#777" stroke-width="0.35"/>
<text class="r" x="330.9" y="380.4" font-size="7.3" font-style="italic" text-anchor="middle">10<tspan dy="-2.7" dx="0.25" font-size="4.2">3</tspan></text>
<line x1="344.3" y1="370.8" x2="344.3" y2="372.3" stroke="#444" stroke-width="0.5"/>
<text class="r" x="344.7" y="380.4" font-size="7.3" font-style="italic" text-anchor="middle">10<tspan dy="-2.7" dx="0.25" font-size="4.2">4</tspan></text>
<rect x="369.8" y="310.5" width="61.7" height="60.3" fill="#fff" stroke="#a8a8a8" stroke-width="0.7"/>
<path d="M382.2 370.5 L382.2 368.3 L382.65 366.98 L383.1 364.83 L383.55 361.71 L384 357.64 L384.45 352.78 L384.9 347.12 L385.35 340.21 L385.8 332.62 L386.25 325.06 L386.7 318.07 L387.15 315.39 L387.6 313.95 L388.05 316.14 L388.5 315.97 L388.95 321.63 L389.4 329.78 L389.85 338.26 L390.3 346.45 L390.75 352.26 L391.2 358.07 L391.65 362.26 L392.1 365.26 L392.1 370.5Z" fill="#b7b7b7" stroke="#5a5a5a" stroke-width="0.5" stroke-linejoin="round"/>
<path d="M391.2 370.5 L391.2 367.99 L391.7 366.58 L392.2 364.45 L392.7 362.22 L393.2 358.97 L393.7 356.14 L394.2 353.15 L394.7 349.37 L395.2 345.8 L395.7 341.47 L396.2 338.49 L396.7 335.53 L397.2 331.49 L397.7 328.06 L398.2 324.54 L398.7 321.03 L399.2 317.91 L399.7 316.63 L400.2 314.3 L400.7 318.79 L401.2 315.3 L401.7 313.95 L402.2 318.02 L402.7 318.5 L403.2 320.36 L403.7 325.27 L404.2 327.53 L404.7 329.99 L405.2 334.51 L405.7 337.32 L406.2 341.13 L406.7 346.7 L407.2 351.14 L407.7 354.34 L408.2 357.67 L408.7 360.64 L409.2 362.85 L409.7 364.79 L410.2 366.37 L410.7 367.6 L411.2 368.54 L411.2 370.5" fill="none" stroke="#ff14e6" stroke-width="0.8" stroke-linejoin="round"/>
<line x1="369.8" y1="310.5" x2="369.8" y2="370.8" stroke="#777" stroke-width="0.6"/>
<line x1="369.8" y1="370.8" x2="431.5" y2="370.8" stroke="#777" stroke-width="0.6"/>
<line x1="368.2" y1="370.5" x2="369.8" y2="370.5" stroke="#444" stroke-width="0.5"/>
<line x1="368.9" y1="364.67" x2="369.8" y2="364.67" stroke="#444" stroke-width="0.5"/>
<line x1="368.2" y1="358.84" x2="369.8" y2="358.84" stroke="#444" stroke-width="0.5"/>
<line x1="368.9" y1="353.01" x2="369.8" y2="353.01" stroke="#444" stroke-width="0.5"/>
<line x1="368.2" y1="347.18" x2="369.8" y2="347.18" stroke="#444" stroke-width="0.5"/>
<line x1="368.9" y1="341.35" x2="369.8" y2="341.35" stroke="#444" stroke-width="0.5"/>
<line x1="368.2" y1="335.52" x2="369.8" y2="335.52" stroke="#444" stroke-width="0.5"/>
<line x1="368.9" y1="329.69" x2="369.8" y2="329.69" stroke="#444" stroke-width="0.5"/>
<line x1="368.2" y1="323.86" x2="369.8" y2="323.86" stroke="#444" stroke-width="0.5"/>
<line x1="368.9" y1="318.03" x2="369.8" y2="318.03" stroke="#444" stroke-width="0.5"/>
<line x1="368.2" y1="312.2" x2="369.8" y2="312.2" stroke="#444" stroke-width="0.5"/>
<line x1="369.8" y1="370.8" x2="369.8" y2="372.3" stroke="#444" stroke-width="0.5"/>
<line x1="374.41" y1="370.8" x2="374.41" y2="371.6" stroke="#777" stroke-width="0.35"/>
<line x1="377.1" y1="370.8" x2="377.1" y2="371.6" stroke="#777" stroke-width="0.35"/>
<line x1="379.01" y1="370.8" x2="379.01" y2="371.6" stroke="#777" stroke-width="0.35"/>
<line x1="380.49" y1="370.8" x2="380.49" y2="371.6" stroke="#777" stroke-width="0.35"/>
<line x1="381.71" y1="370.8" x2="381.71" y2="371.6" stroke="#777" stroke-width="0.35"/>
<line x1="382.73" y1="370.8" x2="382.73" y2="371.6" stroke="#777" stroke-width="0.35"/>
<line x1="383.62" y1="370.8" x2="383.62" y2="371.6" stroke="#777" stroke-width="0.35"/>
<line x1="384.4" y1="370.8" x2="384.4" y2="371.6" stroke="#777" stroke-width="0.35"/>
<text class="r" x="371.7" y="380.4" font-size="7.3" font-style="italic" text-anchor="middle">10<tspan dy="-2.7" dx="0.25" font-size="4.2">0</tspan></text>
<line x1="385.1" y1="370.8" x2="385.1" y2="372.3" stroke="#444" stroke-width="0.5"/>
<line x1="389.71" y1="370.8" x2="389.71" y2="371.6" stroke="#777" stroke-width="0.35"/>
<line x1="392.4" y1="370.8" x2="392.4" y2="371.6" stroke="#777" stroke-width="0.35"/>
<line x1="394.31" y1="370.8" x2="394.31" y2="371.6" stroke="#777" stroke-width="0.35"/>
<line x1="395.79" y1="370.8" x2="395.79" y2="371.6" stroke="#777" stroke-width="0.35"/>
<line x1="397.01" y1="370.8" x2="397.01" y2="371.6" stroke="#777" stroke-width="0.35"/>
<line x1="398.03" y1="370.8" x2="398.03" y2="371.6" stroke="#777" stroke-width="0.35"/>
<line x1="398.92" y1="370.8" x2="398.92" y2="371.6" stroke="#777" stroke-width="0.35"/>
<line x1="399.7" y1="370.8" x2="399.7" y2="371.6" stroke="#777" stroke-width="0.35"/>
<text class="r" x="387" y="380.4" font-size="7.3" font-style="italic" text-anchor="middle">10<tspan dy="-2.7" dx="0.25" font-size="4.2">1</tspan></text>
<line x1="400.4" y1="370.8" x2="400.4" y2="372.3" stroke="#444" stroke-width="0.5"/>
<line x1="405.01" y1="370.8" x2="405.01" y2="371.6" stroke="#777" stroke-width="0.35"/>
<line x1="407.7" y1="370.8" x2="407.7" y2="371.6" stroke="#777" stroke-width="0.35"/>
<line x1="409.61" y1="370.8" x2="409.61" y2="371.6" stroke="#777" stroke-width="0.35"/>
<line x1="411.09" y1="370.8" x2="411.09" y2="371.6" stroke="#777" stroke-width="0.35"/>
<line x1="412.31" y1="370.8" x2="412.31" y2="371.6" stroke="#777" stroke-width="0.35"/>
<line x1="413.33" y1="370.8" x2="413.33" y2="371.6" stroke="#777" stroke-width="0.35"/>
<line x1="414.22" y1="370.8" x2="414.22" y2="371.6" stroke="#777" stroke-width="0.35"/>
<line x1="415" y1="370.8" x2="415" y2="371.6" stroke="#777" stroke-width="0.35"/>
<text class="r" x="402.3" y="380.4" font-size="7.3" font-style="italic" text-anchor="middle">10<tspan dy="-2.7" dx="0.25" font-size="4.2">2</tspan></text>
<line x1="415.7" y1="370.8" x2="415.7" y2="372.3" stroke="#444" stroke-width="0.5"/>
<line x1="420.31" y1="370.8" x2="420.31" y2="371.6" stroke="#777" stroke-width="0.35"/>
<line x1="423" y1="370.8" x2="423" y2="371.6" stroke="#777" stroke-width="0.35"/>
<line x1="424.91" y1="370.8" x2="424.91" y2="371.6" stroke="#777" stroke-width="0.35"/>
<line x1="426.39" y1="370.8" x2="426.39" y2="371.6" stroke="#777" stroke-width="0.35"/>
<line x1="427.61" y1="370.8" x2="427.61" y2="371.6" stroke="#777" stroke-width="0.35"/>
<line x1="428.63" y1="370.8" x2="428.63" y2="371.6" stroke="#777" stroke-width="0.35"/>
<line x1="429.52" y1="370.8" x2="429.52" y2="371.6" stroke="#777" stroke-width="0.35"/>
<line x1="430.3" y1="370.8" x2="430.3" y2="371.6" stroke="#777" stroke-width="0.35"/>
<text class="r" x="417.6" y="380.4" font-size="7.3" font-style="italic" text-anchor="middle">10<tspan dy="-2.7" dx="0.25" font-size="4.2">3</tspan></text>
<line x1="431" y1="370.8" x2="431" y2="372.3" stroke="#444" stroke-width="0.5"/>
<text class="r" x="431.4" y="380.4" font-size="7.3" font-style="italic" text-anchor="middle">10<tspan dy="-2.7" dx="0.25" font-size="4.2">4</tspan></text>
<rect x="455.9" y="310.5" width="61.7" height="60.3" fill="#fff" stroke="#a8a8a8" stroke-width="0.7"/>
<path d="M468.8 370.5 L468.8 368.08 L469.25 366.53 L469.7 363.98 L470.15 360.49 L470.6 355.88 L471.05 350.61 L471.5 344.68 L471.95 335.78 L472.4 329.13 L472.85 322.58 L473.3 316.97 L473.75 314.08 L474.2 313.95 L474.65 314.99 L475.1 321.48 L475.55 328.76 L476 337.17 L476.45 344.53 L476.9 351.33 L477.35 357.34 L477.8 361.91 L478.25 365.07 L478.25 370.5Z" fill="#b7b7b7" stroke="#5a5a5a" stroke-width="0.5" stroke-linejoin="round"/>
<path d="M479.8 370.5 L479.8 368.38 L480.3 367.21 L480.8 365.45 L481.3 363.37 L481.8 360.79 L482.3 357.85 L482.8 355.04 L483.3 352.14 L483.8 348.22 L484.3 343.97 L484.8 340.25 L485.3 336.81 L485.8 334.42 L486.3 330.56 L486.8 327.17 L487.3 323.65 L487.8 319.86 L488.3 317.65 L488.8 316.19 L489.3 313.95 L489.8 315.28 L490.3 315.34 L490.8 316.23 L491.3 320.22 L491.8 322.48 L492.3 325.91 L492.8 328.69 L493.3 331.2 L493.8 334.73 L494.3 338.21 L494.8 342.16 L495.3 346.52 L495.8 348.92 L496.3 352.61 L496.8 356.62 L497.3 359.36 L497.8 361.62 L498.3 363.45 L498.8 364.99 L499.3 366.37 L499.8 367.58 L500.3 368.31 L500.8 369.05 L500.8 370.5" fill="none" stroke="#ff14e6" stroke-width="0.8" stroke-linejoin="round"/>
<line x1="455.9" y1="310.5" x2="455.9" y2="370.8" stroke="#777" stroke-width="0.6"/>
<line x1="455.9" y1="370.8" x2="517.6" y2="370.8" stroke="#777" stroke-width="0.6"/>
<line x1="454.3" y1="370.5" x2="455.9" y2="370.5" stroke="#444" stroke-width="0.5"/>
<line x1="455" y1="364.67" x2="455.9" y2="364.67" stroke="#444" stroke-width="0.5"/>
<line x1="454.3" y1="358.84" x2="455.9" y2="358.84" stroke="#444" stroke-width="0.5"/>
<line x1="455" y1="353.01" x2="455.9" y2="353.01" stroke="#444" stroke-width="0.5"/>
<line x1="454.3" y1="347.18" x2="455.9" y2="347.18" stroke="#444" stroke-width="0.5"/>
<line x1="455" y1="341.35" x2="455.9" y2="341.35" stroke="#444" stroke-width="0.5"/>
<line x1="454.3" y1="335.52" x2="455.9" y2="335.52" stroke="#444" stroke-width="0.5"/>
<line x1="455" y1="329.69" x2="455.9" y2="329.69" stroke="#444" stroke-width="0.5"/>
<line x1="454.3" y1="323.86" x2="455.9" y2="323.86" stroke="#444" stroke-width="0.5"/>
<line x1="455" y1="318.03" x2="455.9" y2="318.03" stroke="#444" stroke-width="0.5"/>
<line x1="454.3" y1="312.2" x2="455.9" y2="312.2" stroke="#444" stroke-width="0.5"/>
<line x1="455.9" y1="370.8" x2="455.9" y2="372.3" stroke="#444" stroke-width="0.5"/>
<line x1="460.51" y1="370.8" x2="460.51" y2="371.6" stroke="#777" stroke-width="0.35"/>
<line x1="463.2" y1="370.8" x2="463.2" y2="371.6" stroke="#777" stroke-width="0.35"/>
<line x1="465.11" y1="370.8" x2="465.11" y2="371.6" stroke="#777" stroke-width="0.35"/>
<line x1="466.59" y1="370.8" x2="466.59" y2="371.6" stroke="#777" stroke-width="0.35"/>
<line x1="467.81" y1="370.8" x2="467.81" y2="371.6" stroke="#777" stroke-width="0.35"/>
<line x1="468.83" y1="370.8" x2="468.83" y2="371.6" stroke="#777" stroke-width="0.35"/>
<line x1="469.72" y1="370.8" x2="469.72" y2="371.6" stroke="#777" stroke-width="0.35"/>
<line x1="470.5" y1="370.8" x2="470.5" y2="371.6" stroke="#777" stroke-width="0.35"/>
<text class="r" x="457.8" y="380.4" font-size="7.3" font-style="italic" text-anchor="middle">10<tspan dy="-2.7" dx="0.25" font-size="4.2">0</tspan></text>
<line x1="471.2" y1="370.8" x2="471.2" y2="372.3" stroke="#444" stroke-width="0.5"/>
<line x1="475.81" y1="370.8" x2="475.81" y2="371.6" stroke="#777" stroke-width="0.35"/>
<line x1="478.5" y1="370.8" x2="478.5" y2="371.6" stroke="#777" stroke-width="0.35"/>
<line x1="480.41" y1="370.8" x2="480.41" y2="371.6" stroke="#777" stroke-width="0.35"/>
<line x1="481.89" y1="370.8" x2="481.89" y2="371.6" stroke="#777" stroke-width="0.35"/>
<line x1="483.11" y1="370.8" x2="483.11" y2="371.6" stroke="#777" stroke-width="0.35"/>
<line x1="484.13" y1="370.8" x2="484.13" y2="371.6" stroke="#777" stroke-width="0.35"/>
<line x1="485.02" y1="370.8" x2="485.02" y2="371.6" stroke="#777" stroke-width="0.35"/>
<line x1="485.8" y1="370.8" x2="485.8" y2="371.6" stroke="#777" stroke-width="0.35"/>
<text class="r" x="473.1" y="380.4" font-size="7.3" font-style="italic" text-anchor="middle">10<tspan dy="-2.7" dx="0.25" font-size="4.2">1</tspan></text>
<line x1="486.5" y1="370.8" x2="486.5" y2="372.3" stroke="#444" stroke-width="0.5"/>
<line x1="491.11" y1="370.8" x2="491.11" y2="371.6" stroke="#777" stroke-width="0.35"/>
<line x1="493.8" y1="370.8" x2="493.8" y2="371.6" stroke="#777" stroke-width="0.35"/>
<line x1="495.71" y1="370.8" x2="495.71" y2="371.6" stroke="#777" stroke-width="0.35"/>
<line x1="497.19" y1="370.8" x2="497.19" y2="371.6" stroke="#777" stroke-width="0.35"/>
<line x1="498.41" y1="370.8" x2="498.41" y2="371.6" stroke="#777" stroke-width="0.35"/>
<line x1="499.43" y1="370.8" x2="499.43" y2="371.6" stroke="#777" stroke-width="0.35"/>
<line x1="500.32" y1="370.8" x2="500.32" y2="371.6" stroke="#777" stroke-width="0.35"/>
<line x1="501.1" y1="370.8" x2="501.1" y2="371.6" stroke="#777" stroke-width="0.35"/>
<text class="r" x="488.4" y="380.4" font-size="7.3" font-style="italic" text-anchor="middle">10<tspan dy="-2.7" dx="0.25" font-size="4.2">2</tspan></text>
<line x1="501.8" y1="370.8" x2="501.8" y2="372.3" stroke="#444" stroke-width="0.5"/>
<line x1="506.41" y1="370.8" x2="506.41" y2="371.6" stroke="#777" stroke-width="0.35"/>
<line x1="509.1" y1="370.8" x2="509.1" y2="371.6" stroke="#777" stroke-width="0.35"/>
<line x1="511.01" y1="370.8" x2="511.01" y2="371.6" stroke="#777" stroke-width="0.35"/>
<line x1="512.49" y1="370.8" x2="512.49" y2="371.6" stroke="#777" stroke-width="0.35"/>
<line x1="513.71" y1="370.8" x2="513.71" y2="371.6" stroke="#777" stroke-width="0.35"/>
<line x1="514.73" y1="370.8" x2="514.73" y2="371.6" stroke="#777" stroke-width="0.35"/>
<line x1="515.62" y1="370.8" x2="515.62" y2="371.6" stroke="#777" stroke-width="0.35"/>
<line x1="516.4" y1="370.8" x2="516.4" y2="371.6" stroke="#777" stroke-width="0.35"/>
<text class="r" x="503.7" y="380.4" font-size="7.3" font-style="italic" text-anchor="middle">10<tspan dy="-2.7" dx="0.25" font-size="4.2">3</tspan></text>
<line x1="517.1" y1="370.8" x2="517.1" y2="372.3" stroke="#444" stroke-width="0.5"/>
<text class="r" x="517.5" y="380.4" font-size="7.3" font-style="italic" text-anchor="middle">10<tspan dy="-2.7" dx="0.25" font-size="4.2">4</tspan></text>
<rect x="542.4" y="310.5" width="61.7" height="60.3" fill="#fff" stroke="#a8a8a8" stroke-width="0.7"/>
<path d="M555.3 370.5 L555.3 368.15 L555.75 366.69 L556.2 364.21 L556.65 360.74 L557.1 356.4 L557.55 350.47 L558 344.05 L558.45 336.27 L558.9 329.68 L559.35 322.49 L559.8 319.66 L560.25 313.95 L560.7 314.24 L561.15 317.35 L561.6 320.83 L562.05 328 L562.5 334.65 L562.95 341.92 L563.4 348.83 L563.85 354.68 L564.3 359.74 L564.75 363.46 L565.2 366.07 L565.2 370.5Z" fill="#b7b7b7" stroke="#5a5a5a" stroke-width="0.5" stroke-linejoin="round"/>
<path d="M567.6 370.5 L567.6 367.56 L568.1 365.77 L568.6 363.31 L569.1 360.41 L569.6 356.68 L570.1 353.08 L570.6 348.56 L571.1 344.06 L571.6 339.7 L572.1 335.4 L572.6 329.84 L573.1 325.14 L573.6 319.48 L574.1 316.62 L574.6 313.95 L575.1 314.39 L575.6 314.17 L576.1 316.14 L576.6 317.1 L577.1 317.63 L577.6 322.18 L578.1 326.68 L578.6 331.55 L579.1 335.05 L579.6 341.07 L580.1 345.73 L580.6 350.9 L581.1 355.07 L581.6 359.25 L582.1 362.39 L582.6 364.59 L583.1 366.61 L583.6 367.94 L583.6 370.5" fill="none" stroke="#ff14e6" stroke-width="0.8" stroke-linejoin="round"/>
<line x1="542.4" y1="310.5" x2="542.4" y2="370.8" stroke="#777" stroke-width="0.6"/>
<line x1="542.4" y1="370.8" x2="604.1" y2="370.8" stroke="#777" stroke-width="0.6"/>
<line x1="540.8" y1="370.5" x2="542.4" y2="370.5" stroke="#444" stroke-width="0.5"/>
<line x1="541.5" y1="364.67" x2="542.4" y2="364.67" stroke="#444" stroke-width="0.5"/>
<line x1="540.8" y1="358.84" x2="542.4" y2="358.84" stroke="#444" stroke-width="0.5"/>
<line x1="541.5" y1="353.01" x2="542.4" y2="353.01" stroke="#444" stroke-width="0.5"/>
<line x1="540.8" y1="347.18" x2="542.4" y2="347.18" stroke="#444" stroke-width="0.5"/>
<line x1="541.5" y1="341.35" x2="542.4" y2="341.35" stroke="#444" stroke-width="0.5"/>
<line x1="540.8" y1="335.52" x2="542.4" y2="335.52" stroke="#444" stroke-width="0.5"/>
<line x1="541.5" y1="329.69" x2="542.4" y2="329.69" stroke="#444" stroke-width="0.5"/>
<line x1="540.8" y1="323.86" x2="542.4" y2="323.86" stroke="#444" stroke-width="0.5"/>
<line x1="541.5" y1="318.03" x2="542.4" y2="318.03" stroke="#444" stroke-width="0.5"/>
<line x1="540.8" y1="312.2" x2="542.4" y2="312.2" stroke="#444" stroke-width="0.5"/>
<line x1="542.4" y1="370.8" x2="542.4" y2="372.3" stroke="#444" stroke-width="0.5"/>
<line x1="547.01" y1="370.8" x2="547.01" y2="371.6" stroke="#777" stroke-width="0.35"/>
<line x1="549.7" y1="370.8" x2="549.7" y2="371.6" stroke="#777" stroke-width="0.35"/>
<line x1="551.61" y1="370.8" x2="551.61" y2="371.6" stroke="#777" stroke-width="0.35"/>
<line x1="553.09" y1="370.8" x2="553.09" y2="371.6" stroke="#777" stroke-width="0.35"/>
<line x1="554.31" y1="370.8" x2="554.31" y2="371.6" stroke="#777" stroke-width="0.35"/>
<line x1="555.33" y1="370.8" x2="555.33" y2="371.6" stroke="#777" stroke-width="0.35"/>
<line x1="556.22" y1="370.8" x2="556.22" y2="371.6" stroke="#777" stroke-width="0.35"/>
<line x1="557" y1="370.8" x2="557" y2="371.6" stroke="#777" stroke-width="0.35"/>
<text class="r" x="545.1" y="380.4" font-size="7.3" font-style="italic" text-anchor="middle">10<tspan dy="-2.7" dx="0.25" font-size="4.2">0</tspan></text>
<line x1="557.7" y1="370.8" x2="557.7" y2="372.3" stroke="#444" stroke-width="0.5"/>
<line x1="562.31" y1="370.8" x2="562.31" y2="371.6" stroke="#777" stroke-width="0.35"/>
<line x1="565" y1="370.8" x2="565" y2="371.6" stroke="#777" stroke-width="0.35"/>
<line x1="566.91" y1="370.8" x2="566.91" y2="371.6" stroke="#777" stroke-width="0.35"/>
<line x1="568.39" y1="370.8" x2="568.39" y2="371.6" stroke="#777" stroke-width="0.35"/>
<line x1="569.61" y1="370.8" x2="569.61" y2="371.6" stroke="#777" stroke-width="0.35"/>
<line x1="570.63" y1="370.8" x2="570.63" y2="371.6" stroke="#777" stroke-width="0.35"/>
<line x1="571.52" y1="370.8" x2="571.52" y2="371.6" stroke="#777" stroke-width="0.35"/>
<line x1="572.3" y1="370.8" x2="572.3" y2="371.6" stroke="#777" stroke-width="0.35"/>
<text class="r" x="560.4" y="380.4" font-size="7.3" font-style="italic" text-anchor="middle">10<tspan dy="-2.7" dx="0.25" font-size="4.2">1</tspan></text>
<line x1="573" y1="370.8" x2="573" y2="372.3" stroke="#444" stroke-width="0.5"/>
<line x1="577.61" y1="370.8" x2="577.61" y2="371.6" stroke="#777" stroke-width="0.35"/>
<line x1="580.3" y1="370.8" x2="580.3" y2="371.6" stroke="#777" stroke-width="0.35"/>
<line x1="582.21" y1="370.8" x2="582.21" y2="371.6" stroke="#777" stroke-width="0.35"/>
<line x1="583.69" y1="370.8" x2="583.69" y2="371.6" stroke="#777" stroke-width="0.35"/>
<line x1="584.91" y1="370.8" x2="584.91" y2="371.6" stroke="#777" stroke-width="0.35"/>
<line x1="585.93" y1="370.8" x2="585.93" y2="371.6" stroke="#777" stroke-width="0.35"/>
<line x1="586.82" y1="370.8" x2="586.82" y2="371.6" stroke="#777" stroke-width="0.35"/>
<line x1="587.6" y1="370.8" x2="587.6" y2="371.6" stroke="#777" stroke-width="0.35"/>
<text class="r" x="575.7" y="380.4" font-size="7.3" font-style="italic" text-anchor="middle">10<tspan dy="-2.7" dx="0.25" font-size="4.2">2</tspan></text>
<line x1="588.3" y1="370.8" x2="588.3" y2="372.3" stroke="#444" stroke-width="0.5"/>
<line x1="592.91" y1="370.8" x2="592.91" y2="371.6" stroke="#777" stroke-width="0.35"/>
<line x1="595.6" y1="370.8" x2="595.6" y2="371.6" stroke="#777" stroke-width="0.35"/>
<line x1="597.51" y1="370.8" x2="597.51" y2="371.6" stroke="#777" stroke-width="0.35"/>
<line x1="598.99" y1="370.8" x2="598.99" y2="371.6" stroke="#777" stroke-width="0.35"/>
<line x1="600.21" y1="370.8" x2="600.21" y2="371.6" stroke="#777" stroke-width="0.35"/>
<line x1="601.23" y1="370.8" x2="601.23" y2="371.6" stroke="#777" stroke-width="0.35"/>
<line x1="602.12" y1="370.8" x2="602.12" y2="371.6" stroke="#777" stroke-width="0.35"/>
<line x1="602.9" y1="370.8" x2="602.9" y2="371.6" stroke="#777" stroke-width="0.35"/>
<text class="r" x="591" y="380.4" font-size="7.3" font-style="italic" text-anchor="middle">10<tspan dy="-2.7" dx="0.25" font-size="4.2">3</tspan></text>
<line x1="603.6" y1="370.8" x2="603.6" y2="372.3" stroke="#444" stroke-width="0.5"/>
<text class="r" x="604.8" y="380.4" font-size="7.3" font-style="italic" text-anchor="middle">10<tspan dy="-2.7" dx="0.25" font-size="4.2">4</tspan></text>
<line x1="106" y1="388.8" x2="609.5" y2="388.8" stroke="#6a6a6a" stroke-width="0.8"/>
<path d="M609 384.9 L617 388.8 L609 392.7 Z" fill="#000"/>
<text class="s" x="358" y="399.7" font-size="6.8" text-anchor="middle">Fluorescence Intensity</text>
<text class="s" x="89" y="414.2" font-size="6.8" text-anchor="middle">Fab:</text>
<line x1="75.3" y1="417.4" x2="102.6" y2="417.4" stroke="#333" stroke-width="0.7"/>
<text class="s" x="139.8" y="414.9" font-size="6.8" text-anchor="middle">Lin1_gHgL</text>
<text class="s" x="229.4" y="414.9" font-size="6.8" text-anchor="middle">Lin1_mut1</text>
<text class="s" x="316" y="414.9" font-size="6.8" text-anchor="middle">Lin1_mut2</text>
<text class="s" x="400.8" y="414.9" font-size="6.8" text-anchor="middle">Lin1_mut3</text>
<text class="s" x="488.3" y="414.9" font-size="6.8" text-anchor="middle">Lin1_mut4</text>
<text class="s" x="575.1" y="414.9" font-size="6.8" text-anchor="middle">Lin1_sHsL</text>
<use href="#blob" x="26.3" y="422.2"/>
<use href="#blob" x="25.7" y="488"/>
<text class="s" x="42.2" y="464.4" font-size="6.8" text-anchor="middle">WT</text>
<text class="s" x="43.1" y="530.5" font-size="6.8" text-anchor="middle">D368R</text>
<text class="s" font-size="6.8" text-anchor="middle" transform="translate(92.2 444.5) rotate(-90)">Binding (nm)</text>
<path d="M109.6 467.4 L110 466.68 L110.39 466.05 L110.79 465.48 L111.19 464.98 L111.58 464.54 L111.98 464.14 L112.38 463.79 L112.77 463.48 L113.17 463.2 L113.56 462.96 L113.96 462.74 L114.36 462.54 L114.75 462.37 L115.15 462.21 L115.55 462.07 L115.94 461.95 L116.34 461.83 L116.74 461.73 L117.13 461.64 L117.53 461.56 L117.93 461.49 L118.32 461.42 L118.72 461.36 L119.12 461.31 L120.7 461.14 L122.29 461.02 L123.87 460.93 L125.46 460.87 L127.05 460.82 L128.63 460.78 L130.22 460.74 L131.8 460.72 L133.39 460.69 L134.98 460.67 L136.56 460.65 L138.15 460.64 L139.73 460.63 L141.32 460.62 L142.91 460.61 L144.49 460.6 L146.08 460.59 L147.66 460.58 L149.25 460.58 L150.84 460.57 L152.42 460.57 L154.01 460.56 L155.59 460.56 L157.18 460.55 L157.58 461.28 L157.97 461.94 L158.37 462.52 L158.77 463.03 L159.16 463.48 L159.56 463.87 L159.96 464.22 L160.35 464.52 L160.75 464.79 L161.14 465.02 L161.54 465.23 L161.94 465.41 L162.33 465.57 L162.73 465.71 L163.13 465.83 L163.52 465.94 L163.92 466.04 L164.32 466.12 L164.71 466.2 L165.11 466.27 L165.51 466.33 L165.9 466.38 L166.3 466.43 L166.7 466.47 L167.09 466.51 L167.49 466.54 L167.89 466.57 L168.28 466.6 L168.68 466.62 L169.07 466.64 L169.47 466.66 L169.87 466.68 L170.26 466.7 L170.66 466.71 L171.06 466.72 L171.45 466.74 L171.85 466.75 L172.25 466.76 L172.64 466.77 L173.04 466.78 L174.63 466.81 L176.21 466.84 L177.8 466.86 L179.38 466.88 L180.97 466.9" fill="none" stroke="#222222" stroke-width="0.7" stroke-linejoin="round"/>
<path d="M109.6 467.4 L110 465.26 L110.39 463.55 L110.79 462.2 L111.19 461.11 L111.58 460.25 L111.98 459.55 L112.38 459 L112.77 458.54 L113.17 458.18 L113.56 457.88 L113.96 457.64 L114.36 457.44 L114.75 457.27 L115.15 457.13 L115.55 457.02 L115.94 456.92 L116.34 456.84 L116.74 456.77 L117.13 456.7 L117.53 456.65 L117.93 456.6 L118.32 456.56 L118.72 456.52 L119.12 456.49 L120.7 456.38 L122.29 456.31 L123.87 456.25 L125.46 456.21 L127.05 456.17 L128.63 456.15 L130.22 456.13 L131.8 456.11 L133.39 456.1 L134.98 456.09 L136.56 456.08 L138.15 456.07 L139.73 456.07 L141.32 456.07 L142.91 456.06 L144.49 456.06 L146.08 456.06 L147.66 456.06 L149.25 456.06 L150.84 456.05 L152.42 456.05 L154.01 456.05 L155.59 456.05 L157.18 456.05 L157.58 457.24 L157.97 458.28 L158.37 459.21 L158.77 460.03 L159.16 460.75 L159.56 461.39 L159.96 461.95 L160.35 462.45 L160.75 462.89 L161.14 463.29 L161.54 463.63 L161.94 463.94 L162.33 464.21 L162.73 464.45 L163.13 464.67 L163.52 464.86 L163.92 465.03 L164.32 465.18 L164.71 465.31 L165.11 465.43 L165.51 465.53 L165.9 465.63 L166.3 465.71 L166.7 465.79 L167.09 465.86 L167.49 465.92 L167.89 465.97 L168.28 466.02 L168.68 466.06 L169.07 466.1 L169.47 466.14 L169.87 466.17 L170.26 466.2 L170.66 466.23 L171.06 466.26 L171.45 466.28 L171.85 466.3 L172.25 466.32 L172.64 466.34 L173.04 466.36 L174.63 466.42 L176.21 466.46 L177.8 466.5 L179.38 466.54 L180.97 466.57" fill="none" stroke="#1f3cff" stroke-width="0.7" stroke-linejoin="round"/>
<path d="M109.6 467.4 L110 463.17 L110.39 460.33 L110.79 458.42 L111.19 457.11 L111.58 456.22 L111.98 455.6 L112.38 455.16 L112.77 454.84 L113.17 454.61 L113.56 454.43 L113.96 454.3 L114.36 454.19 L114.75 454.1 L115.15 454.03 L115.55 453.97 L115.94 453.92 L116.34 453.88 L116.74 453.84 L117.13 453.8 L117.53 453.77 L117.93 453.75 L118.32 453.72 L118.72 453.7 L119.12 453.68 L120.7 453.62 L122.29 453.59 L123.87 453.56 L125.46 453.54 L127.05 453.53 L128.63 453.53 L130.22 453.52 L131.8 453.52 L133.39 453.52 L134.98 453.51 L136.56 453.51 L138.15 453.51 L139.73 453.51 L141.32 453.51 L142.91 453.51 L144.49 453.51 L146.08 453.51 L147.66 453.51 L149.25 453.51 L150.84 453.51 L152.42 453.51 L154.01 453.51 L155.59 453.51 L157.18 453.51 L157.58 454.9 L157.97 456.13 L158.37 457.22 L158.77 458.2 L159.16 459.06 L159.56 459.83 L159.96 460.52 L160.35 461.13 L160.75 461.67 L161.14 462.15 L161.54 462.58 L161.94 462.96 L162.33 463.3 L162.73 463.61 L163.13 463.88 L163.52 464.12 L163.92 464.34 L164.32 464.53 L164.71 464.7 L165.11 464.86 L165.51 465 L165.9 465.12 L166.3 465.23 L166.7 465.33 L167.09 465.42 L167.49 465.5 L167.89 465.58 L168.28 465.64 L168.68 465.7 L169.07 465.76 L169.47 465.81 L169.87 465.85 L170.26 465.89 L170.66 465.93 L171.06 465.97 L171.45 466 L171.85 466.03 L172.25 466.05 L172.64 466.08 L173.04 466.1 L174.63 466.18 L176.21 466.24 L177.8 466.29 L179.38 466.34 L180.97 466.38" fill="none" stroke="#ff84f4" stroke-width="0.7" stroke-linejoin="round"/>
<path d="M109.6 467.4 L110 460.87 L110.39 457.26 L110.79 455.24 L111.19 454.07 L111.58 453.38 L111.98 452.95 L112.38 452.68 L112.77 452.48 L113.17 452.34 L113.56 452.24 L113.96 452.16 L114.36 452.09 L114.75 452.03 L115.15 451.99 L115.55 451.95 L115.94 451.91 L116.34 451.89 L116.74 451.86 L117.13 451.84 L117.53 451.82 L117.93 451.81 L118.32 451.8 L118.72 451.78 L119.12 451.78 L120.7 451.75 L122.29 451.74 L123.87 451.73 L125.46 451.72 L127.05 451.72 L128.63 451.72 L130.22 451.72 L131.8 451.72 L133.39 451.72 L134.98 451.72 L136.56 451.72 L138.15 451.72 L139.73 451.72 L141.32 451.72 L142.91 451.72 L144.49 451.72 L146.08 451.72 L147.66 451.72 L149.25 451.72 L150.84 451.72 L152.42 451.72 L154.01 451.72 L155.59 451.72 L157.18 451.72 L157.58 453.22 L157.97 454.56 L158.37 455.75 L158.77 456.82 L159.16 457.78 L159.56 458.63 L159.96 459.4 L160.35 460.08 L160.75 460.69 L161.14 461.24 L161.54 461.73 L161.94 462.17 L162.33 462.56 L162.73 462.91 L163.13 463.23 L163.52 463.51 L163.92 463.77 L164.32 464 L164.71 464.2 L165.11 464.39 L165.51 464.55 L165.9 464.7 L166.3 464.84 L166.7 464.96 L167.09 465.07 L167.49 465.17 L167.89 465.26 L168.28 465.34 L168.68 465.41 L169.07 465.48 L169.47 465.54 L169.87 465.6 L170.26 465.65 L170.66 465.69 L171.06 465.74 L171.45 465.78 L171.85 465.81 L172.25 465.85 L172.64 465.88 L173.04 465.91 L174.63 466 L176.21 466.08 L177.8 466.14 L179.38 466.2 L180.97 466.24" fill="none" stroke="#ff2a1c" stroke-width="0.7" stroke-linejoin="round"/>
<line x1="109.6" y1="422.6" x2="109.6" y2="467.4" stroke="#222" stroke-width="0.8"/>
<line x1="109.2" y1="467.4" x2="180.97" y2="467.4" stroke="#222" stroke-width="0.8"/>
<line x1="108" y1="467.4" x2="109.6" y2="467.4" stroke="#222" stroke-width="0.6"/>
<text class="r" x="105.8" y="469.7" font-size="7" text-anchor="end" font-style="italic">0</text>
<line x1="108" y1="452.47" x2="109.6" y2="452.47" stroke="#222" stroke-width="0.6"/>
<text class="r" x="105.8" y="454.77" font-size="7" text-anchor="end" font-style="italic">1</text>
<line x1="108" y1="437.53" x2="109.6" y2="437.53" stroke="#222" stroke-width="0.6"/>
<text class="r" x="105.8" y="439.83" font-size="7" text-anchor="end" font-style="italic">2</text>
<line x1="108" y1="422.6" x2="109.6" y2="422.6" stroke="#222" stroke-width="0.6"/>
<text class="r" x="105.8" y="424.9" font-size="7" text-anchor="end" font-style="italic">3</text>
<line x1="109.6" y1="467.4" x2="109.6" y2="469" stroke="#222" stroke-width="0.6"/>
<text class="r" font-size="7" font-style="italic" text-anchor="middle" transform="translate(110.6 474.7) rotate(-57)" y="2.3">0</text>
<line x1="117.53" y1="467.4" x2="117.53" y2="469" stroke="#222" stroke-width="0.6"/>
<text class="r" font-size="7" font-style="italic" text-anchor="middle" transform="translate(118.53 474.7) rotate(-57)" y="2.3">10</text>
<line x1="125.46" y1="467.4" x2="125.46" y2="469" stroke="#222" stroke-width="0.6"/>
<text class="r" font-size="7" font-style="italic" text-anchor="middle" transform="translate(126.46 474.7) rotate(-57)" y="2.3">20</text>
<line x1="133.39" y1="467.4" x2="133.39" y2="469" stroke="#222" stroke-width="0.6"/>
<text class="r" font-size="7" font-style="italic" text-anchor="middle" transform="translate(134.39 474.7) rotate(-57)" y="2.3">30</text>
<line x1="141.32" y1="467.4" x2="141.32" y2="469" stroke="#222" stroke-width="0.6"/>
<text class="r" font-size="7" font-style="italic" text-anchor="middle" transform="translate(142.32 474.7) rotate(-57)" y="2.3">40</text>
<line x1="149.25" y1="467.4" x2="149.25" y2="469" stroke="#222" stroke-width="0.6"/>
<text class="r" font-size="7" font-style="italic" text-anchor="middle" transform="translate(150.25 474.7) rotate(-57)" y="2.3">50</text>
<line x1="157.18" y1="467.4" x2="157.18" y2="469" stroke="#222" stroke-width="0.6"/>
<text class="r" font-size="7" font-style="italic" text-anchor="middle" transform="translate(158.18 474.7) rotate(-57)" y="2.3">60</text>
<line x1="165.11" y1="467.4" x2="165.11" y2="469" stroke="#222" stroke-width="0.6"/>
<text class="r" font-size="7" font-style="italic" text-anchor="middle" transform="translate(166.11 474.7) rotate(-57)" y="2.3">70</text>
<line x1="173.04" y1="467.4" x2="173.04" y2="469" stroke="#222" stroke-width="0.6"/>
<text class="r" font-size="7" font-style="italic" text-anchor="middle" transform="translate(174.04 474.7) rotate(-57)" y="2.3">80</text>
<line x1="180.97" y1="467.4" x2="180.97" y2="469" stroke="#222" stroke-width="0.6"/>
<text class="r" font-size="7" font-style="italic" text-anchor="middle" transform="translate(181.97 474.7) rotate(-57)" y="2.3">90</text>
<text class="s" x="139.3" y="433.9" font-size="6.9" text-anchor="middle" font-weight="bold">1.6µM</text>
<path d="M198.3 467.4 L198.7 466.06 L199.09 464.87 L199.49 463.81 L199.89 462.88 L200.28 462.05 L200.68 461.31 L201.08 460.66 L201.47 460.07 L201.87 459.56 L202.27 459.09 L202.66 458.68 L203.06 458.32 L203.45 457.99 L203.85 457.7 L204.25 457.44 L204.64 457.2 L205.04 456.99 L205.44 456.81 L205.83 456.64 L206.23 456.48 L206.63 456.35 L207.02 456.22 L207.42 456.11 L207.82 456.01 L209.4 455.69 L210.99 455.47 L212.57 455.3 L214.16 455.18 L215.75 455.09 L217.33 455.01 L218.92 454.95 L220.5 454.9 L222.09 454.86 L223.68 454.82 L225.26 454.79 L226.85 454.76 L228.43 454.74 L230.02 454.72 L231.61 454.7 L233.19 454.68 L234.78 454.67 L236.36 454.65 L237.95 454.64 L239.54 454.63 L241.12 454.62 L242.71 454.62 L244.29 454.61 L245.88 454.6 L246.28 455.96 L246.67 457.2 L247.07 458.28 L247.47 459.23 L247.86 460.07 L248.26 460.8 L248.66 461.45 L249.05 462.01 L249.45 462.51 L249.85 462.95 L250.24 463.34 L250.64 463.68 L251.03 463.97 L251.43 464.24 L251.83 464.47 L252.22 464.67 L252.62 464.86 L253.02 465.02 L253.41 465.16 L253.81 465.28 L254.21 465.39 L254.6 465.49 L255 465.58 L255.4 465.66 L255.79 465.73 L256.19 465.79 L256.59 465.85 L256.98 465.9 L257.38 465.94 L257.77 465.98 L258.17 466.02 L258.57 466.05 L258.96 466.08 L259.36 466.11 L259.76 466.14 L260.15 466.16 L260.55 466.18 L260.95 466.2 L261.34 466.22 L261.74 466.24 L263.33 466.3 L264.91 466.35 L266.5 466.39 L268.08 466.43 L269.67 466.46" fill="none" stroke="#222222" stroke-width="0.7" stroke-linejoin="round"/>
<path d="M198.3 467.4 L198.7 465.29 L199.09 463.6 L199.49 462.27 L199.89 461.2 L200.28 460.34 L200.68 459.66 L201.08 459.11 L201.47 458.66 L201.87 458.3 L202.27 458.01 L202.66 457.77 L203.06 457.57 L203.45 457.41 L203.85 457.27 L204.25 457.16 L204.64 457.06 L205.04 456.98 L205.44 456.91 L205.83 456.85 L206.23 456.79 L206.63 456.75 L207.02 456.7 L207.42 456.67 L207.82 456.63 L209.4 456.53 L210.99 456.45 L212.57 456.4 L214.16 456.36 L215.75 456.32 L217.33 456.3 L218.92 456.28 L220.5 456.26 L222.09 456.25 L223.68 456.24 L225.26 456.23 L226.85 456.22 L228.43 456.22 L230.02 456.21 L231.61 456.21 L233.19 456.21 L234.78 456.21 L236.36 456.21 L237.95 456.2 L239.54 456.2 L241.12 456.2 L242.71 456.2 L244.29 456.2 L245.88 456.2 L246.28 457.37 L246.67 458.4 L247.07 459.32 L247.47 460.12 L247.86 460.84 L248.26 461.47 L248.66 462.02 L249.05 462.52 L249.45 462.95 L249.85 463.34 L250.24 463.68 L250.64 463.98 L251.03 464.25 L251.43 464.49 L251.83 464.7 L252.22 464.89 L252.62 465.06 L253.02 465.2 L253.41 465.34 L253.81 465.45 L254.21 465.56 L254.6 465.65 L255 465.73 L255.4 465.81 L255.79 465.88 L256.19 465.94 L256.59 465.99 L256.98 466.04 L257.38 466.08 L257.77 466.12 L258.17 466.16 L258.57 466.19 L258.96 466.22 L259.36 466.25 L259.76 466.27 L260.15 466.29 L260.55 466.32 L260.95 466.34 L261.34 466.35 L261.74 466.37 L263.33 466.43 L264.91 466.47 L266.5 466.51 L268.08 466.55 L269.67 466.58" fill="none" stroke="#1f3cff" stroke-width="0.7" stroke-linejoin="round"/>
<path d="M198.3 467.4 L198.7 462.13 L199.09 458.59 L199.49 456.2 L199.89 454.57 L200.28 453.45 L200.68 452.68 L201.08 452.13 L201.47 451.73 L201.87 451.44 L202.27 451.22 L202.66 451.05 L203.06 450.92 L203.45 450.81 L203.85 450.72 L204.25 450.65 L204.64 450.59 L205.04 450.53 L205.44 450.48 L205.83 450.44 L206.23 450.4 L206.63 450.37 L207.02 450.34 L207.42 450.32 L207.82 450.29 L209.4 450.22 L210.99 450.17 L212.57 450.14 L214.16 450.12 L215.75 450.1 L217.33 450.09 L218.92 450.09 L220.5 450.08 L222.09 450.08 L223.68 450.08 L225.26 450.08 L226.85 450.08 L228.43 450.08 L230.02 450.08 L231.61 450.08 L233.19 450.08 L234.78 450.08 L236.36 450.08 L237.95 450.08 L239.54 450.08 L241.12 450.08 L242.71 450.08 L244.29 450.08 L245.88 450.08 L246.28 451.81 L246.67 453.34 L247.07 454.71 L247.47 455.92 L247.86 457 L248.26 457.96 L248.66 458.81 L249.05 459.57 L249.45 460.25 L249.85 460.85 L250.24 461.39 L250.64 461.87 L251.03 462.29 L251.43 462.67 L251.83 463.01 L252.22 463.31 L252.62 463.58 L253.02 463.82 L253.41 464.04 L253.81 464.23 L254.21 464.4 L254.6 464.56 L255 464.7 L255.4 464.82 L255.79 464.93 L256.19 465.04 L256.59 465.13 L256.98 465.21 L257.38 465.28 L257.77 465.35 L258.17 465.41 L258.57 465.47 L258.96 465.52 L259.36 465.57 L259.76 465.61 L260.15 465.65 L260.55 465.69 L260.95 465.72 L261.34 465.75 L261.74 465.78 L263.33 465.88 L264.91 465.96 L266.5 466.02 L268.08 466.08 L269.67 466.13" fill="none" stroke="#ff84f4" stroke-width="0.7" stroke-linejoin="round"/>
<path d="M198.3 467.4 L198.7 458.56 L199.09 453.69 L199.49 450.95 L199.89 449.38 L200.28 448.44 L200.68 447.86 L201.08 447.49 L201.47 447.23 L201.87 447.04 L202.27 446.9 L202.66 446.78 L203.06 446.69 L203.45 446.62 L203.85 446.55 L204.25 446.5 L204.64 446.46 L205.04 446.42 L205.44 446.39 L205.83 446.36 L206.23 446.33 L206.63 446.31 L207.02 446.3 L207.42 446.28 L207.82 446.27 L209.4 446.23 L210.99 446.22 L212.57 446.21 L214.16 446.2 L215.75 446.2 L217.33 446.2 L218.92 446.2 L220.5 446.2 L222.09 446.19 L223.68 446.19 L225.26 446.19 L226.85 446.19 L228.43 446.19 L230.02 446.19 L231.61 446.19 L233.19 446.19 L234.78 446.19 L236.36 446.19 L237.95 446.19 L239.54 446.19 L241.12 446.19 L242.71 446.19 L244.29 446.19 L245.88 446.19 L246.28 448.22 L246.67 450.03 L247.07 451.65 L247.47 453.09 L247.86 454.39 L248.26 455.54 L248.66 456.58 L249.05 457.5 L249.45 458.33 L249.85 459.07 L250.24 459.73 L250.64 460.33 L251.03 460.86 L251.43 461.33 L251.83 461.76 L252.22 462.14 L252.62 462.49 L253.02 462.8 L253.41 463.07 L253.81 463.32 L254.21 463.55 L254.6 463.75 L255 463.93 L255.4 464.1 L255.79 464.24 L256.19 464.38 L256.59 464.5 L256.98 464.61 L257.38 464.71 L257.77 464.8 L258.17 464.88 L258.57 464.96 L258.96 465.03 L259.36 465.09 L259.76 465.15 L260.15 465.2 L260.55 465.25 L260.95 465.3 L261.34 465.34 L261.74 465.38 L263.33 465.51 L264.91 465.61 L266.5 465.7 L268.08 465.77 L269.67 465.84" fill="none" stroke="#ff2a1c" stroke-width="0.7" stroke-linejoin="round"/>
<line x1="198.3" y1="422.6" x2="198.3" y2="467.4" stroke="#222" stroke-width="0.8"/>
<line x1="197.9" y1="467.4" x2="269.67" y2="467.4" stroke="#222" stroke-width="0.8"/>
<line x1="196.7" y1="467.4" x2="198.3" y2="467.4" stroke="#222" stroke-width="0.6"/>
<line x1="196.7" y1="452.47" x2="198.3" y2="452.47" stroke="#222" stroke-width="0.6"/>
<line x1="196.7" y1="437.53" x2="198.3" y2="437.53" stroke="#222" stroke-width="0.6"/>
<line x1="196.7" y1="422.6" x2="198.3" y2="422.6" stroke="#222" stroke-width="0.6"/>
<line x1="198.3" y1="467.4" x2="198.3" y2="469" stroke="#222" stroke-width="0.6"/>
<text class="r" font-size="7" font-style="italic" text-anchor="middle" transform="translate(199.3 474.7) rotate(-57)" y="2.3">0</text>
<line x1="206.23" y1="467.4" x2="206.23" y2="469" stroke="#222" stroke-width="0.6"/>
<text class="r" font-size="7" font-style="italic" text-anchor="middle" transform="translate(207.23 474.7) rotate(-57)" y="2.3">10</text>
<line x1="214.16" y1="467.4" x2="214.16" y2="469" stroke="#222" stroke-width="0.6"/>
<text class="r" font-size="7" font-style="italic" text-anchor="middle" transform="translate(215.16 474.7) rotate(-57)" y="2.3">20</text>
<line x1="222.09" y1="467.4" x2="222.09" y2="469" stroke="#222" stroke-width="0.6"/>
<text class="r" font-size="7" font-style="italic" text-anchor="middle" transform="translate(223.09 474.7) rotate(-57)" y="2.3">30</text>
<line x1="230.02" y1="467.4" x2="230.02" y2="469" stroke="#222" stroke-width="0.6"/>
<text class="r" font-size="7" font-style="italic" text-anchor="middle" transform="translate(231.02 474.7) rotate(-57)" y="2.3">40</text>
<line x1="237.95" y1="467.4" x2="237.95" y2="469" stroke="#222" stroke-width="0.6"/>
<text class="r" font-size="7" font-style="italic" text-anchor="middle" transform="translate(238.95 474.7) rotate(-57)" y="2.3">50</text>
<line x1="245.88" y1="467.4" x2="245.88" y2="469" stroke="#222" stroke-width="0.6"/>
<text class="r" font-size="7" font-style="italic" text-anchor="middle" transform="translate(246.88 474.7) rotate(-57)" y="2.3">60</text>
<line x1="253.81" y1="467.4" x2="253.81" y2="469" stroke="#222" stroke-width="0.6"/>
<text class="r" font-size="7" font-style="italic" text-anchor="middle" transform="translate(254.81 474.7) rotate(-57)" y="2.3">70</text>
<line x1="261.74" y1="467.4" x2="261.74" y2="469" stroke="#222" stroke-width="0.6"/>
<text class="r" font-size="7" font-style="italic" text-anchor="middle" transform="translate(262.74 474.7) rotate(-57)" y="2.3">80</text>
<line x1="269.67" y1="467.4" x2="269.67" y2="469" stroke="#222" stroke-width="0.6"/>
<text class="r" font-size="7" font-style="italic" text-anchor="middle" transform="translate(270.67 474.7) rotate(-57)" y="2.3">90</text>
<text class="s" x="228.5" y="433.9" font-size="6.9" text-anchor="middle" font-weight="bold">5.8µM</text>
<path d="M285.1 467.4 L285.5 466.14 L285.89 465.02 L286.29 464.02 L286.69 463.14 L287.08 462.36 L287.48 461.66 L287.88 461.05 L288.27 460.5 L288.67 460.01 L289.06 459.58 L289.46 459.19 L289.86 458.85 L290.25 458.54 L290.65 458.26 L291.05 458.02 L291.44 457.8 L291.84 457.6 L292.24 457.42 L292.63 457.26 L293.03 457.12 L293.43 456.99 L293.82 456.87 L294.22 456.77 L294.62 456.67 L296.2 456.37 L297.79 456.16 L299.37 456.01 L300.96 455.89 L302.55 455.8 L304.13 455.73 L305.72 455.68 L307.3 455.63 L308.89 455.59 L310.48 455.55 L312.06 455.52 L313.65 455.5 L315.23 455.47 L316.82 455.45 L318.41 455.44 L319.99 455.42 L321.58 455.41 L323.16 455.39 L324.75 455.38 L326.34 455.37 L327.92 455.37 L329.51 455.36 L331.09 455.35 L332.68 455.35 L333.08 456.63 L333.47 457.79 L333.87 458.81 L334.27 459.71 L334.66 460.49 L335.06 461.19 L335.46 461.79 L335.85 462.33 L336.25 462.8 L336.65 463.21 L337.04 463.57 L337.44 463.89 L337.83 464.17 L338.23 464.42 L338.63 464.64 L339.02 464.83 L339.42 465 L339.82 465.15 L340.21 465.29 L340.61 465.41 L341.01 465.51 L341.4 465.6 L341.8 465.69 L342.2 465.76 L342.59 465.82 L342.99 465.88 L343.39 465.94 L343.78 465.98 L344.18 466.03 L344.58 466.06 L344.97 466.1 L345.37 466.13 L345.76 466.16 L346.16 466.19 L346.56 466.21 L346.95 466.23 L347.35 466.25 L347.75 466.27 L348.14 466.29 L348.54 466.3 L350.13 466.36 L351.71 466.41 L353.3 466.45 L354.88 466.48 L356.47 466.52" fill="none" stroke="#222222" stroke-width="0.7" stroke-linejoin="round"/>
<path d="M285.1 467.4 L285.5 464.36 L285.89 461.93 L286.29 460.01 L286.69 458.47 L287.08 457.24 L287.48 456.25 L287.88 455.46 L288.27 454.82 L288.67 454.3 L289.06 453.87 L289.46 453.53 L289.86 453.24 L290.25 453.01 L290.65 452.81 L291.05 452.65 L291.44 452.51 L291.84 452.39 L292.24 452.29 L292.63 452.2 L293.03 452.12 L293.43 452.06 L293.82 452 L294.22 451.94 L294.62 451.9 L296.2 451.75 L297.79 451.64 L299.37 451.56 L300.96 451.5 L302.55 451.45 L304.13 451.41 L305.72 451.38 L307.3 451.36 L308.89 451.34 L310.48 451.33 L312.06 451.31 L313.65 451.31 L315.23 451.3 L316.82 451.29 L318.41 451.29 L319.99 451.28 L321.58 451.28 L323.16 451.28 L324.75 451.28 L326.34 451.28 L327.92 451.28 L329.51 451.28 L331.09 451.27 L332.68 451.27 L333.08 452.96 L333.47 454.44 L333.87 455.76 L334.27 456.92 L334.66 457.95 L335.06 458.85 L335.46 459.66 L335.85 460.37 L336.25 461 L336.65 461.55 L337.04 462.05 L337.44 462.48 L337.83 462.87 L338.23 463.21 L338.63 463.52 L339.02 463.79 L339.42 464.03 L339.82 464.24 L340.21 464.43 L340.61 464.6 L341.01 464.75 L341.4 464.88 L341.8 465 L342.2 465.11 L342.59 465.21 L342.99 465.29 L343.39 465.37 L343.78 465.44 L344.18 465.5 L344.58 465.56 L344.97 465.61 L345.37 465.66 L345.76 465.7 L346.16 465.74 L346.56 465.78 L346.95 465.81 L347.35 465.84 L347.75 465.87 L348.14 465.89 L348.54 465.92 L350.13 466 L351.71 466.07 L353.3 466.12 L354.88 466.17 L356.47 466.22" fill="none" stroke="#1f3cff" stroke-width="0.7" stroke-linejoin="round"/>
<path d="M285.1 467.4 L285.5 461.17 L285.89 456.99 L286.29 454.17 L286.69 452.25 L287.08 450.93 L287.48 450.01 L287.88 449.36 L288.27 448.9 L288.67 448.55 L289.06 448.29 L289.46 448.09 L289.86 447.94 L290.25 447.81 L290.65 447.71 L291.05 447.62 L291.44 447.54 L291.84 447.48 L292.24 447.42 L292.63 447.37 L293.03 447.33 L293.43 447.29 L293.82 447.25 L294.22 447.22 L294.62 447.19 L296.2 447.11 L297.79 447.05 L299.37 447.01 L300.96 446.99 L302.55 446.97 L304.13 446.96 L305.72 446.95 L307.3 446.95 L308.89 446.95 L310.48 446.95 L312.06 446.94 L313.65 446.94 L315.23 446.94 L316.82 446.94 L318.41 446.94 L319.99 446.94 L321.58 446.94 L323.16 446.94 L324.75 446.94 L326.34 446.94 L327.92 446.94 L329.51 446.94 L331.09 446.94 L332.68 446.94 L333.08 448.98 L333.47 450.8 L333.87 452.41 L334.27 453.84 L334.66 455.12 L335.06 456.25 L335.46 457.26 L335.85 458.16 L336.25 458.96 L336.65 459.67 L337.04 460.3 L337.44 460.86 L337.83 461.37 L338.23 461.81 L338.63 462.21 L339.02 462.57 L339.42 462.89 L339.82 463.17 L340.21 463.43 L340.61 463.66 L341.01 463.86 L341.4 464.04 L341.8 464.21 L342.2 464.36 L342.59 464.49 L342.99 464.61 L343.39 464.72 L343.78 464.81 L344.18 464.9 L344.58 464.98 L344.97 465.05 L345.37 465.12 L345.76 465.18 L346.16 465.24 L346.56 465.29 L346.95 465.33 L347.35 465.38 L347.75 465.42 L348.14 465.45 L348.54 465.49 L350.13 465.6 L351.71 465.69 L353.3 465.77 L354.88 465.84 L356.47 465.9" fill="none" stroke="#ff84f4" stroke-width="0.7" stroke-linejoin="round"/>
<path d="M285.1 467.4 L285.5 457.01 L285.89 451.27 L286.29 448.05 L286.69 446.2 L287.08 445.11 L287.48 444.42 L287.88 443.98 L288.27 443.68 L288.67 443.45 L289.06 443.29 L289.46 443.15 L289.86 443.05 L290.25 442.96 L290.65 442.88 L291.05 442.82 L291.44 442.77 L291.84 442.72 L292.24 442.69 L292.63 442.65 L293.03 442.63 L293.43 442.6 L293.82 442.58 L294.22 442.56 L294.62 442.55 L296.2 442.51 L297.79 442.49 L299.37 442.47 L300.96 442.47 L302.55 442.47 L304.13 442.46 L305.72 442.46 L307.3 442.46 L308.89 442.46 L310.48 442.46 L312.06 442.46 L313.65 442.46 L315.23 442.46 L316.82 442.46 L318.41 442.46 L319.99 442.46 L321.58 442.46 L323.16 442.46 L324.75 442.46 L326.34 442.46 L327.92 442.46 L329.51 442.46 L331.09 442.46 L332.68 442.46 L333.08 444.84 L333.47 446.97 L333.87 448.87 L334.27 450.58 L334.66 452.1 L335.06 453.46 L335.46 454.67 L335.85 455.76 L336.25 456.73 L336.65 457.6 L337.04 458.38 L337.44 459.08 L337.83 459.71 L338.23 460.27 L338.63 460.77 L339.02 461.22 L339.42 461.62 L339.82 461.99 L340.21 462.31 L340.61 462.61 L341.01 462.87 L341.4 463.11 L341.8 463.32 L342.2 463.51 L342.59 463.69 L342.99 463.85 L343.39 463.99 L343.78 464.12 L344.18 464.24 L344.58 464.34 L344.97 464.44 L345.37 464.53 L345.76 464.61 L346.16 464.69 L346.56 464.75 L346.95 464.82 L347.35 464.87 L347.75 464.93 L348.14 464.98 L348.54 465.02 L350.13 465.18 L351.71 465.3 L353.3 465.4 L354.88 465.49 L356.47 465.56" fill="none" stroke="#ff2a1c" stroke-width="0.7" stroke-linejoin="round"/>
<line x1="285.1" y1="422.6" x2="285.1" y2="467.4" stroke="#222" stroke-width="0.8"/>
<line x1="284.7" y1="467.4" x2="356.47" y2="467.4" stroke="#222" stroke-width="0.8"/>
<line x1="283.5" y1="467.4" x2="285.1" y2="467.4" stroke="#222" stroke-width="0.6"/>
<line x1="283.5" y1="452.47" x2="285.1" y2="452.47" stroke="#222" stroke-width="0.6"/>
<line x1="283.5" y1="437.53" x2="285.1" y2="437.53" stroke="#222" stroke-width="0.6"/>
<line x1="283.5" y1="422.6" x2="285.1" y2="422.6" stroke="#222" stroke-width="0.6"/>
<line x1="285.1" y1="467.4" x2="285.1" y2="469" stroke="#222" stroke-width="0.6"/>
<text class="r" font-size="7" font-style="italic" text-anchor="middle" transform="translate(286.1 474.7) rotate(-57)" y="2.3">0</text>
<line x1="293.03" y1="467.4" x2="293.03" y2="469" stroke="#222" stroke-width="0.6"/>
<text class="r" font-size="7" font-style="italic" text-anchor="middle" transform="translate(294.03 474.7) rotate(-57)" y="2.3">10</text>
<line x1="300.96" y1="467.4" x2="300.96" y2="469" stroke="#222" stroke-width="0.6"/>
<text class="r" font-size="7" font-style="italic" text-anchor="middle" transform="translate(301.96 474.7) rotate(-57)" y="2.3">20</text>
<line x1="308.89" y1="467.4" x2="308.89" y2="469" stroke="#222" stroke-width="0.6"/>
<text class="r" font-size="7" font-style="italic" text-anchor="middle" transform="translate(309.89 474.7) rotate(-57)" y="2.3">30</text>
<line x1="316.82" y1="467.4" x2="316.82" y2="469" stroke="#222" stroke-width="0.6"/>
<text class="r" font-size="7" font-style="italic" text-anchor="middle" transform="translate(317.82 474.7) rotate(-57)" y="2.3">40</text>
<line x1="324.75" y1="467.4" x2="324.75" y2="469" stroke="#222" stroke-width="0.6"/>
<text class="r" font-size="7" font-style="italic" text-anchor="middle" transform="translate(325.75 474.7) rotate(-57)" y="2.3">50</text>
<line x1="332.68" y1="467.4" x2="332.68" y2="469" stroke="#222" stroke-width="0.6"/>
<text class="r" font-size="7" font-style="italic" text-anchor="middle" transform="translate(333.68 474.7) rotate(-57)" y="2.3">60</text>
<line x1="340.61" y1="467.4" x2="340.61" y2="469" stroke="#222" stroke-width="0.6"/>
<text class="r" font-size="7" font-style="italic" text-anchor="middle" transform="translate(341.61 474.7) rotate(-57)" y="2.3">70</text>
<line x1="348.54" y1="467.4" x2="348.54" y2="469" stroke="#222" stroke-width="0.6"/>
<text class="r" font-size="7" font-style="italic" text-anchor="middle" transform="translate(349.54 474.7) rotate(-57)" y="2.3">80</text>
<line x1="356.47" y1="467.4" x2="356.47" y2="469" stroke="#222" stroke-width="0.6"/>
<text class="r" font-size="7" font-style="italic" text-anchor="middle" transform="translate(357.47 474.7) rotate(-57)" y="2.3">90</text>
<text class="s" x="315.2" y="433.9" font-size="6.9" text-anchor="middle" font-weight="bold">3.0µM</text>
<path d="M373 467.4 L373.4 466.43 L373.79 465.58 L374.19 464.81 L374.59 464.14 L374.98 463.54 L375.38 463.01 L375.78 462.54 L376.17 462.12 L376.57 461.74 L376.96 461.41 L377.36 461.12 L377.76 460.85 L378.15 460.62 L378.55 460.41 L378.95 460.22 L379.34 460.05 L379.74 459.9 L380.14 459.76 L380.53 459.64 L380.93 459.53 L381.33 459.43 L381.72 459.34 L382.12 459.26 L382.52 459.19 L384.1 458.96 L385.69 458.8 L387.27 458.68 L388.86 458.59 L390.45 458.52 L392.03 458.47 L393.62 458.43 L395.2 458.39 L396.79 458.36 L398.38 458.33 L399.96 458.31 L401.55 458.29 L403.13 458.27 L404.72 458.26 L406.31 458.24 L407.89 458.23 L409.48 458.22 L411.06 458.21 L412.65 458.2 L414.24 458.2 L415.82 458.19 L417.41 458.18 L418.99 458.18 L420.58 458.17 L420.98 459.16 L421.37 460.04 L421.77 460.83 L422.17 461.51 L422.56 462.11 L422.96 462.64 L423.36 463.11 L423.75 463.52 L424.15 463.88 L424.55 464.19 L424.94 464.47 L425.34 464.71 L425.73 464.93 L426.13 465.12 L426.53 465.29 L426.92 465.44 L427.32 465.57 L427.72 465.68 L428.11 465.78 L428.51 465.87 L428.91 465.95 L429.3 466.02 L429.7 466.09 L430.1 466.14 L430.49 466.19 L430.89 466.24 L431.29 466.28 L431.68 466.32 L432.08 466.35 L432.48 466.38 L432.87 466.4 L433.27 466.43 L433.66 466.45 L434.06 466.47 L434.46 466.49 L434.85 466.51 L435.25 466.52 L435.65 466.54 L436.04 466.55 L436.44 466.56 L438.03 466.61 L439.61 466.64 L441.2 466.67 L442.78 466.7 L444.37 466.72" fill="none" stroke="#222222" stroke-width="0.7" stroke-linejoin="round"/>
<path d="M373 467.4 L373.4 464.69 L373.79 462.54 L374.19 460.83 L374.59 459.46 L374.98 458.37 L375.38 457.49 L375.78 456.78 L376.17 456.21 L376.57 455.75 L376.96 455.38 L377.36 455.07 L377.76 454.82 L378.15 454.61 L378.55 454.43 L378.95 454.29 L379.34 454.16 L379.74 454.06 L380.14 453.97 L380.53 453.89 L380.93 453.82 L381.33 453.76 L381.72 453.71 L382.12 453.66 L382.52 453.62 L384.1 453.49 L385.69 453.39 L387.27 453.32 L388.86 453.26 L390.45 453.22 L392.03 453.19 L393.62 453.16 L395.2 453.14 L396.79 453.12 L398.38 453.11 L399.96 453.1 L401.55 453.09 L403.13 453.09 L404.72 453.08 L406.31 453.08 L407.89 453.08 L409.48 453.07 L411.06 453.07 L412.65 453.07 L414.24 453.07 L415.82 453.07 L417.41 453.07 L418.99 453.07 L420.58 453.07 L420.98 454.56 L421.37 455.88 L421.77 457.05 L422.17 458.08 L422.56 459 L422.96 459.8 L423.36 460.52 L423.75 461.15 L424.15 461.71 L424.55 462.2 L424.94 462.64 L425.34 463.03 L425.73 463.37 L426.13 463.68 L426.53 463.95 L426.92 464.19 L427.32 464.4 L427.72 464.59 L428.11 464.76 L428.51 464.91 L428.91 465.04 L429.3 465.16 L429.7 465.27 L430.1 465.36 L430.49 465.45 L430.89 465.53 L431.29 465.59 L431.68 465.66 L432.08 465.71 L432.48 465.76 L432.87 465.81 L433.27 465.85 L433.66 465.89 L434.06 465.92 L434.46 465.96 L434.85 465.99 L435.25 466.01 L435.65 466.04 L436.04 466.06 L436.44 466.08 L438.03 466.16 L439.61 466.22 L441.2 466.27 L442.78 466.31 L444.37 466.35" fill="none" stroke="#1f3cff" stroke-width="0.7" stroke-linejoin="round"/>
<path d="M373 467.4 L373.4 461.4 L373.79 457.37 L374.19 454.65 L374.59 452.8 L374.98 451.53 L375.38 450.65 L375.78 450.02 L376.17 449.57 L376.57 449.24 L376.96 448.99 L377.36 448.8 L377.76 448.65 L378.15 448.53 L378.55 448.42 L378.95 448.34 L379.34 448.27 L379.74 448.21 L380.14 448.15 L380.53 448.1 L380.93 448.06 L381.33 448.02 L381.72 447.99 L382.12 447.96 L382.52 447.93 L384.1 447.85 L385.69 447.79 L387.27 447.76 L388.86 447.73 L390.45 447.72 L392.03 447.71 L393.62 447.7 L395.2 447.7 L396.79 447.69 L398.38 447.69 L399.96 447.69 L401.55 447.69 L403.13 447.69 L404.72 447.69 L406.31 447.69 L407.89 447.69 L409.48 447.69 L411.06 447.69 L412.65 447.69 L414.24 447.69 L415.82 447.69 L417.41 447.69 L418.99 447.69 L420.58 447.69 L420.98 449.65 L421.37 451.4 L421.77 452.96 L422.17 454.34 L422.56 455.57 L422.96 456.66 L423.36 457.63 L423.75 458.49 L424.15 459.26 L424.55 459.95 L424.94 460.56 L425.34 461.1 L425.73 461.59 L426.13 462.02 L426.53 462.4 L426.92 462.75 L427.32 463.05 L427.72 463.33 L428.11 463.57 L428.51 463.79 L428.91 463.99 L429.3 464.17 L429.7 464.32 L430.1 464.47 L430.49 464.59 L430.89 464.71 L431.29 464.81 L431.68 464.91 L432.08 464.99 L432.48 465.07 L432.87 465.14 L433.27 465.2 L433.66 465.26 L434.06 465.32 L434.46 465.36 L434.85 465.41 L435.25 465.45 L435.65 465.49 L436.04 465.52 L436.44 465.56 L438.03 465.67 L439.61 465.76 L441.2 465.83 L442.78 465.89 L444.37 465.95" fill="none" stroke="#ff84f4" stroke-width="0.7" stroke-linejoin="round"/>
<path d="M373 467.4 L373.4 457.07 L373.79 451.37 L374.19 448.17 L374.59 446.33 L374.98 445.24 L375.38 444.56 L375.78 444.12 L376.17 443.82 L376.57 443.6 L376.96 443.43 L377.36 443.3 L377.76 443.19 L378.15 443.1 L378.55 443.03 L378.95 442.97 L379.34 442.92 L379.74 442.87 L380.14 442.83 L380.53 442.8 L380.93 442.77 L381.33 442.75 L381.72 442.73 L382.12 442.71 L382.52 442.7 L384.1 442.66 L385.69 442.64 L387.27 442.62 L388.86 442.62 L390.45 442.61 L392.03 442.61 L393.62 442.61 L395.2 442.61 L396.79 442.61 L398.38 442.61 L399.96 442.61 L401.55 442.61 L403.13 442.61 L404.72 442.61 L406.31 442.61 L407.89 442.61 L409.48 442.61 L411.06 442.61 L412.65 442.61 L414.24 442.61 L415.82 442.61 L417.41 442.61 L418.99 442.61 L420.58 442.61 L420.98 444.98 L421.37 447.09 L421.77 448.99 L422.17 450.68 L422.56 452.19 L422.96 453.54 L423.36 454.75 L423.75 455.83 L424.15 456.8 L424.55 457.66 L424.94 458.44 L425.34 459.13 L425.73 459.75 L426.13 460.31 L426.53 460.81 L426.92 461.26 L427.32 461.66 L427.72 462.02 L428.11 462.34 L428.51 462.63 L428.91 462.9 L429.3 463.13 L429.7 463.35 L430.1 463.54 L430.49 463.71 L430.89 463.87 L431.29 464.01 L431.68 464.14 L432.08 464.26 L432.48 464.36 L432.87 464.46 L433.27 464.55 L433.66 464.63 L434.06 464.7 L434.46 464.77 L434.85 464.83 L435.25 464.89 L435.65 464.94 L436.04 464.99 L436.44 465.04 L438.03 465.19 L439.61 465.31 L441.2 465.41 L442.78 465.5 L444.37 465.57" fill="none" stroke="#ff2a1c" stroke-width="0.7" stroke-linejoin="round"/>
<line x1="373" y1="422.6" x2="373" y2="467.4" stroke="#222" stroke-width="0.8"/>
<line x1="372.6" y1="467.4" x2="444.37" y2="467.4" stroke="#222" stroke-width="0.8"/>
<line x1="371.4" y1="467.4" x2="373" y2="467.4" stroke="#222" stroke-width="0.6"/>
<line x1="371.4" y1="452.47" x2="373" y2="452.47" stroke="#222" stroke-width="0.6"/>
<line x1="371.4" y1="437.53" x2="373" y2="437.53" stroke="#222" stroke-width="0.6"/>
<line x1="371.4" y1="422.6" x2="373" y2="422.6" stroke="#222" stroke-width="0.6"/>
<line x1="373" y1="467.4" x2="373" y2="469" stroke="#222" stroke-width="0.6"/>
<text class="r" font-size="7" font-style="italic" text-anchor="middle" transform="translate(374 474.7) rotate(-57)" y="2.3">0</text>
<line x1="380.93" y1="467.4" x2="380.93" y2="469" stroke="#222" stroke-width="0.6"/>
<text class="r" font-size="7" font-style="italic" text-anchor="middle" transform="translate(381.93 474.7) rotate(-57)" y="2.3">10</text>
<line x1="388.86" y1="467.4" x2="388.86" y2="469" stroke="#222" stroke-width="0.6"/>
<text class="r" font-size="7" font-style="italic" text-anchor="middle" transform="translate(389.86 474.7) rotate(-57)" y="2.3">20</text>
<line x1="396.79" y1="467.4" x2="396.79" y2="469" stroke="#222" stroke-width="0.6"/>
<text class="r" font-size="7" font-style="italic" text-anchor="middle" transform="translate(397.79 474.7) rotate(-57)" y="2.3">30</text>
<line x1="404.72" y1="467.4" x2="404.72" y2="469" stroke="#222" stroke-width="0.6"/>
<text class="r" font-size="7" font-style="italic" text-anchor="middle" transform="translate(405.72 474.7) rotate(-57)" y="2.3">40</text>
<line x1="412.65" y1="467.4" x2="412.65" y2="469" stroke="#222" stroke-width="0.6"/>
<text class="r" font-size="7" font-style="italic" text-anchor="middle" transform="translate(413.65 474.7) rotate(-57)" y="2.3">50</text>
<line x1="420.58" y1="467.4" x2="420.58" y2="469" stroke="#222" stroke-width="0.6"/>
<text class="r" font-size="7" font-style="italic" text-anchor="middle" transform="translate(421.58 474.7) rotate(-57)" y="2.3">60</text>
<line x1="428.51" y1="467.4" x2="428.51" y2="469" stroke="#222" stroke-width="0.6"/>
<text class="r" font-size="7" font-style="italic" text-anchor="middle" transform="translate(429.51 474.7) rotate(-57)" y="2.3">70</text>
<line x1="436.44" y1="467.4" x2="436.44" y2="469" stroke="#222" stroke-width="0.6"/>
<text class="r" font-size="7" font-style="italic" text-anchor="middle" transform="translate(437.44 474.7) rotate(-57)" y="2.3">80</text>
<line x1="444.37" y1="467.4" x2="444.37" y2="469" stroke="#222" stroke-width="0.6"/>
<text class="r" font-size="7" font-style="italic" text-anchor="middle" transform="translate(445.37 474.7) rotate(-57)" y="2.3">90</text>
<text class="s" x="400.7" y="433.9" font-size="6.9" text-anchor="middle" font-weight="bold">4.4µM</text>
<path d="M458.4 467.4 L458.8 466.85 L459.19 466.37 L459.59 465.94 L459.99 465.56 L460.38 465.22 L460.78 464.92 L461.18 464.66 L461.57 464.42 L461.97 464.21 L462.36 464.02 L462.76 463.85 L463.16 463.7 L463.55 463.57 L463.95 463.45 L464.35 463.35 L464.74 463.25 L465.14 463.16 L465.54 463.09 L465.93 463.02 L466.33 462.96 L466.73 462.9 L467.12 462.85 L467.52 462.81 L467.92 462.76 L469.5 462.63 L471.09 462.54 L472.67 462.48 L474.26 462.43 L475.85 462.39 L477.43 462.36 L479.02 462.33 L480.6 462.31 L482.19 462.3 L483.78 462.28 L485.36 462.27 L486.95 462.26 L488.53 462.25 L490.12 462.24 L491.71 462.23 L493.29 462.22 L494.88 462.22 L496.46 462.21 L498.05 462.21 L499.64 462.2 L501.22 462.2 L502.81 462.2 L504.39 462.19 L505.98 462.19 L506.38 462.75 L506.77 463.25 L507.17 463.69 L507.57 464.08 L507.96 464.42 L508.36 464.71 L508.76 464.98 L509.15 465.21 L509.55 465.41 L509.94 465.59 L510.34 465.75 L510.74 465.88 L511.13 466.01 L511.53 466.11 L511.93 466.21 L512.32 466.29 L512.72 466.36 L513.12 466.43 L513.51 466.49 L513.91 466.54 L514.31 466.58 L514.7 466.62 L515.1 466.66 L515.5 466.69 L515.89 466.72 L516.29 466.74 L516.69 466.77 L517.08 466.79 L517.48 466.81 L517.88 466.82 L518.27 466.84 L518.67 466.85 L519.06 466.86 L519.46 466.88 L519.86 466.89 L520.25 466.9 L520.65 466.9 L521.05 466.91 L521.44 466.92 L521.84 466.93 L523.43 466.95 L525.01 466.97 L526.6 466.99 L528.18 467 L529.77 467.02" fill="none" stroke="#222222" stroke-width="0.7" stroke-linejoin="round"/>
<path d="M458.4 467.4 L458.8 466.02 L459.19 464.92 L459.59 464.05 L459.99 463.35 L460.38 462.79 L460.78 462.34 L461.18 461.98 L461.57 461.69 L461.97 461.45 L462.36 461.26 L462.76 461.11 L463.16 460.98 L463.55 460.87 L463.95 460.78 L464.35 460.71 L464.74 460.64 L465.14 460.59 L465.54 460.54 L465.93 460.5 L466.33 460.47 L466.73 460.44 L467.12 460.41 L467.52 460.39 L467.92 460.37 L469.5 460.3 L471.09 460.25 L472.67 460.21 L474.26 460.18 L475.85 460.16 L477.43 460.15 L479.02 460.13 L480.6 460.12 L482.19 460.11 L483.78 460.11 L485.36 460.1 L486.95 460.1 L488.53 460.09 L490.12 460.09 L491.71 460.09 L493.29 460.09 L494.88 460.09 L496.46 460.09 L498.05 460.09 L499.64 460.08 L501.22 460.08 L502.81 460.08 L504.39 460.08 L505.98 460.08 L506.38 460.85 L506.77 461.52 L507.17 462.12 L507.57 462.65 L507.96 463.11 L508.36 463.52 L508.76 463.89 L509.15 464.21 L509.55 464.49 L509.94 464.75 L510.34 464.97 L510.74 465.17 L511.13 465.34 L511.53 465.5 L511.93 465.64 L512.32 465.76 L512.72 465.87 L513.12 465.97 L513.51 466.05 L513.91 466.13 L514.31 466.2 L514.7 466.26 L515.1 466.31 L515.5 466.36 L515.89 466.4 L516.29 466.44 L516.69 466.48 L517.08 466.51 L517.48 466.54 L517.88 466.56 L518.27 466.59 L518.67 466.61 L519.06 466.63 L519.46 466.65 L519.86 466.66 L520.25 466.68 L520.65 466.69 L521.05 466.7 L521.44 466.72 L521.84 466.73 L523.43 466.77 L525.01 466.8 L526.6 466.82 L528.18 466.84 L529.77 466.86" fill="none" stroke="#1f3cff" stroke-width="0.7" stroke-linejoin="round"/>
<path d="M458.4 467.4 L458.8 463.49 L459.19 460.87 L459.59 459.09 L459.99 457.89 L460.38 457.06 L460.78 456.48 L461.18 456.08 L461.57 455.78 L461.97 455.57 L462.36 455.41 L462.76 455.28 L463.16 455.18 L463.55 455.1 L463.95 455.04 L464.35 454.98 L464.74 454.94 L465.14 454.89 L465.54 454.86 L465.93 454.83 L466.33 454.8 L466.73 454.78 L467.12 454.75 L467.52 454.73 L467.92 454.72 L469.5 454.66 L471.09 454.63 L472.67 454.6 L474.26 454.59 L475.85 454.58 L477.43 454.57 L479.02 454.57 L480.6 454.56 L482.19 454.56 L483.78 454.56 L485.36 454.56 L486.95 454.56 L488.53 454.56 L490.12 454.56 L491.71 454.56 L493.29 454.56 L494.88 454.56 L496.46 454.56 L498.05 454.56 L499.64 454.56 L501.22 454.56 L502.81 454.56 L504.39 454.56 L505.98 454.56 L506.38 455.84 L506.77 456.98 L507.17 457.99 L507.57 458.89 L507.96 459.69 L508.36 460.4 L508.76 461.03 L509.15 461.6 L509.55 462.1 L509.94 462.55 L510.34 462.94 L510.74 463.3 L511.13 463.61 L511.53 463.89 L511.93 464.14 L512.32 464.37 L512.72 464.57 L513.12 464.75 L513.51 464.91 L513.91 465.05 L514.31 465.18 L514.7 465.29 L515.1 465.4 L515.5 465.49 L515.89 465.57 L516.29 465.65 L516.69 465.72 L517.08 465.78 L517.48 465.83 L517.88 465.88 L518.27 465.93 L518.67 465.97 L519.06 466.01 L519.46 466.04 L519.86 466.07 L520.25 466.1 L520.65 466.13 L521.05 466.15 L521.44 466.18 L521.84 466.2 L523.43 466.27 L525.01 466.33 L526.6 466.38 L528.18 466.42 L529.77 466.46" fill="none" stroke="#ff84f4" stroke-width="0.7" stroke-linejoin="round"/>
<path d="M458.4 467.4 L458.8 459.81 L459.19 455.62 L459.59 453.27 L459.99 451.92 L460.38 451.11 L460.78 450.62 L461.18 450.29 L461.57 450.07 L461.97 449.91 L462.36 449.78 L462.76 449.69 L463.16 449.61 L463.55 449.54 L463.95 449.49 L464.35 449.44 L464.74 449.41 L465.14 449.37 L465.54 449.35 L465.93 449.32 L466.33 449.3 L466.73 449.28 L467.12 449.27 L467.52 449.26 L467.92 449.25 L469.5 449.22 L471.09 449.2 L472.67 449.19 L474.26 449.19 L475.85 449.18 L477.43 449.18 L479.02 449.18 L480.6 449.18 L482.19 449.18 L483.78 449.18 L485.36 449.18 L486.95 449.18 L488.53 449.18 L490.12 449.18 L491.71 449.18 L493.29 449.18 L494.88 449.18 L496.46 449.18 L498.05 449.18 L499.64 449.18 L501.22 449.18 L502.81 449.18 L504.39 449.18 L505.98 449.18 L506.38 450.92 L506.77 452.48 L507.17 453.87 L507.57 455.11 L507.96 456.22 L508.36 457.21 L508.76 458.1 L509.15 458.9 L509.55 459.61 L509.94 460.24 L510.34 460.81 L510.74 461.32 L511.13 461.78 L511.53 462.19 L511.93 462.56 L512.32 462.88 L512.72 463.18 L513.12 463.44 L513.51 463.68 L513.91 463.9 L514.31 464.09 L514.7 464.26 L515.1 464.42 L515.5 464.56 L515.89 464.69 L516.29 464.8 L516.69 464.91 L517.08 465 L517.48 465.09 L517.88 465.17 L518.27 465.24 L518.67 465.3 L519.06 465.36 L519.46 465.42 L519.86 465.47 L520.25 465.51 L520.65 465.55 L521.05 465.59 L521.44 465.63 L521.84 465.66 L523.43 465.78 L525.01 465.87 L526.6 465.94 L528.18 466 L529.77 466.06" fill="none" stroke="#ff2a1c" stroke-width="0.7" stroke-linejoin="round"/>
<line x1="458.4" y1="422.6" x2="458.4" y2="467.4" stroke="#222" stroke-width="0.8"/>
<line x1="458" y1="467.4" x2="529.77" y2="467.4" stroke="#222" stroke-width="0.8"/>
<line x1="456.8" y1="467.4" x2="458.4" y2="467.4" stroke="#222" stroke-width="0.6"/>
<line x1="456.8" y1="452.47" x2="458.4" y2="452.47" stroke="#222" stroke-width="0.6"/>
<line x1="456.8" y1="437.53" x2="458.4" y2="437.53" stroke="#222" stroke-width="0.6"/>
<line x1="456.8" y1="422.6" x2="458.4" y2="422.6" stroke="#222" stroke-width="0.6"/>
<line x1="458.4" y1="467.4" x2="458.4" y2="469" stroke="#222" stroke-width="0.6"/>
<text class="r" font-size="7" font-style="italic" text-anchor="middle" transform="translate(459.4 474.7) rotate(-57)" y="2.3">0</text>
<line x1="466.33" y1="467.4" x2="466.33" y2="469" stroke="#222" stroke-width="0.6"/>
<text class="r" font-size="7" font-style="italic" text-anchor="middle" transform="translate(467.33 474.7) rotate(-57)" y="2.3">10</text>
<line x1="474.26" y1="467.4" x2="474.26" y2="469" stroke="#222" stroke-width="0.6"/>
<text class="r" font-size="7" font-style="italic" text-anchor="middle" transform="translate(475.26 474.7) rotate(-57)" y="2.3">20</text>
<line x1="482.19" y1="467.4" x2="482.19" y2="469" stroke="#222" stroke-width="0.6"/>
<text class="r" font-size="7" font-style="italic" text-anchor="middle" transform="translate(483.19 474.7) rotate(-57)" y="2.3">30</text>
<line x1="490.12" y1="467.4" x2="490.12" y2="469" stroke="#222" stroke-width="0.6"/>
<text class="r" font-size="7" font-style="italic" text-anchor="middle" transform="translate(491.12 474.7) rotate(-57)" y="2.3">40</text>
<line x1="498.05" y1="467.4" x2="498.05" y2="469" stroke="#222" stroke-width="0.6"/>
<text class="r" font-size="7" font-style="italic" text-anchor="middle" transform="translate(499.05 474.7) rotate(-57)" y="2.3">50</text>
<line x1="505.98" y1="467.4" x2="505.98" y2="469" stroke="#222" stroke-width="0.6"/>
<text class="r" font-size="7" font-style="italic" text-anchor="middle" transform="translate(506.98 474.7) rotate(-57)" y="2.3">60</text>
<line x1="513.91" y1="467.4" x2="513.91" y2="469" stroke="#222" stroke-width="0.6"/>
<text class="r" font-size="7" font-style="italic" text-anchor="middle" transform="translate(514.91 474.7) rotate(-57)" y="2.3">70</text>
<line x1="521.84" y1="467.4" x2="521.84" y2="469" stroke="#222" stroke-width="0.6"/>
<text class="r" font-size="7" font-style="italic" text-anchor="middle" transform="translate(522.84 474.7) rotate(-57)" y="2.3">80</text>
<line x1="529.77" y1="467.4" x2="529.77" y2="469" stroke="#222" stroke-width="0.6"/>
<text class="r" font-size="7" font-style="italic" text-anchor="middle" transform="translate(530.77 474.7) rotate(-57)" y="2.3">90</text>
<text class="s" x="488.6" y="433.9" font-size="6.9" text-anchor="middle" font-weight="bold">10.1µM</text>
<path d="M544.9 467.4 L545.3 467.14 L545.69 467.02 L546.09 466.97 L546.49 466.94 L546.88 466.93 L547.28 466.92 L547.68 466.92 L548.07 466.91 L548.47 466.91 L548.87 466.91 L549.26 466.91 L549.66 466.91 L550.05 466.91 L550.45 466.92 L550.85 466.92 L551.24 466.92 L551.64 466.92 L552.04 466.92 L552.43 466.92 L552.83 466.92 L553.23 466.93 L553.62 466.93 L554.02 466.93 L554.42 466.93 L556 466.94 L557.59 466.95 L559.17 466.95 L560.76 466.96 L562.35 466.97 L563.93 466.98 L565.52 466.99 L567.1 466.99 L568.69 467 L570.28 467.01 L571.86 467.02 L573.45 467.02 L575.03 467.03 L576.62 467.04 L578.21 467.05 L579.79 467.05 L581.38 467.06 L582.96 467.07 L584.55 467.08 L586.14 467.09 L587.72 467.09 L589.31 467.1 L590.89 467.11 L592.48 467.12" fill="none" stroke="#222222" stroke-width="0.7" stroke-linejoin="round"/>
<path d="M544.9 467.4 L545.3 466.79 L545.69 466.52 L546.09 466.39 L546.49 466.33 L546.88 466.3 L547.28 466.28 L547.68 466.27 L548.07 466.27 L548.47 466.27 L548.87 466.26 L549.26 466.27 L549.66 466.27 L550.05 466.27 L550.45 466.27 L550.85 466.27 L551.24 466.28 L551.64 466.28 L552.04 466.28 L552.43 466.29 L552.83 466.29 L553.23 466.29 L553.62 466.3 L554.02 466.3 L554.42 466.31 L556 466.32 L557.59 466.34 L559.17 466.36 L560.76 466.38 L562.35 466.4 L563.93 466.41 L565.52 466.43 L567.1 466.45 L568.69 466.47 L570.28 466.49 L571.86 466.5 L573.45 466.52 L575.03 466.54 L576.62 466.56 L578.21 466.58 L579.79 466.59 L581.38 466.61 L582.96 466.63 L584.55 466.65 L586.14 466.67 L587.72 466.68 L589.31 466.7 L590.89 466.72 L592.48 466.74" fill="none" stroke="#1f3cff" stroke-width="0.7" stroke-linejoin="round"/>
<path d="M544.9 467.4 L545.3 466.36 L545.69 465.89 L546.09 465.67 L546.49 465.56 L546.88 465.51 L547.28 465.48 L547.68 465.47 L548.07 465.46 L548.47 465.46 L548.87 465.45 L549.26 465.45 L549.66 465.46 L550.05 465.46 L550.45 465.46 L550.85 465.47 L551.24 465.47 L551.64 465.48 L552.04 465.49 L552.43 465.49 L552.83 465.5 L553.23 465.51 L553.62 465.51 L554.02 465.52 L554.42 465.53 L556 465.56 L557.59 465.59 L559.17 465.62 L560.76 465.65 L562.35 465.68 L563.93 465.71 L565.52 465.74 L567.1 465.77 L568.69 465.8 L570.28 465.83 L571.86 465.86 L573.45 465.9 L575.03 465.93 L576.62 465.96 L578.21 465.99 L579.79 466.02 L581.38 466.05 L582.96 466.08 L584.55 466.11 L586.14 466.14 L587.72 466.17 L589.31 466.2 L590.89 466.24 L592.48 466.27" fill="none" stroke="#ff84f4" stroke-width="0.7" stroke-linejoin="round"/>
<path d="M544.9 467.4 L545.3 465.48 L545.69 464.62 L546.09 464.22 L546.49 464.03 L546.88 463.94 L547.28 463.89 L547.68 463.86 L548.07 463.84 L548.47 463.84 L548.87 463.83 L549.26 463.83 L549.66 463.84 L550.05 463.84 L550.45 463.85 L550.85 463.86 L551.24 463.87 L551.64 463.88 L552.04 463.89 L552.43 463.9 L552.83 463.91 L553.23 463.93 L553.62 463.94 L554.02 463.95 L554.42 463.97 L556 464.02 L557.59 464.08 L559.17 464.13 L560.76 464.19 L562.35 464.25 L563.93 464.3 L565.52 464.36 L567.1 464.42 L568.69 464.47 L570.28 464.53 L571.86 464.59 L573.45 464.64 L575.03 464.7 L576.62 464.76 L578.21 464.81 L579.79 464.87 L581.38 464.93 L582.96 464.98 L584.55 465.04 L586.14 465.1 L587.72 465.15 L589.31 465.21 L590.89 465.27 L592.48 465.32" fill="none" stroke="#ff2a1c" stroke-width="0.7" stroke-linejoin="round"/>
<line x1="544.9" y1="422.6" x2="544.9" y2="467.4" stroke="#222" stroke-width="0.8"/>
<line x1="544.5" y1="467.4" x2="616.27" y2="467.4" stroke="#222" stroke-width="0.8"/>
<line x1="543.3" y1="467.4" x2="544.9" y2="467.4" stroke="#222" stroke-width="0.6"/>
<line x1="543.3" y1="452.47" x2="544.9" y2="452.47" stroke="#222" stroke-width="0.6"/>
<line x1="543.3" y1="437.53" x2="544.9" y2="437.53" stroke="#222" stroke-width="0.6"/>
<line x1="543.3" y1="422.6" x2="544.9" y2="422.6" stroke="#222" stroke-width="0.6"/>
<line x1="544.9" y1="467.4" x2="544.9" y2="469" stroke="#222" stroke-width="0.6"/>
<text class="r" font-size="7" font-style="italic" text-anchor="middle" transform="translate(545.9 474.7) rotate(-57)" y="2.3">0</text>
<line x1="552.83" y1="467.4" x2="552.83" y2="469" stroke="#222" stroke-width="0.6"/>
<text class="r" font-size="7" font-style="italic" text-anchor="middle" transform="translate(553.83 474.7) rotate(-57)" y="2.3">10</text>
<line x1="560.76" y1="467.4" x2="560.76" y2="469" stroke="#222" stroke-width="0.6"/>
<text class="r" font-size="7" font-style="italic" text-anchor="middle" transform="translate(561.76 474.7) rotate(-57)" y="2.3">20</text>
<line x1="568.69" y1="467.4" x2="568.69" y2="469" stroke="#222" stroke-width="0.6"/>
<text class="r" font-size="7" font-style="italic" text-anchor="middle" transform="translate(569.69 474.7) rotate(-57)" y="2.3">30</text>
<line x1="576.62" y1="467.4" x2="576.62" y2="469" stroke="#222" stroke-width="0.6"/>
<text class="r" font-size="7" font-style="italic" text-anchor="middle" transform="translate(577.62 474.7) rotate(-57)" y="2.3">40</text>
<line x1="584.55" y1="467.4" x2="584.55" y2="469" stroke="#222" stroke-width="0.6"/>
<text class="r" font-size="7" font-style="italic" text-anchor="middle" transform="translate(585.55 474.7) rotate(-57)" y="2.3">50</text>
<line x1="592.48" y1="467.4" x2="592.48" y2="469" stroke="#222" stroke-width="0.6"/>
<text class="r" font-size="7" font-style="italic" text-anchor="middle" transform="translate(593.48 474.7) rotate(-57)" y="2.3">60</text>
<line x1="600.41" y1="467.4" x2="600.41" y2="469" stroke="#222" stroke-width="0.6"/>
<text class="r" font-size="7" font-style="italic" text-anchor="middle" transform="translate(601.41 474.7) rotate(-57)" y="2.3">70</text>
<line x1="608.34" y1="467.4" x2="608.34" y2="469" stroke="#222" stroke-width="0.6"/>
<text class="r" font-size="7" font-style="italic" text-anchor="middle" transform="translate(609.34 474.7) rotate(-57)" y="2.3">80</text>
<line x1="616.27" y1="467.4" x2="616.27" y2="469" stroke="#222" stroke-width="0.6"/>
<text class="r" font-size="7" font-style="italic" text-anchor="middle" transform="translate(617.27 474.7) rotate(-57)" y="2.3">90</text>
<text class="s" x="575.6" y="433.9" font-size="6.9" text-anchor="middle" font-weight="bold">&gt;100µM</text>
<line x1="625" y1="428.7" x2="633.6" y2="428.7" stroke="#ff2a1c" stroke-width="0.9"/>
<text class="s" x="654.2" y="431.1" font-size="6.8" text-anchor="end">10 µM</text>
<line x1="625" y1="439.6" x2="633.6" y2="439.6" stroke="#ff84f4" stroke-width="0.9"/>
<text class="s" x="654.2" y="442" font-size="6.8" text-anchor="end">5 µM</text>
<line x1="625" y1="450.2" x2="633.6" y2="450.2" stroke="#1f3cff" stroke-width="0.9"/>
<text class="s" x="654.2" y="452.6" font-size="6.8" text-anchor="end">2 µM</text>
<line x1="625" y1="460" x2="633.6" y2="460" stroke="#222222" stroke-width="0.9"/>
<text class="s" x="654.2" y="462.4" font-size="6.8" text-anchor="end">1 µM</text>
<text class="s" font-size="6.8" text-anchor="middle" transform="translate(92.2 511.1) rotate(-90)">Binding (nm)</text>
<path d="M109.6 534.6 L110 533.83 L110.39 533.15 L110.79 532.54 L111.19 532.01 L111.58 531.53 L111.98 531.11 L112.38 530.73 L112.77 530.4 L113.17 530.1 L113.56 529.84 L113.96 529.6 L114.36 529.39 L114.75 529.21 L115.15 529.04 L115.55 528.89 L115.94 528.76 L116.34 528.64 L116.74 528.53 L117.13 528.43 L117.53 528.34 L117.93 528.27 L118.32 528.2 L118.72 528.13 L119.12 528.07 L120.7 527.89 L122.29 527.76 L123.87 527.67 L125.46 527.6 L127.05 527.54 L128.63 527.5 L130.22 527.47 L131.8 527.44 L133.39 527.41 L134.98 527.39 L136.56 527.37 L138.15 527.36 L139.73 527.34 L141.32 527.33 L142.91 527.32 L144.49 527.31 L146.08 527.3 L147.66 527.3 L149.25 527.29 L150.84 527.28 L152.42 527.28 L154.01 527.27 L155.59 527.27 L157.18 527.27 L157.58 527.85 L157.97 528.4 L158.37 528.91 L158.77 529.37 L159.16 529.8 L159.56 530.18 L159.96 530.54 L160.35 530.87 L160.75 531.16 L161.14 531.44 L161.54 531.69 L161.94 531.91 L162.33 532.12 L162.73 532.31 L163.13 532.49 L163.52 532.65 L163.92 532.8 L164.32 532.93 L164.71 533.05 L165.11 533.17 L165.51 533.27 L165.9 533.36 L166.3 533.45 L166.7 533.53 L167.09 533.6 L167.49 533.67 L167.89 533.73 L168.28 533.79 L168.68 533.84 L169.07 533.89 L169.47 533.93 L169.87 533.97 L170.26 534.01 L170.66 534.04 L171.06 534.07 L171.45 534.1 L171.85 534.12 L172.25 534.15 L172.64 534.17 L173.04 534.19 L174.63 534.26 L176.21 534.31 L177.8 534.34 L179.38 534.37 L180.97 534.39" fill="none" stroke="#222222" stroke-width="0.7" stroke-linejoin="round"/>
<path d="M109.6 534.6 L110 532.46 L110.39 530.76 L110.79 529.4 L111.19 528.32 L111.58 527.45 L111.98 526.76 L112.38 526.2 L112.77 525.75 L113.17 525.38 L113.56 525.08 L113.96 524.84 L114.36 524.64 L114.75 524.47 L115.15 524.34 L115.55 524.22 L115.94 524.12 L116.34 524.04 L116.74 523.97 L117.13 523.91 L117.53 523.85 L117.93 523.81 L118.32 523.76 L118.72 523.73 L119.12 523.69 L120.7 523.59 L122.29 523.51 L123.87 523.45 L125.46 523.41 L127.05 523.38 L128.63 523.35 L130.22 523.33 L131.8 523.31 L133.39 523.3 L134.98 523.29 L136.56 523.28 L138.15 523.28 L139.73 523.27 L141.32 523.27 L142.91 523.26 L144.49 523.26 L146.08 523.26 L147.66 523.26 L149.25 523.26 L150.84 523.26 L152.42 523.26 L154.01 523.26 L155.59 523.26 L157.18 523.25 L157.58 524.16 L157.97 524.99 L158.37 525.75 L158.77 526.45 L159.16 527.09 L159.56 527.67 L159.96 528.21 L160.35 528.71 L160.75 529.16 L161.14 529.58 L161.54 529.97 L161.94 530.32 L162.33 530.64 L162.73 530.94 L163.13 531.21 L163.52 531.46 L163.92 531.69 L164.32 531.9 L164.71 532.1 L165.11 532.27 L165.51 532.44 L165.9 532.59 L166.3 532.73 L166.7 532.85 L167.09 532.97 L167.49 533.08 L167.89 533.18 L168.28 533.27 L168.68 533.35 L169.07 533.43 L169.47 533.5 L169.87 533.56 L170.26 533.62 L170.66 533.68 L171.06 533.73 L171.45 533.77 L171.85 533.82 L172.25 533.86 L172.64 533.89 L173.04 533.93 L174.63 534.04 L176.21 534.12 L177.8 534.18 L179.38 534.23 L180.97 534.26" fill="none" stroke="#1f3cff" stroke-width="0.7" stroke-linejoin="round"/>
<path d="M109.6 534.6 L110 529.7 L110.39 526.41 L110.79 524.19 L111.19 522.68 L111.58 521.64 L111.98 520.92 L112.38 520.41 L112.77 520.04 L113.17 519.77 L113.56 519.56 L113.96 519.41 L114.36 519.28 L114.75 519.18 L115.15 519.1 L115.55 519.03 L115.94 518.97 L116.34 518.92 L116.74 518.88 L117.13 518.84 L117.53 518.8 L117.93 518.77 L118.32 518.75 L118.72 518.72 L119.12 518.7 L120.7 518.63 L122.29 518.59 L123.87 518.56 L125.46 518.54 L127.05 518.52 L128.63 518.52 L130.22 518.51 L131.8 518.51 L133.39 518.5 L134.98 518.5 L136.56 518.5 L138.15 518.5 L139.73 518.5 L141.32 518.5 L142.91 518.5 L144.49 518.5 L146.08 518.5 L147.66 518.5 L149.25 518.5 L150.84 518.5 L152.42 518.5 L154.01 518.5 L155.59 518.5 L157.18 518.5 L157.58 519.74 L157.97 520.88 L158.37 521.93 L158.77 522.9 L159.16 523.79 L159.56 524.61 L159.96 525.37 L160.35 526.06 L160.75 526.7 L161.14 527.29 L161.54 527.83 L161.94 528.33 L162.33 528.79 L162.73 529.21 L163.13 529.6 L163.52 529.96 L163.92 530.29 L164.32 530.6 L164.71 530.88 L165.11 531.14 L165.51 531.37 L165.9 531.59 L166.3 531.79 L166.7 531.98 L167.09 532.15 L167.49 532.31 L167.89 532.46 L168.28 532.59 L168.68 532.72 L169.07 532.83 L169.47 532.94 L169.87 533.03 L170.26 533.12 L170.66 533.21 L171.06 533.28 L171.45 533.35 L171.85 533.42 L172.25 533.48 L172.64 533.54 L173.04 533.59 L174.63 533.76 L176.21 533.89 L177.8 533.98 L179.38 534.05 L180.97 534.11" fill="none" stroke="#ff84f4" stroke-width="0.7" stroke-linejoin="round"/>
<path d="M109.6 534.6 L110 526.68 L110.39 522.3 L110.79 519.85 L111.19 518.44 L111.58 517.6 L111.98 517.08 L112.38 516.75 L112.77 516.51 L113.17 516.34 L113.56 516.22 L113.96 516.11 L114.36 516.03 L114.75 515.97 L115.15 515.91 L115.55 515.86 L115.94 515.82 L116.34 515.79 L116.74 515.76 L117.13 515.73 L117.53 515.71 L117.93 515.69 L118.32 515.68 L118.72 515.67 L119.12 515.65 L120.7 515.62 L122.29 515.61 L123.87 515.6 L125.46 515.59 L127.05 515.59 L128.63 515.59 L130.22 515.59 L131.8 515.59 L133.39 515.59 L134.98 515.59 L136.56 515.59 L138.15 515.59 L139.73 515.59 L141.32 515.59 L142.91 515.59 L144.49 515.59 L146.08 515.59 L147.66 515.59 L149.25 515.59 L150.84 515.59 L152.42 515.59 L154.01 515.59 L155.59 515.59 L157.18 515.59 L157.58 517.01 L157.97 518.32 L158.37 519.53 L158.77 520.64 L159.16 521.67 L159.56 522.63 L159.96 523.5 L160.35 524.31 L160.75 525.06 L161.14 525.75 L161.54 526.39 L161.94 526.98 L162.33 527.52 L162.73 528.02 L163.13 528.48 L163.52 528.91 L163.92 529.31 L164.32 529.67 L164.71 530.01 L165.11 530.32 L165.51 530.61 L165.9 530.87 L166.3 531.12 L166.7 531.34 L167.09 531.55 L167.49 531.75 L167.89 531.92 L168.28 532.09 L168.68 532.24 L169.07 532.38 L169.47 532.51 L169.87 532.64 L170.26 532.75 L170.66 532.85 L171.06 532.95 L171.45 533.04 L171.85 533.12 L172.25 533.19 L172.64 533.26 L173.04 533.33 L174.63 533.55 L176.21 533.71 L177.8 533.83 L179.38 533.92 L180.97 533.99" fill="none" stroke="#ff2a1c" stroke-width="0.7" stroke-linejoin="round"/>
<line x1="109.6" y1="488.6" x2="109.6" y2="534.6" stroke="#222" stroke-width="0.8"/>
<line x1="109.2" y1="534.6" x2="180.97" y2="534.6" stroke="#222" stroke-width="0.8"/>
<line x1="108" y1="534.6" x2="109.6" y2="534.6" stroke="#222" stroke-width="0.6"/>
<text class="r" x="105.8" y="536.9" font-size="7" text-anchor="end" font-style="italic">0</text>
<line x1="108" y1="519.27" x2="109.6" y2="519.27" stroke="#222" stroke-width="0.6"/>
<text class="r" x="105.8" y="521.57" font-size="7" text-anchor="end" font-style="italic">1</text>
<line x1="108" y1="503.93" x2="109.6" y2="503.93" stroke="#222" stroke-width="0.6"/>
<text class="r" x="105.8" y="506.23" font-size="7" text-anchor="end" font-style="italic">2</text>
<line x1="108" y1="488.6" x2="109.6" y2="488.6" stroke="#222" stroke-width="0.6"/>
<text class="r" x="105.8" y="490.9" font-size="7" text-anchor="end" font-style="italic">3</text>
<line x1="109.6" y1="534.6" x2="109.6" y2="536.2" stroke="#222" stroke-width="0.6"/>
<text class="r" font-size="7" font-style="italic" text-anchor="middle" transform="translate(110.6 541.9) rotate(-57)" y="2.3">0</text>
<line x1="117.53" y1="534.6" x2="117.53" y2="536.2" stroke="#222" stroke-width="0.6"/>
<text class="r" font-size="7" font-style="italic" text-anchor="middle" transform="translate(118.53 541.9) rotate(-57)" y="2.3">10</text>
<line x1="125.46" y1="534.6" x2="125.46" y2="536.2" stroke="#222" stroke-width="0.6"/>
<text class="r" font-size="7" font-style="italic" text-anchor="middle" transform="translate(126.46 541.9) rotate(-57)" y="2.3">20</text>
<line x1="133.39" y1="534.6" x2="133.39" y2="536.2" stroke="#222" stroke-width="0.6"/>
<text class="r" font-size="7" font-style="italic" text-anchor="middle" transform="translate(134.39 541.9) rotate(-57)" y="2.3">30</text>
<line x1="141.32" y1="534.6" x2="141.32" y2="536.2" stroke="#222" stroke-width="0.6"/>
<text class="r" font-size="7" font-style="italic" text-anchor="middle" transform="translate(142.32 541.9) rotate(-57)" y="2.3">40</text>
<line x1="149.25" y1="534.6" x2="149.25" y2="536.2" stroke="#222" stroke-width="0.6"/>
<text class="r" font-size="7" font-style="italic" text-anchor="middle" transform="translate(150.25 541.9) rotate(-57)" y="2.3">50</text>
<line x1="157.18" y1="534.6" x2="157.18" y2="536.2" stroke="#222" stroke-width="0.6"/>
<text class="r" font-size="7" font-style="italic" text-anchor="middle" transform="translate(158.18 541.9) rotate(-57)" y="2.3">60</text>
<line x1="165.11" y1="534.6" x2="165.11" y2="536.2" stroke="#222" stroke-width="0.6"/>
<text class="r" font-size="7" font-style="italic" text-anchor="middle" transform="translate(166.11 541.9) rotate(-57)" y="2.3">70</text>
<line x1="173.04" y1="534.6" x2="173.04" y2="536.2" stroke="#222" stroke-width="0.6"/>
<text class="r" font-size="7" font-style="italic" text-anchor="middle" transform="translate(174.04 541.9) rotate(-57)" y="2.3">80</text>
<line x1="180.97" y1="534.6" x2="180.97" y2="536.2" stroke="#222" stroke-width="0.6"/>
<text class="r" font-size="7" font-style="italic" text-anchor="middle" transform="translate(181.97 541.9) rotate(-57)" y="2.3">90</text>
<text class="s" x="140.4" y="499" font-size="6.9" text-anchor="middle" font-weight="bold">1.8µM</text>
<path d="M198.3 534.6 L198.7 533.75 L199.09 533 L199.49 532.33 L199.89 531.74 L200.28 531.21 L200.68 530.75 L201.08 530.33 L201.47 529.96 L201.87 529.64 L202.27 529.34 L202.66 529.08 L203.06 528.85 L203.45 528.65 L203.85 528.46 L204.25 528.3 L204.64 528.15 L205.04 528.01 L205.44 527.9 L205.83 527.79 L206.23 527.69 L206.63 527.61 L207.02 527.53 L207.42 527.46 L207.82 527.39 L209.4 527.19 L210.99 527.05 L212.57 526.95 L214.16 526.87 L215.75 526.81 L217.33 526.76 L218.92 526.72 L220.5 526.69 L222.09 526.66 L223.68 526.64 L225.26 526.62 L226.85 526.6 L228.43 526.59 L230.02 526.57 L231.61 526.56 L233.19 526.55 L234.78 526.54 L236.36 526.53 L237.95 526.53 L239.54 526.52 L241.12 526.52 L242.71 526.51 L244.29 526.51 L245.88 526.5 L246.28 527.14 L246.67 527.75 L247.07 528.31 L247.47 528.83 L247.86 529.3 L248.26 529.72 L248.66 530.12 L249.05 530.48 L249.45 530.81 L249.85 531.11 L250.24 531.38 L250.64 531.63 L251.03 531.86 L251.43 532.08 L251.83 532.27 L252.22 532.45 L252.62 532.61 L253.02 532.76 L253.41 532.89 L253.81 533.02 L254.21 533.13 L254.6 533.24 L255 533.33 L255.4 533.42 L255.79 533.5 L256.19 533.57 L256.59 533.64 L256.98 533.7 L257.38 533.76 L257.77 533.81 L258.17 533.86 L258.57 533.9 L258.96 533.94 L259.36 533.98 L259.76 534.01 L260.15 534.05 L260.55 534.07 L260.95 534.1 L261.34 534.13 L261.74 534.15 L263.33 534.22 L264.91 534.27 L266.5 534.31 L268.08 534.34 L269.67 534.37" fill="none" stroke="#222222" stroke-width="0.7" stroke-linejoin="round"/>
<path d="M198.3 534.6 L198.7 532.46 L199.09 530.76 L199.49 529.4 L199.89 528.32 L200.28 527.45 L200.68 526.76 L201.08 526.2 L201.47 525.75 L201.87 525.38 L202.27 525.08 L202.66 524.84 L203.06 524.64 L203.45 524.47 L203.85 524.34 L204.25 524.22 L204.64 524.12 L205.04 524.04 L205.44 523.97 L205.83 523.91 L206.23 523.85 L206.63 523.81 L207.02 523.76 L207.42 523.73 L207.82 523.69 L209.4 523.59 L210.99 523.51 L212.57 523.45 L214.16 523.41 L215.75 523.38 L217.33 523.35 L218.92 523.33 L220.5 523.31 L222.09 523.3 L223.68 523.29 L225.26 523.28 L226.85 523.28 L228.43 523.27 L230.02 523.27 L231.61 523.26 L233.19 523.26 L234.78 523.26 L236.36 523.26 L237.95 523.26 L239.54 523.26 L241.12 523.26 L242.71 523.26 L244.29 523.26 L245.88 523.25 L246.28 524.16 L246.67 524.99 L247.07 525.75 L247.47 526.45 L247.86 527.09 L248.26 527.67 L248.66 528.21 L249.05 528.71 L249.45 529.16 L249.85 529.58 L250.24 529.97 L250.64 530.32 L251.03 530.64 L251.43 530.94 L251.83 531.21 L252.22 531.46 L252.62 531.69 L253.02 531.9 L253.41 532.1 L253.81 532.27 L254.21 532.44 L254.6 532.59 L255 532.73 L255.4 532.85 L255.79 532.97 L256.19 533.08 L256.59 533.18 L256.98 533.27 L257.38 533.35 L257.77 533.43 L258.17 533.5 L258.57 533.56 L258.96 533.62 L259.36 533.68 L259.76 533.73 L260.15 533.77 L260.55 533.82 L260.95 533.86 L261.34 533.89 L261.74 533.93 L263.33 534.04 L264.91 534.12 L266.5 534.18 L268.08 534.23 L269.67 534.26" fill="none" stroke="#1f3cff" stroke-width="0.7" stroke-linejoin="round"/>
<path d="M198.3 534.6 L198.7 528.16 L199.09 523.83 L199.49 520.92 L199.89 518.93 L200.28 517.56 L200.68 516.62 L201.08 515.94 L201.47 515.46 L201.87 515.11 L202.27 514.84 L202.66 514.63 L203.06 514.47 L203.45 514.34 L203.85 514.23 L204.25 514.14 L204.64 514.06 L205.04 514 L205.44 513.94 L205.83 513.89 L206.23 513.84 L206.63 513.8 L207.02 513.76 L207.42 513.73 L207.82 513.7 L209.4 513.61 L210.99 513.55 L212.57 513.51 L214.16 513.49 L215.75 513.47 L217.33 513.46 L218.92 513.45 L220.5 513.45 L222.09 513.45 L223.68 513.44 L225.26 513.44 L226.85 513.44 L228.43 513.44 L230.02 513.44 L231.61 513.44 L233.19 513.44 L234.78 513.44 L236.36 513.44 L237.95 513.44 L239.54 513.44 L241.12 513.44 L242.71 513.44 L244.29 513.44 L245.88 513.44 L246.28 515.07 L246.67 516.57 L247.07 517.95 L247.47 519.23 L247.86 520.4 L248.26 521.47 L248.66 522.47 L249.05 523.38 L249.45 524.22 L249.85 524.99 L250.24 525.71 L250.64 526.36 L251.03 526.97 L251.43 527.52 L251.83 528.03 L252.22 528.5 L252.62 528.94 L253.02 529.34 L253.41 529.71 L253.81 530.05 L254.21 530.36 L254.6 530.65 L255 530.91 L255.4 531.16 L255.79 531.38 L256.19 531.59 L256.59 531.78 L256.98 531.96 L257.38 532.12 L257.77 532.27 L258.17 532.41 L258.57 532.54 L258.96 532.66 L259.36 532.77 L259.76 532.87 L260.15 532.96 L260.55 533.05 L260.95 533.13 L261.34 533.2 L261.74 533.27 L263.33 533.49 L264.91 533.66 L266.5 533.78 L268.08 533.88 L269.67 533.95" fill="none" stroke="#ff84f4" stroke-width="0.7" stroke-linejoin="round"/>
<path d="M198.3 534.6 L198.7 524.7 L199.09 519.23 L199.49 516.16 L199.89 514.4 L200.28 513.35 L200.68 512.7 L201.08 512.28 L201.47 511.99 L201.87 511.78 L202.27 511.62 L202.66 511.49 L203.06 511.39 L203.45 511.31 L203.85 511.24 L204.25 511.18 L204.64 511.13 L205.04 511.08 L205.44 511.05 L205.83 511.02 L206.23 510.99 L206.63 510.97 L207.02 510.95 L207.42 510.93 L207.82 510.92 L209.4 510.88 L210.99 510.86 L212.57 510.85 L214.16 510.84 L215.75 510.84 L217.33 510.84 L218.92 510.83 L220.5 510.83 L222.09 510.83 L223.68 510.83 L225.26 510.83 L226.85 510.83 L228.43 510.83 L230.02 510.83 L231.61 510.83 L233.19 510.83 L234.78 510.83 L236.36 510.83 L237.95 510.83 L239.54 510.83 L241.12 510.83 L242.71 510.83 L244.29 510.83 L245.88 510.83 L246.28 512.61 L246.67 514.25 L247.07 515.76 L247.47 517.16 L247.86 518.44 L248.26 519.63 L248.66 520.73 L249.05 521.74 L249.45 522.68 L249.85 523.54 L250.24 524.34 L250.64 525.07 L251.03 525.75 L251.43 526.38 L251.83 526.96 L252.22 527.49 L252.62 527.98 L253.02 528.44 L253.41 528.86 L253.81 529.25 L254.21 529.61 L254.6 529.94 L255 530.24 L255.4 530.53 L255.79 530.79 L256.19 531.03 L256.59 531.26 L256.98 531.46 L257.38 531.65 L257.77 531.83 L258.17 531.99 L258.57 532.14 L258.96 532.28 L259.36 532.41 L259.76 532.53 L260.15 532.64 L260.55 532.75 L260.95 532.84 L261.34 532.93 L261.74 533.01 L263.33 533.28 L264.91 533.49 L266.5 533.64 L268.08 533.75 L269.67 533.84" fill="none" stroke="#ff2a1c" stroke-width="0.7" stroke-linejoin="round"/>
<line x1="198.3" y1="488.6" x2="198.3" y2="534.6" stroke="#222" stroke-width="0.8"/>
<line x1="197.9" y1="534.6" x2="269.67" y2="534.6" stroke="#222" stroke-width="0.8"/>
<line x1="196.7" y1="534.6" x2="198.3" y2="534.6" stroke="#222" stroke-width="0.6"/>
<line x1="196.7" y1="519.27" x2="198.3" y2="519.27" stroke="#222" stroke-width="0.6"/>
<line x1="196.7" y1="503.93" x2="198.3" y2="503.93" stroke="#222" stroke-width="0.6"/>
<line x1="196.7" y1="488.6" x2="198.3" y2="488.6" stroke="#222" stroke-width="0.6"/>
<line x1="198.3" y1="534.6" x2="198.3" y2="536.2" stroke="#222" stroke-width="0.6"/>
<text class="r" font-size="7" font-style="italic" text-anchor="middle" transform="translate(199.3 541.9) rotate(-57)" y="2.3">0</text>
<line x1="206.23" y1="534.6" x2="206.23" y2="536.2" stroke="#222" stroke-width="0.6"/>
<text class="r" font-size="7" font-style="italic" text-anchor="middle" transform="translate(207.23 541.9) rotate(-57)" y="2.3">10</text>
<line x1="214.16" y1="534.6" x2="214.16" y2="536.2" stroke="#222" stroke-width="0.6"/>
<text class="r" font-size="7" font-style="italic" text-anchor="middle" transform="translate(215.16 541.9) rotate(-57)" y="2.3">20</text>
<line x1="222.09" y1="534.6" x2="222.09" y2="536.2" stroke="#222" stroke-width="0.6"/>
<text class="r" font-size="7" font-style="italic" text-anchor="middle" transform="translate(223.09 541.9) rotate(-57)" y="2.3">30</text>
<line x1="230.02" y1="534.6" x2="230.02" y2="536.2" stroke="#222" stroke-width="0.6"/>
<text class="r" font-size="7" font-style="italic" text-anchor="middle" transform="translate(231.02 541.9) rotate(-57)" y="2.3">40</text>
<line x1="237.95" y1="534.6" x2="237.95" y2="536.2" stroke="#222" stroke-width="0.6"/>
<text class="r" font-size="7" font-style="italic" text-anchor="middle" transform="translate(238.95 541.9) rotate(-57)" y="2.3">50</text>
<line x1="245.88" y1="534.6" x2="245.88" y2="536.2" stroke="#222" stroke-width="0.6"/>
<text class="r" font-size="7" font-style="italic" text-anchor="middle" transform="translate(246.88 541.9) rotate(-57)" y="2.3">60</text>
<line x1="253.81" y1="534.6" x2="253.81" y2="536.2" stroke="#222" stroke-width="0.6"/>
<text class="r" font-size="7" font-style="italic" text-anchor="middle" transform="translate(254.81 541.9) rotate(-57)" y="2.3">70</text>
<line x1="261.74" y1="534.6" x2="261.74" y2="536.2" stroke="#222" stroke-width="0.6"/>
<text class="r" font-size="7" font-style="italic" text-anchor="middle" transform="translate(262.74 541.9) rotate(-57)" y="2.3">80</text>
<line x1="269.67" y1="534.6" x2="269.67" y2="536.2" stroke="#222" stroke-width="0.6"/>
<text class="r" font-size="7" font-style="italic" text-anchor="middle" transform="translate(270.67 541.9) rotate(-57)" y="2.3">90</text>
<text class="s" x="229.6" y="499" font-size="6.9" text-anchor="middle" font-weight="bold">5.3µM</text>
<path d="M285.1 534.6 L285.5 533.35 L285.89 532.24 L286.29 531.26 L286.69 530.39 L287.08 529.62 L287.48 528.93 L287.88 528.32 L288.27 527.78 L288.67 527.29 L289.06 526.87 L289.46 526.48 L289.86 526.14 L290.25 525.84 L290.65 525.56 L291.05 525.32 L291.44 525.1 L291.84 524.91 L292.24 524.73 L292.63 524.58 L293.03 524.43 L293.43 524.31 L293.82 524.19 L294.22 524.09 L294.62 523.99 L296.2 523.69 L297.79 523.49 L299.37 523.34 L300.96 523.22 L302.55 523.14 L304.13 523.07 L305.72 523.01 L307.3 522.96 L308.89 522.92 L310.48 522.89 L312.06 522.86 L313.65 522.83 L315.23 522.81 L316.82 522.79 L318.41 522.77 L319.99 522.75 L321.58 522.74 L323.16 522.73 L324.75 522.72 L326.34 522.71 L327.92 522.7 L329.51 522.69 L331.09 522.69 L332.68 522.68 L333.08 523.62 L333.47 524.53 L333.87 525.35 L334.27 526.1 L334.66 526.79 L335.06 527.43 L335.46 528 L335.85 528.53 L336.25 529.02 L336.65 529.46 L337.04 529.86 L337.44 530.23 L337.83 530.57 L338.23 530.88 L338.63 531.17 L339.02 531.43 L339.42 531.67 L339.82 531.89 L340.21 532.09 L340.61 532.27 L341.01 532.44 L341.4 532.59 L341.8 532.73 L342.2 532.86 L342.59 532.98 L342.99 533.09 L343.39 533.19 L343.78 533.28 L344.18 533.36 L344.58 533.44 L344.97 533.51 L345.37 533.57 L345.76 533.63 L346.16 533.69 L346.56 533.74 L346.95 533.78 L347.35 533.83 L347.75 533.87 L348.14 533.9 L348.54 533.93 L350.13 534.04 L351.71 534.12 L353.3 534.18 L354.88 534.22 L356.47 534.26" fill="none" stroke="#222222" stroke-width="0.7" stroke-linejoin="round"/>
<path d="M285.1 534.6 L285.5 531.62 L285.89 529.25 L286.29 527.36 L286.69 525.85 L287.08 524.65 L287.48 523.68 L287.88 522.9 L288.27 522.28 L288.67 521.77 L289.06 521.35 L289.46 521.02 L289.86 520.74 L290.25 520.51 L290.65 520.32 L291.05 520.15 L291.44 520.02 L291.84 519.9 L292.24 519.8 L292.63 519.72 L293.03 519.64 L293.43 519.58 L293.82 519.52 L294.22 519.47 L294.62 519.42 L296.2 519.27 L297.79 519.17 L299.37 519.09 L300.96 519.03 L302.55 518.98 L304.13 518.94 L305.72 518.91 L307.3 518.89 L308.89 518.87 L310.48 518.86 L312.06 518.85 L313.65 518.84 L315.23 518.83 L316.82 518.83 L318.41 518.82 L319.99 518.82 L321.58 518.82 L323.16 518.81 L324.75 518.81 L326.34 518.81 L327.92 518.81 L329.51 518.81 L331.09 518.81 L332.68 518.81 L333.08 520.06 L333.47 521.22 L333.87 522.28 L334.27 523.25 L334.66 524.14 L335.06 524.96 L335.46 525.71 L335.85 526.4 L336.25 527.03 L336.65 527.62 L337.04 528.15 L337.44 528.64 L337.83 529.09 L338.23 529.5 L338.63 529.88 L339.02 530.23 L339.42 530.55 L339.82 530.84 L340.21 531.11 L340.61 531.36 L341.01 531.59 L341.4 531.8 L341.8 531.99 L342.2 532.17 L342.59 532.33 L342.99 532.48 L343.39 532.62 L343.78 532.74 L344.18 532.86 L344.58 532.97 L344.97 533.06 L345.37 533.16 L345.76 533.24 L346.16 533.32 L346.56 533.39 L346.95 533.45 L347.35 533.51 L347.75 533.57 L348.14 533.62 L348.54 533.67 L350.13 533.82 L351.71 533.93 L353.3 534.02 L354.88 534.08 L356.47 534.13" fill="none" stroke="#1f3cff" stroke-width="0.7" stroke-linejoin="round"/>
<path d="M285.1 534.6 L285.5 527.46 L285.89 522.66 L286.29 519.43 L286.69 517.23 L287.08 515.71 L287.48 514.66 L287.88 513.92 L288.27 513.38 L288.67 512.99 L289.06 512.69 L289.46 512.46 L289.86 512.28 L290.25 512.14 L290.65 512.02 L291.05 511.92 L291.44 511.83 L291.84 511.76 L292.24 511.69 L292.63 511.63 L293.03 511.58 L293.43 511.54 L293.82 511.5 L294.22 511.46 L294.62 511.43 L296.2 511.33 L297.79 511.27 L299.37 511.22 L300.96 511.19 L302.55 511.18 L304.13 511.16 L305.72 511.16 L307.3 511.15 L308.89 511.15 L310.48 511.14 L312.06 511.14 L313.65 511.14 L315.23 511.14 L316.82 511.14 L318.41 511.14 L319.99 511.14 L321.58 511.14 L323.16 511.14 L324.75 511.14 L326.34 511.14 L327.92 511.14 L329.51 511.14 L331.09 511.14 L332.68 511.14 L333.08 512.95 L333.47 514.61 L333.87 516.14 L334.27 517.55 L334.66 518.85 L335.06 520.05 L335.46 521.15 L335.85 522.16 L336.25 523.09 L336.65 523.95 L337.04 524.74 L337.44 525.47 L337.83 526.14 L338.23 526.75 L338.63 527.32 L339.02 527.84 L339.42 528.32 L339.82 528.77 L340.21 529.18 L340.61 529.55 L341.01 529.9 L341.4 530.22 L341.8 530.51 L342.2 530.78 L342.59 531.03 L342.99 531.26 L343.39 531.48 L343.78 531.67 L344.18 531.85 L344.58 532.02 L344.97 532.17 L345.37 532.32 L345.76 532.45 L346.16 532.57 L346.56 532.68 L346.95 532.78 L347.35 532.88 L347.75 532.97 L348.14 533.05 L348.54 533.12 L350.13 533.37 L351.71 533.56 L353.3 533.7 L354.88 533.8 L356.47 533.88" fill="none" stroke="#ff84f4" stroke-width="0.7" stroke-linejoin="round"/>
<path d="M285.1 534.6 L285.5 522.84 L285.89 516.35 L286.29 512.71 L286.69 510.62 L287.08 509.38 L287.48 508.61 L287.88 508.11 L288.27 507.76 L288.67 507.51 L289.06 507.32 L289.46 507.17 L289.86 507.05 L290.25 506.95 L290.65 506.87 L291.05 506.79 L291.44 506.74 L291.84 506.68 L292.24 506.64 L292.63 506.6 L293.03 506.57 L293.43 506.55 L293.82 506.52 L294.22 506.5 L294.62 506.49 L296.2 506.44 L297.79 506.42 L299.37 506.4 L300.96 506.39 L302.55 506.39 L304.13 506.39 L305.72 506.39 L307.3 506.39 L308.89 506.39 L310.48 506.39 L312.06 506.39 L313.65 506.39 L315.23 506.39 L316.82 506.39 L318.41 506.39 L319.99 506.39 L321.58 506.39 L323.16 506.39 L324.75 506.39 L326.34 506.39 L327.92 506.39 L329.51 506.39 L331.09 506.39 L332.68 506.39 L333.08 508.49 L333.47 510.44 L333.87 512.23 L334.27 513.89 L334.66 515.42 L335.06 516.83 L335.46 518.13 L335.85 519.34 L336.25 520.45 L336.65 521.47 L337.04 522.42 L337.44 523.29 L337.83 524.09 L338.23 524.84 L338.63 525.52 L339.02 526.16 L339.42 526.74 L339.82 527.29 L340.21 527.79 L340.61 528.25 L341.01 528.67 L341.4 529.07 L341.8 529.43 L342.2 529.77 L342.59 530.08 L342.99 530.36 L343.39 530.63 L343.78 530.87 L344.18 531.1 L344.58 531.31 L344.97 531.51 L345.37 531.68 L345.76 531.85 L346.16 532 L346.56 532.15 L346.95 532.28 L347.35 532.4 L347.75 532.51 L348.14 532.62 L348.54 532.72 L350.13 533.04 L351.71 533.28 L353.3 533.46 L354.88 533.6 L356.47 533.7" fill="none" stroke="#ff2a1c" stroke-width="0.7" stroke-linejoin="round"/>
<line x1="285.1" y1="488.6" x2="285.1" y2="534.6" stroke="#222" stroke-width="0.8"/>
<line x1="284.7" y1="534.6" x2="356.47" y2="534.6" stroke="#222" stroke-width="0.8"/>
<line x1="283.5" y1="534.6" x2="285.1" y2="534.6" stroke="#222" stroke-width="0.6"/>
<line x1="283.5" y1="519.27" x2="285.1" y2="519.27" stroke="#222" stroke-width="0.6"/>
<line x1="283.5" y1="503.93" x2="285.1" y2="503.93" stroke="#222" stroke-width="0.6"/>
<line x1="283.5" y1="488.6" x2="285.1" y2="488.6" stroke="#222" stroke-width="0.6"/>
<line x1="285.1" y1="534.6" x2="285.1" y2="536.2" stroke="#222" stroke-width="0.6"/>
<text class="r" font-size="7" font-style="italic" text-anchor="middle" transform="translate(286.1 541.9) rotate(-57)" y="2.3">0</text>
<line x1="293.03" y1="534.6" x2="293.03" y2="536.2" stroke="#222" stroke-width="0.6"/>
<text class="r" font-size="7" font-style="italic" text-anchor="middle" transform="translate(294.03 541.9) rotate(-57)" y="2.3">10</text>
<line x1="300.96" y1="534.6" x2="300.96" y2="536.2" stroke="#222" stroke-width="0.6"/>
<text class="r" font-size="7" font-style="italic" text-anchor="middle" transform="translate(301.96 541.9) rotate(-57)" y="2.3">20</text>
<line x1="308.89" y1="534.6" x2="308.89" y2="536.2" stroke="#222" stroke-width="0.6"/>
<text class="r" font-size="7" font-style="italic" text-anchor="middle" transform="translate(309.89 541.9) rotate(-57)" y="2.3">30</text>
<line x1="316.82" y1="534.6" x2="316.82" y2="536.2" stroke="#222" stroke-width="0.6"/>
<text class="r" font-size="7" font-style="italic" text-anchor="middle" transform="translate(317.82 541.9) rotate(-57)" y="2.3">40</text>
<line x1="324.75" y1="534.6" x2="324.75" y2="536.2" stroke="#222" stroke-width="0.6"/>
<text class="r" font-size="7" font-style="italic" text-anchor="middle" transform="translate(325.75 541.9) rotate(-57)" y="2.3">50</text>
<line x1="332.68" y1="534.6" x2="332.68" y2="536.2" stroke="#222" stroke-width="0.6"/>
<text class="r" font-size="7" font-style="italic" text-anchor="middle" transform="translate(333.68 541.9) rotate(-57)" y="2.3">60</text>
<line x1="340.61" y1="534.6" x2="340.61" y2="536.2" stroke="#222" stroke-width="0.6"/>
<text class="r" font-size="7" font-style="italic" text-anchor="middle" transform="translate(341.61 541.9) rotate(-57)" y="2.3">70</text>
<line x1="348.54" y1="534.6" x2="348.54" y2="536.2" stroke="#222" stroke-width="0.6"/>
<text class="r" font-size="7" font-style="italic" text-anchor="middle" transform="translate(349.54 541.9) rotate(-57)" y="2.3">80</text>
<line x1="356.47" y1="534.6" x2="356.47" y2="536.2" stroke="#222" stroke-width="0.6"/>
<text class="r" font-size="7" font-style="italic" text-anchor="middle" transform="translate(357.47 541.9) rotate(-57)" y="2.3">90</text>
<text class="s" x="316.3" y="499" font-size="6.9" text-anchor="middle" font-weight="bold">4.0µM</text>
<path d="M373 534.6 L373.4 533.72 L373.79 532.94 L374.19 532.25 L374.59 531.63 L374.98 531.09 L375.38 530.6 L375.78 530.17 L376.17 529.79 L376.57 529.45 L376.96 529.15 L377.36 528.88 L377.76 528.64 L378.15 528.42 L378.55 528.23 L378.95 528.06 L379.34 527.9 L379.74 527.77 L380.14 527.64 L380.53 527.53 L380.93 527.43 L381.33 527.34 L381.72 527.26 L382.12 527.19 L382.52 527.12 L384.1 526.91 L385.69 526.76 L387.27 526.66 L388.86 526.58 L390.45 526.52 L392.03 526.47 L393.62 526.43 L395.2 526.39 L396.79 526.36 L398.38 526.34 L399.96 526.32 L401.55 526.3 L403.13 526.28 L404.72 526.27 L406.31 526.26 L407.89 526.25 L409.48 526.24 L411.06 526.23 L412.65 526.22 L414.24 526.22 L415.82 526.21 L417.41 526.2 L418.99 526.2 L420.58 526.2 L420.98 526.86 L421.37 527.5 L421.77 528.08 L422.17 528.61 L422.56 529.1 L422.96 529.54 L423.36 529.95 L423.75 530.32 L424.15 530.66 L424.55 530.97 L424.94 531.26 L425.34 531.52 L425.73 531.76 L426.13 531.98 L426.53 532.18 L426.92 532.36 L427.32 532.53 L427.72 532.69 L428.11 532.83 L428.51 532.96 L428.91 533.08 L429.3 533.18 L429.7 533.28 L430.1 533.37 L430.49 533.46 L430.89 533.53 L431.29 533.6 L431.68 533.67 L432.08 533.73 L432.48 533.78 L432.87 533.83 L433.27 533.88 L433.66 533.92 L434.06 533.96 L434.46 533.99 L434.85 534.02 L435.25 534.05 L435.65 534.08 L436.04 534.11 L436.44 534.13 L438.03 534.21 L439.61 534.26 L441.2 534.3 L442.78 534.33 L444.37 534.36" fill="none" stroke="#222222" stroke-width="0.7" stroke-linejoin="round"/>
<path d="M373 534.6 L373.4 531.88 L373.79 529.72 L374.19 527.99 L374.59 526.62 L374.98 525.52 L375.38 524.64 L375.78 523.93 L376.17 523.35 L376.57 522.89 L376.96 522.51 L377.36 522.2 L377.76 521.95 L378.15 521.74 L378.55 521.56 L378.95 521.42 L379.34 521.29 L379.74 521.19 L380.14 521.1 L380.53 521.02 L380.93 520.95 L381.33 520.89 L381.72 520.84 L382.12 520.79 L382.52 520.75 L384.1 520.61 L385.69 520.51 L387.27 520.44 L388.86 520.39 L390.45 520.34 L392.03 520.31 L393.62 520.28 L395.2 520.26 L396.79 520.25 L398.38 520.23 L399.96 520.22 L401.55 520.22 L403.13 520.21 L404.72 520.21 L406.31 520.2 L407.89 520.2 L409.48 520.2 L411.06 520.19 L412.65 520.19 L414.24 520.19 L415.82 520.19 L417.41 520.19 L418.99 520.19 L420.58 520.19 L420.98 521.33 L421.37 522.39 L421.77 523.35 L422.17 524.24 L422.56 525.06 L422.96 525.8 L423.36 526.49 L423.75 527.12 L424.15 527.7 L424.55 528.23 L424.94 528.71 L425.34 529.16 L425.73 529.57 L426.13 529.95 L426.53 530.29 L426.92 530.61 L427.32 530.9 L427.72 531.17 L428.11 531.42 L428.51 531.64 L428.91 531.85 L429.3 532.04 L429.7 532.22 L430.1 532.38 L430.49 532.53 L430.89 532.66 L431.29 532.79 L431.68 532.91 L432.08 533.01 L432.48 533.11 L432.87 533.2 L433.27 533.28 L433.66 533.36 L434.06 533.43 L434.46 533.49 L434.85 533.55 L435.25 533.61 L435.65 533.66 L436.04 533.7 L436.44 533.75 L438.03 533.89 L439.61 533.99 L441.2 534.07 L442.78 534.13 L444.37 534.17" fill="none" stroke="#1f3cff" stroke-width="0.7" stroke-linejoin="round"/>
<path d="M373 534.6 L373.4 528.06 L373.79 523.68 L374.19 520.72 L374.59 518.7 L374.98 517.32 L375.38 516.35 L375.78 515.67 L376.17 515.18 L376.57 514.82 L376.96 514.55 L377.36 514.34 L377.76 514.18 L378.15 514.05 L378.55 513.94 L378.95 513.84 L379.34 513.76 L379.74 513.7 L380.14 513.64 L380.53 513.58 L380.93 513.54 L381.33 513.5 L381.72 513.46 L382.12 513.43 L382.52 513.4 L384.1 513.31 L385.69 513.25 L387.27 513.21 L388.86 513.18 L390.45 513.17 L392.03 513.16 L393.62 513.15 L395.2 513.14 L396.79 513.14 L398.38 513.14 L399.96 513.14 L401.55 513.14 L403.13 513.13 L404.72 513.13 L406.31 513.13 L407.89 513.13 L409.48 513.13 L411.06 513.13 L412.65 513.13 L414.24 513.13 L415.82 513.13 L417.41 513.13 L418.99 513.13 L420.58 513.13 L420.98 514.79 L421.37 516.31 L421.77 517.71 L422.17 519 L422.56 520.19 L422.96 521.28 L423.36 522.29 L423.75 523.22 L424.15 524.07 L424.55 524.85 L424.94 525.58 L425.34 526.24 L425.73 526.85 L426.13 527.42 L426.53 527.94 L426.92 528.42 L427.32 528.86 L427.72 529.26 L428.11 529.64 L428.51 529.98 L428.91 530.3 L429.3 530.59 L429.7 530.86 L430.1 531.11 L430.49 531.34 L430.89 531.55 L431.29 531.74 L431.68 531.92 L432.08 532.09 L432.48 532.24 L432.87 532.38 L433.27 532.51 L433.66 532.63 L434.06 532.74 L434.46 532.84 L434.85 532.94 L435.25 533.03 L435.65 533.11 L436.04 533.18 L436.44 533.25 L438.03 533.48 L439.61 533.65 L441.2 533.77 L442.78 533.87 L444.37 533.94" fill="none" stroke="#ff84f4" stroke-width="0.7" stroke-linejoin="round"/>
<path d="M373 534.6 L373.4 523.35 L373.79 517.15 L374.19 513.66 L374.59 511.66 L374.98 510.47 L375.38 509.74 L375.78 509.26 L376.17 508.93 L376.57 508.69 L376.96 508.51 L377.36 508.36 L377.76 508.25 L378.15 508.15 L378.55 508.07 L378.95 508 L379.34 507.95 L379.74 507.9 L380.14 507.86 L380.53 507.82 L380.93 507.79 L381.33 507.77 L381.72 507.74 L382.12 507.72 L382.52 507.71 L384.1 507.66 L385.69 507.64 L387.27 507.63 L388.86 507.62 L390.45 507.62 L392.03 507.62 L393.62 507.61 L395.2 507.61 L396.79 507.61 L398.38 507.61 L399.96 507.61 L401.55 507.61 L403.13 507.61 L404.72 507.61 L406.31 507.61 L407.89 507.61 L409.48 507.61 L411.06 507.61 L412.65 507.61 L414.24 507.61 L415.82 507.61 L417.41 507.61 L418.99 507.61 L420.58 507.61 L420.98 509.63 L421.37 511.49 L421.77 513.21 L422.17 514.79 L422.56 516.25 L422.96 517.6 L423.36 518.85 L423.75 520 L424.15 521.06 L424.55 522.04 L424.94 522.95 L425.34 523.78 L425.73 524.55 L426.13 525.26 L426.53 525.92 L426.92 526.53 L427.32 527.09 L427.72 527.6 L428.11 528.08 L428.51 528.52 L428.91 528.93 L429.3 529.31 L429.7 529.65 L430.1 529.98 L430.49 530.27 L430.89 530.55 L431.29 530.8 L431.68 531.04 L432.08 531.25 L432.48 531.45 L432.87 531.64 L433.27 531.81 L433.66 531.97 L434.06 532.12 L434.46 532.25 L434.85 532.38 L435.25 532.5 L435.65 532.6 L436.04 532.7 L436.44 532.8 L438.03 533.11 L439.61 533.34 L441.2 533.51 L442.78 533.64 L444.37 533.74" fill="none" stroke="#ff2a1c" stroke-width="0.7" stroke-linejoin="round"/>
<line x1="373" y1="488.6" x2="373" y2="534.6" stroke="#222" stroke-width="0.8"/>
<line x1="372.6" y1="534.6" x2="444.37" y2="534.6" stroke="#222" stroke-width="0.8"/>
<line x1="371.4" y1="534.6" x2="373" y2="534.6" stroke="#222" stroke-width="0.6"/>
<line x1="371.4" y1="519.27" x2="373" y2="519.27" stroke="#222" stroke-width="0.6"/>
<line x1="371.4" y1="503.93" x2="373" y2="503.93" stroke="#222" stroke-width="0.6"/>
<line x1="371.4" y1="488.6" x2="373" y2="488.6" stroke="#222" stroke-width="0.6"/>
<line x1="373" y1="534.6" x2="373" y2="536.2" stroke="#222" stroke-width="0.6"/>
<text class="r" font-size="7" font-style="italic" text-anchor="middle" transform="translate(374 541.9) rotate(-57)" y="2.3">0</text>
<line x1="380.93" y1="534.6" x2="380.93" y2="536.2" stroke="#222" stroke-width="0.6"/>
<text class="r" font-size="7" font-style="italic" text-anchor="middle" transform="translate(381.93 541.9) rotate(-57)" y="2.3">10</text>
<line x1="388.86" y1="534.6" x2="388.86" y2="536.2" stroke="#222" stroke-width="0.6"/>
<text class="r" font-size="7" font-style="italic" text-anchor="middle" transform="translate(389.86 541.9) rotate(-57)" y="2.3">20</text>
<line x1="396.79" y1="534.6" x2="396.79" y2="536.2" stroke="#222" stroke-width="0.6"/>
<text class="r" font-size="7" font-style="italic" text-anchor="middle" transform="translate(397.79 541.9) rotate(-57)" y="2.3">30</text>
<line x1="404.72" y1="534.6" x2="404.72" y2="536.2" stroke="#222" stroke-width="0.6"/>
<text class="r" font-size="7" font-style="italic" text-anchor="middle" transform="translate(405.72 541.9) rotate(-57)" y="2.3">40</text>
<line x1="412.65" y1="534.6" x2="412.65" y2="536.2" stroke="#222" stroke-width="0.6"/>
<text class="r" font-size="7" font-style="italic" text-anchor="middle" transform="translate(413.65 541.9) rotate(-57)" y="2.3">50</text>
<line x1="420.58" y1="534.6" x2="420.58" y2="536.2" stroke="#222" stroke-width="0.6"/>
<text class="r" font-size="7" font-style="italic" text-anchor="middle" transform="translate(421.58 541.9) rotate(-57)" y="2.3">60</text>
<line x1="428.51" y1="534.6" x2="428.51" y2="536.2" stroke="#222" stroke-width="0.6"/>
<text class="r" font-size="7" font-style="italic" text-anchor="middle" transform="translate(429.51 541.9) rotate(-57)" y="2.3">70</text>
<line x1="436.44" y1="534.6" x2="436.44" y2="536.2" stroke="#222" stroke-width="0.6"/>
<text class="r" font-size="7" font-style="italic" text-anchor="middle" transform="translate(437.44 541.9) rotate(-57)" y="2.3">80</text>
<line x1="444.37" y1="534.6" x2="444.37" y2="536.2" stroke="#222" stroke-width="0.6"/>
<text class="r" font-size="7" font-style="italic" text-anchor="middle" transform="translate(445.37 541.9) rotate(-57)" y="2.3">90</text>
<text class="s" x="401.8" y="499" font-size="6.9" text-anchor="middle" font-weight="bold">4.5µM</text>
<path d="M458.4 534.6 L458.8 534.04 L459.19 533.54 L459.59 533.1 L459.99 532.71 L460.38 532.36 L460.78 532.06 L461.18 531.78 L461.57 531.54 L461.97 531.32 L462.36 531.13 L462.76 530.96 L463.16 530.8 L463.55 530.67 L463.95 530.55 L464.35 530.44 L464.74 530.34 L465.14 530.25 L465.54 530.17 L465.93 530.1 L466.33 530.04 L466.73 529.98 L467.12 529.93 L467.52 529.88 L467.92 529.84 L469.5 529.71 L471.09 529.61 L472.67 529.55 L474.26 529.49 L475.85 529.46 L477.43 529.42 L479.02 529.4 L480.6 529.38 L482.19 529.36 L483.78 529.34 L485.36 529.33 L486.95 529.32 L488.53 529.31 L490.12 529.3 L491.71 529.29 L493.29 529.28 L494.88 529.28 L496.46 529.27 L498.05 529.27 L499.64 529.26 L501.22 529.26 L502.81 529.26 L504.39 529.25 L505.98 529.25 L506.38 529.68 L506.77 530.08 L507.17 530.45 L507.57 530.79 L507.96 531.1 L508.36 531.38 L508.76 531.64 L509.15 531.88 L509.55 532.09 L509.94 532.29 L510.34 532.47 L510.74 532.64 L511.13 532.79 L511.53 532.93 L511.93 533.06 L512.32 533.18 L512.72 533.28 L513.12 533.38 L513.51 533.47 L513.91 533.55 L514.31 533.63 L514.7 533.7 L515.1 533.76 L515.5 533.82 L515.89 533.87 L516.29 533.92 L516.69 533.97 L517.08 534.01 L517.48 534.04 L517.88 534.08 L518.27 534.11 L518.67 534.14 L519.06 534.17 L519.46 534.19 L519.86 534.21 L520.25 534.23 L520.65 534.25 L521.05 534.27 L521.44 534.29 L521.84 534.3 L523.43 534.35 L525.01 534.39 L526.6 534.41 L528.18 534.43 L529.77 534.45" fill="none" stroke="#222222" stroke-width="0.7" stroke-linejoin="round"/>
<path d="M458.4 534.6 L458.8 533.12 L459.19 531.95 L459.59 531.02 L459.99 530.27 L460.38 529.67 L460.78 529.19 L461.18 528.81 L461.57 528.5 L461.97 528.25 L462.36 528.04 L462.76 527.87 L463.16 527.74 L463.55 527.62 L463.95 527.53 L464.35 527.45 L464.74 527.38 L465.14 527.32 L465.54 527.27 L465.93 527.23 L466.33 527.19 L466.73 527.16 L467.12 527.13 L467.52 527.11 L467.92 527.08 L469.5 527.01 L471.09 526.96 L472.67 526.92 L474.26 526.89 L475.85 526.87 L477.43 526.85 L479.02 526.83 L480.6 526.82 L482.19 526.81 L483.78 526.81 L485.36 526.8 L486.95 526.8 L488.53 526.79 L490.12 526.79 L491.71 526.79 L493.29 526.79 L494.88 526.78 L496.46 526.78 L498.05 526.78 L499.64 526.78 L501.22 526.78 L502.81 526.78 L504.39 526.78 L505.98 526.78 L506.38 527.4 L506.77 527.97 L507.17 528.5 L507.57 528.98 L507.96 529.42 L508.36 529.83 L508.76 530.2 L509.15 530.54 L509.55 530.85 L509.94 531.14 L510.34 531.41 L510.74 531.65 L511.13 531.87 L511.53 532.08 L511.93 532.26 L512.32 532.44 L512.72 532.59 L513.12 532.74 L513.51 532.87 L513.91 533 L514.31 533.11 L514.7 533.21 L515.1 533.31 L515.5 533.4 L515.89 533.48 L516.29 533.55 L516.69 533.62 L517.08 533.68 L517.48 533.74 L517.88 533.79 L518.27 533.84 L518.67 533.88 L519.06 533.93 L519.46 533.96 L519.86 534 L520.25 534.03 L520.65 534.06 L521.05 534.09 L521.44 534.11 L521.84 534.14 L523.43 534.21 L525.01 534.27 L526.6 534.31 L528.18 534.34 L529.77 534.37" fill="none" stroke="#1f3cff" stroke-width="0.7" stroke-linejoin="round"/>
<path d="M458.4 534.6 L458.8 530.21 L459.19 527.27 L459.59 525.28 L459.99 523.93 L460.38 523 L460.78 522.35 L461.18 521.89 L461.57 521.56 L461.97 521.32 L462.36 521.14 L462.76 521 L463.16 520.89 L463.55 520.8 L463.95 520.73 L464.35 520.66 L464.74 520.61 L465.14 520.56 L465.54 520.52 L465.93 520.49 L466.33 520.46 L466.73 520.43 L467.12 520.41 L467.52 520.38 L467.92 520.36 L469.5 520.3 L471.09 520.26 L472.67 520.24 L474.26 520.22 L475.85 520.21 L477.43 520.2 L479.02 520.2 L480.6 520.19 L482.19 520.19 L483.78 520.19 L485.36 520.19 L486.95 520.19 L488.53 520.19 L490.12 520.19 L491.71 520.19 L493.29 520.19 L494.88 520.19 L496.46 520.19 L498.05 520.19 L499.64 520.19 L501.22 520.19 L502.81 520.19 L504.39 520.19 L505.98 520.19 L506.38 521.3 L506.77 522.32 L507.17 523.26 L507.57 524.13 L507.96 524.93 L508.36 525.66 L508.76 526.33 L509.15 526.96 L509.55 527.53 L509.94 528.06 L510.34 528.54 L510.74 528.99 L511.13 529.4 L511.53 529.78 L511.93 530.13 L512.32 530.45 L512.72 530.74 L513.12 531.02 L513.51 531.27 L513.91 531.5 L514.31 531.71 L514.7 531.91 L515.1 532.09 L515.5 532.26 L515.89 532.41 L516.29 532.55 L516.69 532.68 L517.08 532.8 L517.48 532.91 L517.88 533.02 L518.27 533.11 L518.67 533.2 L519.06 533.28 L519.46 533.35 L519.86 533.42 L520.25 533.48 L520.65 533.54 L521.05 533.6 L521.44 533.65 L521.84 533.69 L523.43 533.85 L525.01 533.96 L526.6 534.04 L528.18 534.11 L529.77 534.16" fill="none" stroke="#ff84f4" stroke-width="0.7" stroke-linejoin="round"/>
<path d="M458.4 534.6 L458.8 526.93 L459.19 522.7 L459.59 520.33 L459.99 518.96 L460.38 518.15 L460.78 517.65 L461.18 517.32 L461.57 517.1 L461.97 516.93 L462.36 516.81 L462.76 516.71 L463.16 516.63 L463.55 516.57 L463.95 516.51 L464.35 516.47 L464.74 516.43 L465.14 516.39 L465.54 516.37 L465.93 516.34 L466.33 516.32 L466.73 516.3 L467.12 516.29 L467.52 516.28 L467.92 516.26 L469.5 516.23 L471.09 516.22 L472.67 516.21 L474.26 516.21 L475.85 516.2 L477.43 516.2 L479.02 516.2 L480.6 516.2 L482.19 516.2 L483.78 516.2 L485.36 516.2 L486.95 516.2 L488.53 516.2 L490.12 516.2 L491.71 516.2 L493.29 516.2 L494.88 516.2 L496.46 516.2 L498.05 516.2 L499.64 516.2 L501.22 516.2 L502.81 516.2 L504.39 516.2 L505.98 516.2 L506.38 517.57 L506.77 518.84 L507.17 520.01 L507.57 521.09 L507.96 522.09 L508.36 523.01 L508.76 523.86 L509.15 524.65 L509.55 525.37 L509.94 526.04 L510.34 526.65 L510.74 527.22 L511.13 527.75 L511.53 528.23 L511.93 528.68 L512.32 529.1 L512.72 529.48 L513.12 529.83 L513.51 530.16 L513.91 530.46 L514.31 530.73 L514.7 530.99 L515.1 531.23 L515.5 531.45 L515.89 531.65 L516.29 531.84 L516.69 532.01 L517.08 532.17 L517.48 532.32 L517.88 532.46 L518.27 532.58 L518.67 532.7 L519.06 532.81 L519.46 532.91 L519.86 533 L520.25 533.09 L520.65 533.17 L521.05 533.24 L521.44 533.31 L521.84 533.37 L523.43 533.58 L525.01 533.74 L526.6 533.86 L528.18 533.95 L529.77 534.01" fill="none" stroke="#ff2a1c" stroke-width="0.7" stroke-linejoin="round"/>
<line x1="458.4" y1="488.6" x2="458.4" y2="534.6" stroke="#222" stroke-width="0.8"/>
<line x1="458" y1="534.6" x2="529.77" y2="534.6" stroke="#222" stroke-width="0.8"/>
<line x1="456.8" y1="534.6" x2="458.4" y2="534.6" stroke="#222" stroke-width="0.6"/>
<line x1="456.8" y1="519.27" x2="458.4" y2="519.27" stroke="#222" stroke-width="0.6"/>
<line x1="456.8" y1="503.93" x2="458.4" y2="503.93" stroke="#222" stroke-width="0.6"/>
<line x1="456.8" y1="488.6" x2="458.4" y2="488.6" stroke="#222" stroke-width="0.6"/>
<line x1="458.4" y1="534.6" x2="458.4" y2="536.2" stroke="#222" stroke-width="0.6"/>
<text class="r" font-size="7" font-style="italic" text-anchor="middle" transform="translate(459.4 541.9) rotate(-57)" y="2.3">0</text>
<line x1="466.33" y1="534.6" x2="466.33" y2="536.2" stroke="#222" stroke-width="0.6"/>
<text class="r" font-size="7" font-style="italic" text-anchor="middle" transform="translate(467.33 541.9) rotate(-57)" y="2.3">10</text>
<line x1="474.26" y1="534.6" x2="474.26" y2="536.2" stroke="#222" stroke-width="0.6"/>
<text class="r" font-size="7" font-style="italic" text-anchor="middle" transform="translate(475.26 541.9) rotate(-57)" y="2.3">20</text>
<line x1="482.19" y1="534.6" x2="482.19" y2="536.2" stroke="#222" stroke-width="0.6"/>
<text class="r" font-size="7" font-style="italic" text-anchor="middle" transform="translate(483.19 541.9) rotate(-57)" y="2.3">30</text>
<line x1="490.12" y1="534.6" x2="490.12" y2="536.2" stroke="#222" stroke-width="0.6"/>
<text class="r" font-size="7" font-style="italic" text-anchor="middle" transform="translate(491.12 541.9) rotate(-57)" y="2.3">40</text>
<line x1="498.05" y1="534.6" x2="498.05" y2="536.2" stroke="#222" stroke-width="0.6"/>
<text class="r" font-size="7" font-style="italic" text-anchor="middle" transform="translate(499.05 541.9) rotate(-57)" y="2.3">50</text>
<line x1="505.98" y1="534.6" x2="505.98" y2="536.2" stroke="#222" stroke-width="0.6"/>
<text class="r" font-size="7" font-style="italic" text-anchor="middle" transform="translate(506.98 541.9) rotate(-57)" y="2.3">60</text>
<line x1="513.91" y1="534.6" x2="513.91" y2="536.2" stroke="#222" stroke-width="0.6"/>
<text class="r" font-size="7" font-style="italic" text-anchor="middle" transform="translate(514.91 541.9) rotate(-57)" y="2.3">70</text>
<line x1="521.84" y1="534.6" x2="521.84" y2="536.2" stroke="#222" stroke-width="0.6"/>
<text class="r" font-size="7" font-style="italic" text-anchor="middle" transform="translate(522.84 541.9) rotate(-57)" y="2.3">80</text>
<line x1="529.77" y1="534.6" x2="529.77" y2="536.2" stroke="#222" stroke-width="0.6"/>
<text class="r" font-size="7" font-style="italic" text-anchor="middle" transform="translate(530.77 541.9) rotate(-57)" y="2.3">90</text>
<text class="s" x="489.7" y="499" font-size="6.9" text-anchor="middle" font-weight="bold">13.6µM</text>
<path d="M544.9 534.6 L545.3 534.33 L545.69 534.21 L546.09 534.16 L546.49 534.13 L546.88 534.12 L547.28 534.11 L547.68 534.1 L548.07 534.1 L548.47 534.1 L548.87 534.1 L549.26 534.1 L549.66 534.1 L550.05 534.1 L550.45 534.1 L550.85 534.1 L551.24 534.11 L551.64 534.11 L552.04 534.11 L552.43 534.11 L552.83 534.11 L553.23 534.11 L553.62 534.12 L554.02 534.12 L554.42 534.12 L556 534.13 L557.59 534.13 L559.17 534.14 L560.76 534.15 L562.35 534.16 L563.93 534.17 L565.52 534.17 L567.1 534.18 L568.69 534.19 L570.28 534.2 L571.86 534.21 L573.45 534.21 L575.03 534.22 L576.62 534.23 L578.21 534.24 L579.79 534.25 L581.38 534.25 L582.96 534.26 L584.55 534.27 L586.14 534.28 L587.72 534.29 L589.31 534.29 L590.89 534.3 L592.48 534.31" fill="none" stroke="#222222" stroke-width="0.7" stroke-linejoin="round"/>
<path d="M544.9 534.6 L545.3 534.06 L545.69 533.82 L546.09 533.71 L546.49 533.66 L546.88 533.63 L547.28 533.62 L547.68 533.61 L548.07 533.6 L548.47 533.6 L548.87 533.6 L549.26 533.6 L549.66 533.6 L550.05 533.6 L550.45 533.61 L550.85 533.61 L551.24 533.61 L551.64 533.61 L552.04 533.62 L552.43 533.62 L552.83 533.62 L553.23 533.63 L553.62 533.63 L554.02 533.63 L554.42 533.64 L556 533.65 L557.59 533.67 L559.17 533.68 L560.76 533.7 L562.35 533.72 L563.93 533.73 L565.52 533.75 L567.1 533.76 L568.69 533.78 L570.28 533.8 L571.86 533.81 L573.45 533.83 L575.03 533.84 L576.62 533.86 L578.21 533.88 L579.79 533.89 L581.38 533.91 L582.96 533.92 L584.55 533.94 L586.14 533.95 L587.72 533.97 L589.31 533.99 L590.89 534 L592.48 534.02" fill="none" stroke="#1f3cff" stroke-width="0.7" stroke-linejoin="round"/>
<path d="M544.9 534.6 L545.3 533.62 L545.69 533.17 L546.09 532.97 L546.49 532.87 L546.88 532.82 L547.28 532.8 L547.68 532.78 L548.07 532.77 L548.47 532.77 L548.87 532.77 L549.26 532.77 L549.66 532.77 L550.05 532.77 L550.45 532.78 L550.85 532.78 L551.24 532.79 L551.64 532.79 L552.04 532.8 L552.43 532.8 L552.83 532.81 L553.23 532.82 L553.62 532.82 L554.02 532.83 L554.42 532.84 L556 532.86 L557.59 532.89 L559.17 532.92 L560.76 532.95 L562.35 532.98 L563.93 533.01 L565.52 533.04 L567.1 533.07 L568.69 533.1 L570.28 533.13 L571.86 533.15 L573.45 533.18 L575.03 533.21 L576.62 533.24 L578.21 533.27 L579.79 533.3 L581.38 533.33 L582.96 533.36 L584.55 533.39 L586.14 533.42 L587.72 533.45 L589.31 533.47 L590.89 533.5 L592.48 533.53" fill="none" stroke="#ff84f4" stroke-width="0.7" stroke-linejoin="round"/>
<path d="M544.9 534.6 L545.3 532.81 L545.69 532.01 L546.09 531.64 L546.49 531.46 L546.88 531.37 L547.28 531.32 L547.68 531.29 L548.07 531.28 L548.47 531.27 L548.87 531.27 L549.26 531.27 L549.66 531.27 L550.05 531.28 L550.45 531.29 L550.85 531.29 L551.24 531.3 L551.64 531.31 L552.04 531.32 L552.43 531.33 L552.83 531.35 L553.23 531.36 L553.62 531.37 L554.02 531.38 L554.42 531.39 L556 531.45 L557.59 531.5 L559.17 531.55 L560.76 531.6 L562.35 531.66 L563.93 531.71 L565.52 531.76 L567.1 531.81 L568.69 531.87 L570.28 531.92 L571.86 531.97 L573.45 532.03 L575.03 532.08 L576.62 532.13 L578.21 532.18 L579.79 532.24 L581.38 532.29 L582.96 532.34 L584.55 532.4 L586.14 532.45 L587.72 532.5 L589.31 532.55 L590.89 532.61 L592.48 532.66" fill="none" stroke="#ff2a1c" stroke-width="0.7" stroke-linejoin="round"/>
<line x1="544.9" y1="488.6" x2="544.9" y2="534.6" stroke="#222" stroke-width="0.8"/>
<line x1="544.5" y1="534.6" x2="616.27" y2="534.6" stroke="#222" stroke-width="0.8"/>
<line x1="543.3" y1="534.6" x2="544.9" y2="534.6" stroke="#222" stroke-width="0.6"/>
<line x1="543.3" y1="519.27" x2="544.9" y2="519.27" stroke="#222" stroke-width="0.6"/>
<line x1="543.3" y1="503.93" x2="544.9" y2="503.93" stroke="#222" stroke-width="0.6"/>
<line x1="543.3" y1="488.6" x2="544.9" y2="488.6" stroke="#222" stroke-width="0.6"/>
<line x1="544.9" y1="534.6" x2="544.9" y2="536.2" stroke="#222" stroke-width="0.6"/>
<text class="r" font-size="7" font-style="italic" text-anchor="middle" transform="translate(545.9 541.9) rotate(-57)" y="2.3">0</text>
<line x1="552.83" y1="534.6" x2="552.83" y2="536.2" stroke="#222" stroke-width="0.6"/>
<text class="r" font-size="7" font-style="italic" text-anchor="middle" transform="translate(553.83 541.9) rotate(-57)" y="2.3">10</text>
<line x1="560.76" y1="534.6" x2="560.76" y2="536.2" stroke="#222" stroke-width="0.6"/>
<text class="r" font-size="7" font-style="italic" text-anchor="middle" transform="translate(561.76 541.9) rotate(-57)" y="2.3">20</text>
<line x1="568.69" y1="534.6" x2="568.69" y2="536.2" stroke="#222" stroke-width="0.6"/>
<text class="r" font-size="7" font-style="italic" text-anchor="middle" transform="translate(569.69 541.9) rotate(-57)" y="2.3">30</text>
<line x1="576.62" y1="534.6" x2="576.62" y2="536.2" stroke="#222" stroke-width="0.6"/>
<text class="r" font-size="7" font-style="italic" text-anchor="middle" transform="translate(577.62 541.9) rotate(-57)" y="2.3">40</text>
<line x1="584.55" y1="534.6" x2="584.55" y2="536.2" stroke="#222" stroke-width="0.6"/>
<text class="r" font-size="7" font-style="italic" text-anchor="middle" transform="translate(585.55 541.9) rotate(-57)" y="2.3">50</text>
<line x1="592.48" y1="534.6" x2="592.48" y2="536.2" stroke="#222" stroke-width="0.6"/>
<text class="r" font-size="7" font-style="italic" text-anchor="middle" transform="translate(593.48 541.9) rotate(-57)" y="2.3">60</text>
<line x1="600.41" y1="534.6" x2="600.41" y2="536.2" stroke="#222" stroke-width="0.6"/>
<text class="r" font-size="7" font-style="italic" text-anchor="middle" transform="translate(601.41 541.9) rotate(-57)" y="2.3">70</text>
<line x1="608.34" y1="534.6" x2="608.34" y2="536.2" stroke="#222" stroke-width="0.6"/>
<text class="r" font-size="7" font-style="italic" text-anchor="middle" transform="translate(609.34 541.9) rotate(-57)" y="2.3">80</text>
<line x1="616.27" y1="534.6" x2="616.27" y2="536.2" stroke="#222" stroke-width="0.6"/>
<text class="r" font-size="7" font-style="italic" text-anchor="middle" transform="translate(617.27 541.9) rotate(-57)" y="2.3">90</text>
<text class="s" x="576.7" y="499" font-size="6.9" text-anchor="middle" font-weight="bold">&gt;100µM</text>
<line x1="625" y1="497.7" x2="633.6" y2="497.7" stroke="#ff2a1c" stroke-width="0.9"/>
<text class="s" x="654.2" y="500.1" font-size="6.8" text-anchor="end">10 µM</text>
<line x1="625" y1="508.4" x2="633.6" y2="508.4" stroke="#ff84f4" stroke-width="0.9"/>
<text class="s" x="654.2" y="510.8" font-size="6.8" text-anchor="end">5 µM</text>
<line x1="625" y1="518.8" x2="633.6" y2="518.8" stroke="#1f3cff" stroke-width="0.9"/>
<text class="s" x="654.2" y="521.2" font-size="6.8" text-anchor="end">2 µM</text>
<line x1="625" y1="528.5" x2="633.6" y2="528.5" stroke="#222222" stroke-width="0.9"/>
<text class="s" x="654.2" y="530.9" font-size="6.8" text-anchor="end">1 µM</text>
<line x1="104.8" y1="564.5" x2="104.8" y2="682.6" stroke="#6a6a6a" stroke-width="0.8"/>
<line x1="104.4" y1="682.6" x2="264.4" y2="682.6" stroke="#6a6a6a" stroke-width="0.8"/>
<line x1="102.2" y1="564.8" x2="105.6" y2="564.8" stroke="#444" stroke-width="0.6"/>
<text class="r" x="99.4" y="567.2" font-size="7" font-style="italic" text-anchor="end">10<tspan dy="-2.7" dx="0.2" font-size="4.4">2</tspan></text>
<line x1="103.5" y1="592.25" x2="105.8" y2="592.25" stroke="#666" stroke-width="0.45"/>
<line x1="103.5" y1="585.33" x2="105.8" y2="585.33" stroke="#666" stroke-width="0.45"/>
<line x1="103.5" y1="580.43" x2="105.8" y2="580.43" stroke="#666" stroke-width="0.45"/>
<line x1="103.5" y1="576.62" x2="105.8" y2="576.62" stroke="#666" stroke-width="0.45"/>
<line x1="103.5" y1="573.51" x2="105.8" y2="573.51" stroke="#666" stroke-width="0.45"/>
<line x1="103.5" y1="570.88" x2="105.8" y2="570.88" stroke="#666" stroke-width="0.45"/>
<line x1="103.5" y1="568.61" x2="105.8" y2="568.61" stroke="#666" stroke-width="0.45"/>
<line x1="103.5" y1="566.6" x2="105.8" y2="566.6" stroke="#666" stroke-width="0.45"/>
<line x1="102.2" y1="604.07" x2="105.6" y2="604.07" stroke="#444" stroke-width="0.6"/>
<text class="r" x="99.4" y="606.47" font-size="7" font-style="italic" text-anchor="end">10<tspan dy="-2.7" dx="0.2" font-size="4.4">1</tspan></text>
<line x1="103.5" y1="631.51" x2="105.8" y2="631.51" stroke="#666" stroke-width="0.45"/>
<line x1="103.5" y1="624.6" x2="105.8" y2="624.6" stroke="#666" stroke-width="0.45"/>
<line x1="103.5" y1="619.69" x2="105.8" y2="619.69" stroke="#666" stroke-width="0.45"/>
<line x1="103.5" y1="615.89" x2="105.8" y2="615.89" stroke="#666" stroke-width="0.45"/>
<line x1="103.5" y1="612.78" x2="105.8" y2="612.78" stroke="#666" stroke-width="0.45"/>
<line x1="103.5" y1="610.15" x2="105.8" y2="610.15" stroke="#666" stroke-width="0.45"/>
<line x1="103.5" y1="607.87" x2="105.8" y2="607.87" stroke="#666" stroke-width="0.45"/>
<line x1="103.5" y1="605.86" x2="105.8" y2="605.86" stroke="#666" stroke-width="0.45"/>
<line x1="102.2" y1="643.33" x2="105.6" y2="643.33" stroke="#444" stroke-width="0.6"/>
<text class="r" x="99.4" y="645.73" font-size="7" font-style="italic" text-anchor="end">10<tspan dy="-2.7" dx="0.2" font-size="4.4">0</tspan></text>
<line x1="103.5" y1="670.78" x2="105.8" y2="670.78" stroke="#666" stroke-width="0.45"/>
<line x1="103.5" y1="663.87" x2="105.8" y2="663.87" stroke="#666" stroke-width="0.45"/>
<line x1="103.5" y1="658.96" x2="105.8" y2="658.96" stroke="#666" stroke-width="0.45"/>
<line x1="103.5" y1="655.15" x2="105.8" y2="655.15" stroke="#666" stroke-width="0.45"/>
<line x1="103.5" y1="652.04" x2="105.8" y2="652.04" stroke="#666" stroke-width="0.45"/>
<line x1="103.5" y1="649.42" x2="105.8" y2="649.42" stroke="#666" stroke-width="0.45"/>
<line x1="103.5" y1="647.14" x2="105.8" y2="647.14" stroke="#666" stroke-width="0.45"/>
<line x1="103.5" y1="645.13" x2="105.8" y2="645.13" stroke="#666" stroke-width="0.45"/>
<line x1="102.2" y1="682.6" x2="105.6" y2="682.6" stroke="#444" stroke-width="0.6"/>
<text class="r" x="99.4" y="685" font-size="7" font-style="italic" text-anchor="end">10<tspan dy="-2.7" dx="0.2" font-size="4.4">-1</tspan></text>
<line x1="112.4" y1="681.1" x2="112.4" y2="684.2" stroke="#444" stroke-width="0.6"/>
<text class="r" x="112.4" y="692.4" font-size="6.8" text-anchor="middle" font-style="italic">0</text>
<line x1="142.72" y1="681.1" x2="142.72" y2="684.2" stroke="#444" stroke-width="0.6"/>
<text class="r" x="142.72" y="692.4" font-size="6.8" text-anchor="middle" font-style="italic">2</text>
<line x1="173.04" y1="681.1" x2="173.04" y2="684.2" stroke="#444" stroke-width="0.6"/>
<text class="r" x="173.04" y="692.4" font-size="6.8" text-anchor="middle" font-style="italic">4</text>
<line x1="203.36" y1="681.1" x2="203.36" y2="684.2" stroke="#444" stroke-width="0.6"/>
<text class="r" x="203.36" y="692.4" font-size="6.8" text-anchor="middle" font-style="italic">6</text>
<line x1="233.68" y1="681.1" x2="233.68" y2="684.2" stroke="#444" stroke-width="0.6"/>
<text class="r" x="233.68" y="692.4" font-size="6.8" text-anchor="middle" font-style="italic">8</text>
<line x1="264" y1="681.1" x2="264" y2="684.2" stroke="#444" stroke-width="0.6"/>
<text class="r" x="264" y="692.4" font-size="6.8" text-anchor="middle" font-style="italic">10</text>
<text class="s" x="188.3" y="701" font-size="6.8" text-anchor="middle">% amino acid mutation</text>
<text class="s" font-size="6.8" text-anchor="middle" transform="translate(84 619) rotate(-90)">KD (µM)</text>
<line x1="108.5" y1="598.8" x2="264.2" y2="598.8" stroke="#444" stroke-width="0.8" stroke-dasharray="3.2 1.9"/>
<circle cx="112.4" cy="637" r="2.15" fill="#fff" stroke="#111" stroke-width="0.95"/>
<text class="s" x="115.2" y="639.8" font-size="6.8" fill="#1438ff" style="stroke:#1438ff">gHgL</text>
<circle cx="142.9" cy="625.5" r="2.15" fill="#fff" stroke="#111" stroke-width="0.95"/>
<text class="s" x="146.4" y="631.1" font-size="6.8" fill="#1438ff" style="stroke:#1438ff">mut2</text>
<circle cx="158" cy="613.9" r="2.15" fill="#fff" stroke="#111" stroke-width="0.95"/>
<text class="s" x="162.2" y="617.9" font-size="6.8" fill="#ff2d16" style="stroke:#ff2d16">mut1</text>
<circle cx="172.8" cy="604.3" r="2.15" fill="#fff" stroke="#111" stroke-width="0.95"/>
<text class="s" x="176.6" y="606.7" font-size="6.8" fill="#1438ff" style="stroke:#1438ff">mut4</text>
<circle cx="188.2" cy="618.4" r="2.15" fill="#fff" stroke="#111" stroke-width="0.95"/>
<text class="s" x="194" y="622.1" font-size="6.8" fill="#ff2d16" style="stroke:#ff2d16">mut3</text>
<circle cx="233.8" cy="564.8" r="2.15" fill="#fff" stroke="#111" stroke-width="0.95"/>
<text class="s" x="238" y="567.2" font-size="6.8" fill="#ff2d16" style="stroke:#ff2d16">sHsL</text>
<text class="s" x="194.9" y="567.2" font-size="6.5">(&gt;100 µM)</text>
<text class="s" x="117.5" y="577.6" font-size="6.1" fill="#ff2d16" style="stroke:#ff2d16">isolated</text>
<text class="s" x="117.5" y="586.3" font-size="6.1" fill="#1438ff" style="stroke:#1438ff">inferred</text>
<line x1="283.6" y1="564.1" x2="283.6" y2="597.6" stroke="#444" stroke-width="0.9"/>
<line x1="283.6" y1="604.4" x2="283.6" y2="637.3" stroke="#444" stroke-width="0.9"/>
<line x1="283.6" y1="580.5" x2="297.7" y2="580.5" stroke="#333" stroke-width="0.9"/>
<line x1="283.6" y1="620.5" x2="297.7" y2="620.5" stroke="#333" stroke-width="0.9"/>
<text class="s" x="304.2" y="582.7" font-size="6.8">D368R-sensitive BCR</text>
<text class="s" x="304.2" y="622.5" font-size="6.8">D368R-insensitive BCR</text>
</svg></body></html>
